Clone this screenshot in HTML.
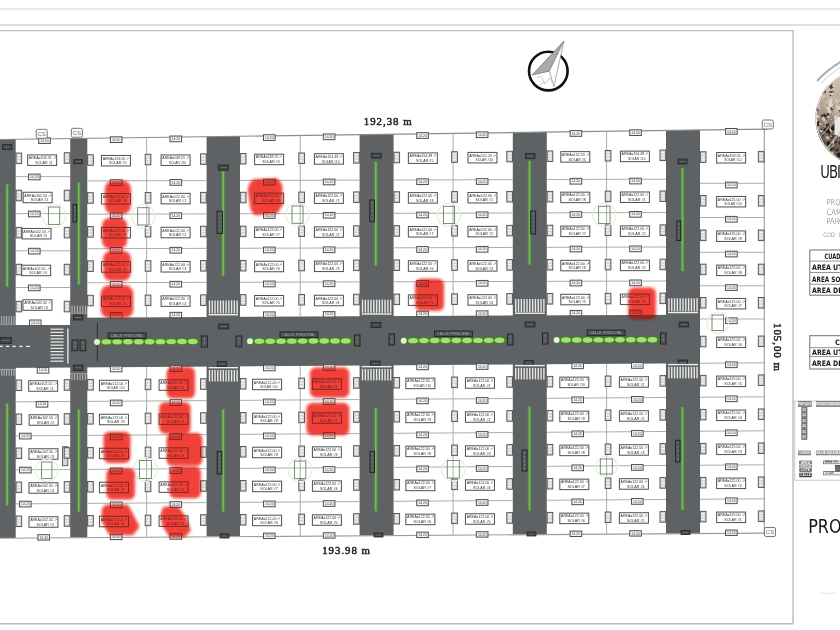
<!DOCTYPE html>
<html><head><meta charset="utf-8"><title>Plano de lotificacion</title>
<style>
html,body{margin:0;padding:0;background:#fff;}
body{width:840px;height:630px;overflow:hidden;position:relative;}
svg{position:absolute;left:0;top:0;filter:blur(0.6px);}
</style></head><body>
<svg width="840" height="630" viewBox="0 0 840 630">
<defs>
<filter id="blur" x="-30%" y="-30%" width="160%" height="160%"><feGaussianBlur stdDeviation="1.5"/></filter>
</defs>
<polygon points="0,325 70.2,325 70.2,317.66 700,314.64 700,363.24 0,368" fill="#5f6264" stroke="none" stroke-width="1" />
<polygon points="0,139.2 15.7,138.99 15.7,537.89 0,538" fill="#5f6264" stroke="none" stroke-width="1" />
<polygon points="70.2,138.25 87.3,138.02 87.3,537.41 70.2,537.52" fill="#5f6264" stroke="none" stroke-width="1" />
<polygon points="206.6,136.41 240,135.96 240,536.37 206.6,536.6" fill="#5f6264" stroke="none" stroke-width="1" />
<polygon points="359.6,134.35 393.6,133.89 393.6,535.32 359.6,535.55" fill="#5f6264" stroke="none" stroke-width="1" />
<polygon points="512.8,132.28 546.8,131.82 546.8,534.28 512.8,534.51" fill="#5f6264" stroke="none" stroke-width="1" />
<polygon points="666,130.21 700,129.75 700,533.24 666,533.47" fill="#5f6264" stroke="none" stroke-width="1" />
<line x1="0" y1="139.5" x2="767" y2="129.15" stroke="#8c8c8c" stroke-width="1.1" />
<line x1="0" y1="538.3" x2="766" y2="533.09" stroke="#9c9c9c" stroke-width="1.1" />
<line x1="764.3" y1="129.18" x2="764.3" y2="532.8" stroke="#9c9c9c" stroke-width="1.1" />
<line x1="15.7" y1="176.6" x2="70.2" y2="176.6" stroke="#a4a4a4" stroke-width="0.9" />
<line x1="15.7" y1="213.6" x2="70.2" y2="213.6" stroke="#a4a4a4" stroke-width="0.9" />
<line x1="15.7" y1="250.8" x2="70.2" y2="250.8" stroke="#a4a4a4" stroke-width="0.9" />
<line x1="15.7" y1="287.5" x2="70.2" y2="287.5" stroke="#a4a4a4" stroke-width="0.9" />
<line x1="15.7" y1="401.89" x2="70.2" y2="401.52" stroke="#a4a4a4" stroke-width="0.9" />
<line x1="15.7" y1="435.89" x2="70.2" y2="435.52" stroke="#a4a4a4" stroke-width="0.9" />
<line x1="15.7" y1="469.89" x2="70.2" y2="469.52" stroke="#a4a4a4" stroke-width="0.9" />
<line x1="15.7" y1="503.89" x2="70.2" y2="503.52" stroke="#a4a4a4" stroke-width="0.9" />
<line x1="87.3" y1="180.94" x2="206.6" y2="180.58" stroke="#a4a4a4" stroke-width="0.9" />
<line x1="87.3" y1="214.24" x2="206.6" y2="213.88" stroke="#a4a4a4" stroke-width="0.9" />
<line x1="87.3" y1="248.74" x2="206.6" y2="248.38" stroke="#a4a4a4" stroke-width="0.9" />
<line x1="87.3" y1="282.74" x2="206.6" y2="282.38" stroke="#a4a4a4" stroke-width="0.9" />
<line x1="146.6" y1="137.52" x2="146.6" y2="317.3" stroke="#a4a4a4" stroke-width="0.9" />
<line x1="87.3" y1="401.41" x2="206.6" y2="400.6" stroke="#a4a4a4" stroke-width="0.9" />
<line x1="87.3" y1="435.41" x2="206.6" y2="434.6" stroke="#a4a4a4" stroke-width="0.9" />
<line x1="87.3" y1="469.41" x2="206.6" y2="468.6" stroke="#a4a4a4" stroke-width="0.9" />
<line x1="87.3" y1="503.41" x2="206.6" y2="502.6" stroke="#a4a4a4" stroke-width="0.9" />
<line x1="146.6" y1="367" x2="146.6" y2="537" stroke="#a4a4a4" stroke-width="0.9" />
<line x1="240" y1="180.48" x2="359.6" y2="180.12" stroke="#a4a4a4" stroke-width="0.9" />
<line x1="240" y1="213.78" x2="359.6" y2="213.42" stroke="#a4a4a4" stroke-width="0.9" />
<line x1="240" y1="248.28" x2="359.6" y2="247.92" stroke="#a4a4a4" stroke-width="0.9" />
<line x1="240" y1="282.28" x2="359.6" y2="281.92" stroke="#a4a4a4" stroke-width="0.9" />
<line x1="300.2" y1="135.45" x2="300.2" y2="316.56" stroke="#a4a4a4" stroke-width="0.9" />
<line x1="240" y1="400.37" x2="359.6" y2="399.55" stroke="#a4a4a4" stroke-width="0.9" />
<line x1="240" y1="434.37" x2="359.6" y2="433.55" stroke="#a4a4a4" stroke-width="0.9" />
<line x1="240" y1="468.37" x2="359.6" y2="467.55" stroke="#a4a4a4" stroke-width="0.9" />
<line x1="240" y1="502.37" x2="359.6" y2="501.55" stroke="#a4a4a4" stroke-width="0.9" />
<line x1="300.2" y1="365.96" x2="300.2" y2="535.96" stroke="#a4a4a4" stroke-width="0.9" />
<line x1="393.6" y1="180.02" x2="512.8" y2="179.66" stroke="#a4a4a4" stroke-width="0.9" />
<line x1="393.6" y1="213.32" x2="512.8" y2="212.96" stroke="#a4a4a4" stroke-width="0.9" />
<line x1="393.6" y1="247.82" x2="512.8" y2="247.46" stroke="#a4a4a4" stroke-width="0.9" />
<line x1="393.6" y1="281.82" x2="512.8" y2="281.46" stroke="#a4a4a4" stroke-width="0.9" />
<line x1="453.1" y1="133.38" x2="453.1" y2="315.83" stroke="#a4a4a4" stroke-width="0.9" />
<line x1="393.6" y1="399.32" x2="512.8" y2="398.51" stroke="#a4a4a4" stroke-width="0.9" />
<line x1="393.6" y1="433.32" x2="512.8" y2="432.51" stroke="#a4a4a4" stroke-width="0.9" />
<line x1="393.6" y1="467.32" x2="512.8" y2="466.51" stroke="#a4a4a4" stroke-width="0.9" />
<line x1="393.6" y1="501.32" x2="512.8" y2="500.51" stroke="#a4a4a4" stroke-width="0.9" />
<line x1="453.1" y1="364.92" x2="453.1" y2="534.92" stroke="#a4a4a4" stroke-width="0.9" />
<line x1="546.8" y1="179.56" x2="666" y2="179.2" stroke="#a4a4a4" stroke-width="0.9" />
<line x1="546.8" y1="212.86" x2="666" y2="212.5" stroke="#a4a4a4" stroke-width="0.9" />
<line x1="546.8" y1="247.36" x2="666" y2="247" stroke="#a4a4a4" stroke-width="0.9" />
<line x1="546.8" y1="281.36" x2="666" y2="281" stroke="#a4a4a4" stroke-width="0.9" />
<line x1="606.6" y1="131.31" x2="606.6" y2="315.09" stroke="#a4a4a4" stroke-width="0.9" />
<line x1="546.8" y1="398.28" x2="666" y2="397.47" stroke="#a4a4a4" stroke-width="0.9" />
<line x1="546.8" y1="432.28" x2="666" y2="431.47" stroke="#a4a4a4" stroke-width="0.9" />
<line x1="546.8" y1="466.28" x2="666" y2="465.47" stroke="#a4a4a4" stroke-width="0.9" />
<line x1="546.8" y1="500.28" x2="666" y2="499.47" stroke="#a4a4a4" stroke-width="0.9" />
<line x1="606.6" y1="363.88" x2="606.6" y2="533.88" stroke="#a4a4a4" stroke-width="0.9" />
<line x1="700" y1="183.3" x2="764.3" y2="183.3" stroke="#a4a4a4" stroke-width="0.9" />
<line x1="700" y1="217.5" x2="764.3" y2="217.5" stroke="#a4a4a4" stroke-width="0.9" />
<line x1="700" y1="252.3" x2="764.3" y2="252.3" stroke="#a4a4a4" stroke-width="0.9" />
<line x1="700" y1="285.8" x2="764.3" y2="285.8" stroke="#a4a4a4" stroke-width="0.9" />
<line x1="700" y1="319" x2="764.3" y2="319" stroke="#a4a4a4" stroke-width="0.9" />
<line x1="700" y1="363.24" x2="764.3" y2="362.8" stroke="#a4a4a4" stroke-width="0.9" />
<line x1="700" y1="397.24" x2="764.3" y2="396.8" stroke="#a4a4a4" stroke-width="0.9" />
<line x1="700" y1="431.24" x2="764.3" y2="430.8" stroke="#a4a4a4" stroke-width="0.9" />
<line x1="700" y1="465.24" x2="764.3" y2="464.8" stroke="#a4a4a4" stroke-width="0.9" />
<line x1="700" y1="499.24" x2="764.3" y2="498.8" stroke="#a4a4a4" stroke-width="0.9" />
<rect x="27.65" y="154.91" width="29" height="10.5" fill="none" stroke="#4e4e4e" stroke-width="1.0" />
<text x="28.85" y="159.21" font-family="Liberation Sans, sans-serif" font-size="3.7" fill="#303030" text-anchor="start" font-weight="normal" textLength="26.6" lengthAdjust="spacingAndGlyphs">AREA=158.26 &#8599;</text>
<text x="35.25" y="163.81" font-family="Liberation Sans, sans-serif" font-size="3.7" fill="#303030" text-anchor="start" font-weight="normal" textLength="17.5" lengthAdjust="spacingAndGlyphs">SOLAR #1</text>
<rect x="38.7" y="137.82" width="11.6" height="5.7" fill="#f4f4f4" stroke="#4e4e4e" stroke-width="1.0" />
<text x="44.5" y="141.82" font-family="Liberation Sans, sans-serif" font-size="3.4" fill="#444" text-anchor="middle" font-weight="normal" >14.20</text>
<rect x="23.15" y="192.25" width="29" height="10.5" fill="none" stroke="#4e4e4e" stroke-width="1.0" />
<text x="24.35" y="196.55" font-family="Liberation Sans, sans-serif" font-size="3.7" fill="#303030" text-anchor="start" font-weight="normal" textLength="26.6" lengthAdjust="spacingAndGlyphs">AREA=102.50 &#8599;</text>
<text x="30.75" y="201.15" font-family="Liberation Sans, sans-serif" font-size="3.7" fill="#303030" text-anchor="start" font-weight="normal" textLength="17.5" lengthAdjust="spacingAndGlyphs">SOLAR #2</text>
<rect x="28.5" y="174.1" width="11.6" height="5.7" fill="#f4f4f4" stroke="#4e4e4e" stroke-width="1.0" />
<text x="34.3" y="178.1" font-family="Liberation Sans, sans-serif" font-size="3.4" fill="#444" text-anchor="middle" font-weight="normal" >14.20</text>
<rect x="22.05" y="228.45" width="29" height="10.5" fill="none" stroke="#4e4e4e" stroke-width="1.0" />
<text x="23.25" y="232.75" font-family="Liberation Sans, sans-serif" font-size="3.7" fill="#303030" text-anchor="start" font-weight="normal" textLength="26.6" lengthAdjust="spacingAndGlyphs">AREA=102.50 &#8599;</text>
<text x="29.65" y="237.35" font-family="Liberation Sans, sans-serif" font-size="3.7" fill="#303030" text-anchor="start" font-weight="normal" textLength="17.5" lengthAdjust="spacingAndGlyphs">SOLAR #3</text>
<rect x="28.5" y="211.1" width="11.6" height="5.7" fill="#f4f4f4" stroke="#4e4e4e" stroke-width="1.0" />
<text x="34.3" y="215.1" font-family="Liberation Sans, sans-serif" font-size="3.4" fill="#444" text-anchor="middle" font-weight="normal" >14.20</text>
<rect x="21.65" y="265.2" width="29" height="10.5" fill="none" stroke="#4e4e4e" stroke-width="1.0" />
<text x="22.85" y="269.5" font-family="Liberation Sans, sans-serif" font-size="3.7" fill="#303030" text-anchor="start" font-weight="normal" textLength="26.6" lengthAdjust="spacingAndGlyphs">AREA=102.50 &#8599;</text>
<text x="29.25" y="274.1" font-family="Liberation Sans, sans-serif" font-size="3.7" fill="#303030" text-anchor="start" font-weight="normal" textLength="17.5" lengthAdjust="spacingAndGlyphs">SOLAR #4</text>
<rect x="28.5" y="248.3" width="11.6" height="5.7" fill="#f4f4f4" stroke="#4e4e4e" stroke-width="1.0" />
<text x="34.3" y="252.3" font-family="Liberation Sans, sans-serif" font-size="3.4" fill="#444" text-anchor="middle" font-weight="normal" >14.20</text>
<rect x="22.95" y="299.8" width="29" height="10.5" fill="none" stroke="#4e4e4e" stroke-width="1.0" />
<text x="24.15" y="304.1" font-family="Liberation Sans, sans-serif" font-size="3.7" fill="#303030" text-anchor="start" font-weight="normal" textLength="26.6" lengthAdjust="spacingAndGlyphs">AREA=102.50 &#8599;</text>
<text x="30.55" y="308.7" font-family="Liberation Sans, sans-serif" font-size="3.7" fill="#303030" text-anchor="start" font-weight="normal" textLength="17.5" lengthAdjust="spacingAndGlyphs">SOLAR #5</text>
<rect x="28.5" y="285" width="11.6" height="5.7" fill="#f4f4f4" stroke="#4e4e4e" stroke-width="1.0" />
<text x="34.3" y="289" font-family="Liberation Sans, sans-serif" font-size="3.4" fill="#444" text-anchor="middle" font-weight="normal" >14.20</text>
<rect x="28.65" y="380.76" width="29" height="10.5" fill="none" stroke="#4e4e4e" stroke-width="1.0" />
<text x="29.85" y="385.06" font-family="Liberation Sans, sans-serif" font-size="3.7" fill="#303030" text-anchor="start" font-weight="normal" textLength="26.6" lengthAdjust="spacingAndGlyphs">AREA=102.50 &#8599;</text>
<text x="36.25" y="389.66" font-family="Liberation Sans, sans-serif" font-size="3.7" fill="#303030" text-anchor="start" font-weight="normal" textLength="17.5" lengthAdjust="spacingAndGlyphs">SOLAR #1</text>
<rect x="37.2" y="367.41" width="11.6" height="5.7" fill="#f4f4f4" stroke="#4e4e4e" stroke-width="1.0" />
<text x="43" y="371.41" font-family="Liberation Sans, sans-serif" font-size="3.4" fill="#444" text-anchor="middle" font-weight="normal" >14.20</text>
<rect x="29.15" y="414.76" width="29" height="10.5" fill="none" stroke="#4e4e4e" stroke-width="1.0" />
<text x="30.35" y="419.06" font-family="Liberation Sans, sans-serif" font-size="3.7" fill="#303030" text-anchor="start" font-weight="normal" textLength="26.6" lengthAdjust="spacingAndGlyphs">AREA=102.50 &#8599;</text>
<text x="36.75" y="423.66" font-family="Liberation Sans, sans-serif" font-size="3.7" fill="#303030" text-anchor="start" font-weight="normal" textLength="17.5" lengthAdjust="spacingAndGlyphs">SOLAR #2</text>
<rect x="36.2" y="401.41" width="11.6" height="5.7" fill="#f4f4f4" stroke="#4e4e4e" stroke-width="1.0" />
<text x="42" y="405.41" font-family="Liberation Sans, sans-serif" font-size="3.4" fill="#444" text-anchor="middle" font-weight="normal" >14.20</text>
<rect x="28.95" y="448.76" width="29" height="10.5" fill="none" stroke="#4e4e4e" stroke-width="1.0" />
<text x="30.15" y="453.06" font-family="Liberation Sans, sans-serif" font-size="3.7" fill="#303030" text-anchor="start" font-weight="normal" textLength="26.6" lengthAdjust="spacingAndGlyphs">AREA=102.50 &#8599;</text>
<text x="36.55" y="457.66" font-family="Liberation Sans, sans-serif" font-size="3.7" fill="#303030" text-anchor="start" font-weight="normal" textLength="17.5" lengthAdjust="spacingAndGlyphs">SOLAR #3</text>
<rect x="19.5" y="433.21" width="11.6" height="5.7" fill="#f4f4f4" stroke="#4e4e4e" stroke-width="1.0" />
<text x="25.3" y="437.21" font-family="Liberation Sans, sans-serif" font-size="3.4" fill="#444" text-anchor="middle" font-weight="normal" >14.20</text>
<rect x="28.95" y="482.76" width="29" height="10.5" fill="none" stroke="#4e4e4e" stroke-width="1.0" />
<text x="30.15" y="487.06" font-family="Liberation Sans, sans-serif" font-size="3.7" fill="#303030" text-anchor="start" font-weight="normal" textLength="26.6" lengthAdjust="spacingAndGlyphs">AREA=102.50 &#8599;</text>
<text x="36.55" y="491.66" font-family="Liberation Sans, sans-serif" font-size="3.7" fill="#303030" text-anchor="start" font-weight="normal" textLength="17.5" lengthAdjust="spacingAndGlyphs">SOLAR #4</text>
<rect x="19.5" y="467.21" width="11.6" height="5.7" fill="#f4f4f4" stroke="#4e4e4e" stroke-width="1.0" />
<text x="25.3" y="471.21" font-family="Liberation Sans, sans-serif" font-size="3.4" fill="#444" text-anchor="middle" font-weight="normal" >14.20</text>
<rect x="28.95" y="516.76" width="29" height="10.5" fill="none" stroke="#4e4e4e" stroke-width="1.0" />
<text x="30.15" y="521.06" font-family="Liberation Sans, sans-serif" font-size="3.7" fill="#303030" text-anchor="start" font-weight="normal" textLength="26.6" lengthAdjust="spacingAndGlyphs">AREA=102.50 &#8599;</text>
<text x="36.55" y="525.66" font-family="Liberation Sans, sans-serif" font-size="3.7" fill="#303030" text-anchor="start" font-weight="normal" textLength="17.5" lengthAdjust="spacingAndGlyphs">SOLAR #5</text>
<rect x="19.5" y="501.21" width="11.6" height="5.7" fill="#f4f4f4" stroke="#4e4e4e" stroke-width="1.0" />
<text x="25.3" y="505.21" font-family="Liberation Sans, sans-serif" font-size="3.4" fill="#444" text-anchor="middle" font-weight="normal" >14.20</text>
<rect x="101.45" y="155.44" width="29" height="10.5" fill="none" stroke="#4e4e4e" stroke-width="1.0" />
<text x="102.65" y="159.74" font-family="Liberation Sans, sans-serif" font-size="3.7" fill="#303030" text-anchor="start" font-weight="normal" textLength="26.6" lengthAdjust="spacingAndGlyphs">AREA=156.55 &#8599;</text>
<text x="109.05" y="164.34" font-family="Liberation Sans, sans-serif" font-size="3.7" fill="#303030" text-anchor="start" font-weight="normal" textLength="17.5" lengthAdjust="spacingAndGlyphs">SOLAR #5</text>
<rect x="110.35" y="136.82" width="11.6" height="5.7" fill="#f4f4f4" stroke="#4e4e4e" stroke-width="1.0" />
<text x="116.15" y="140.82" font-family="Liberation Sans, sans-serif" font-size="3.4" fill="#444" text-anchor="middle" font-weight="normal" >14.20</text>
<rect x="161.1" y="154.94" width="29" height="10.5" fill="none" stroke="#4e4e4e" stroke-width="1.0" />
<text x="162.3" y="159.24" font-family="Liberation Sans, sans-serif" font-size="3.7" fill="#303030" text-anchor="start" font-weight="normal" textLength="26.6" lengthAdjust="spacingAndGlyphs">AREA=149.51 &#8599;</text>
<text x="168.7" y="163.84" font-family="Liberation Sans, sans-serif" font-size="3.7" fill="#303030" text-anchor="start" font-weight="normal" textLength="17.5" lengthAdjust="spacingAndGlyphs">SOLAR #10</text>
<rect x="170" y="136.02" width="11.6" height="5.7" fill="#f4f4f4" stroke="#4e4e4e" stroke-width="1.0" />
<text x="175.8" y="140.02" font-family="Liberation Sans, sans-serif" font-size="3.4" fill="#444" text-anchor="middle" font-weight="normal" >14.20</text>
<rect x="101.45" y="193.55" width="29" height="10.5" fill="none" stroke="#4e4e4e" stroke-width="1.0" />
<text x="102.65" y="197.85" font-family="Liberation Sans, sans-serif" font-size="3.7" fill="#303030" text-anchor="start" font-weight="normal" textLength="26.6" lengthAdjust="spacingAndGlyphs">AREA=122.00 &#8599;</text>
<text x="109.05" y="202.45" font-family="Liberation Sans, sans-serif" font-size="3.7" fill="#303030" text-anchor="start" font-weight="normal" textLength="17.5" lengthAdjust="spacingAndGlyphs">SOLAR #8</text>
<rect x="110.35" y="179.75" width="11.6" height="5.7" fill="#f4f4f4" stroke="#4e4e4e" stroke-width="1.0" />
<text x="116.15" y="183.75" font-family="Liberation Sans, sans-serif" font-size="3.4" fill="#444" text-anchor="middle" font-weight="normal" >14.20</text>
<rect x="161.1" y="193.37" width="29" height="10.5" fill="none" stroke="#4e4e4e" stroke-width="1.0" />
<text x="162.3" y="197.67" font-family="Liberation Sans, sans-serif" font-size="3.7" fill="#303030" text-anchor="start" font-weight="normal" textLength="26.6" lengthAdjust="spacingAndGlyphs">AREA=122.00 &#8599;</text>
<text x="168.7" y="202.27" font-family="Liberation Sans, sans-serif" font-size="3.7" fill="#303030" text-anchor="start" font-weight="normal" textLength="17.5" lengthAdjust="spacingAndGlyphs">SOLAR #1</text>
<rect x="170" y="179.57" width="11.6" height="5.7" fill="#f4f4f4" stroke="#4e4e4e" stroke-width="1.0" />
<text x="175.8" y="183.57" font-family="Liberation Sans, sans-serif" font-size="3.4" fill="#444" text-anchor="middle" font-weight="normal" >14.20</text>
<rect x="101.45" y="227.45" width="29" height="10.5" fill="none" stroke="#4e4e4e" stroke-width="1.0" />
<text x="102.65" y="231.75" font-family="Liberation Sans, sans-serif" font-size="3.7" fill="#303030" text-anchor="start" font-weight="normal" textLength="26.6" lengthAdjust="spacingAndGlyphs">AREA=122.00 &#8599;</text>
<text x="109.05" y="236.35" font-family="Liberation Sans, sans-serif" font-size="3.7" fill="#303030" text-anchor="start" font-weight="normal" textLength="17.5" lengthAdjust="spacingAndGlyphs">SOLAR #7</text>
<rect x="110.35" y="213.05" width="11.6" height="5.7" fill="#f4f4f4" stroke="#4e4e4e" stroke-width="1.0" />
<text x="116.15" y="217.05" font-family="Liberation Sans, sans-serif" font-size="3.4" fill="#444" text-anchor="middle" font-weight="normal" >14.20</text>
<rect x="161.1" y="227.27" width="29" height="10.5" fill="none" stroke="#4e4e4e" stroke-width="1.0" />
<text x="162.3" y="231.57" font-family="Liberation Sans, sans-serif" font-size="3.7" fill="#303030" text-anchor="start" font-weight="normal" textLength="26.6" lengthAdjust="spacingAndGlyphs">AREA=122.00 &#8599;</text>
<text x="168.7" y="236.17" font-family="Liberation Sans, sans-serif" font-size="3.7" fill="#303030" text-anchor="start" font-weight="normal" textLength="17.5" lengthAdjust="spacingAndGlyphs">SOLAR #2</text>
<rect x="170" y="212.87" width="11.6" height="5.7" fill="#f4f4f4" stroke="#4e4e4e" stroke-width="1.0" />
<text x="175.8" y="216.87" font-family="Liberation Sans, sans-serif" font-size="3.4" fill="#444" text-anchor="middle" font-weight="normal" >14.20</text>
<rect x="101.45" y="261.7" width="29" height="10.5" fill="none" stroke="#4e4e4e" stroke-width="1.0" />
<text x="102.65" y="266" font-family="Liberation Sans, sans-serif" font-size="3.7" fill="#303030" text-anchor="start" font-weight="normal" textLength="26.6" lengthAdjust="spacingAndGlyphs">AREA=122.00 &#8599;</text>
<text x="109.05" y="270.6" font-family="Liberation Sans, sans-serif" font-size="3.7" fill="#303030" text-anchor="start" font-weight="normal" textLength="17.5" lengthAdjust="spacingAndGlyphs">SOLAR #6</text>
<rect x="110.35" y="247.55" width="11.6" height="5.7" fill="#f4f4f4" stroke="#4e4e4e" stroke-width="1.0" />
<text x="116.15" y="251.55" font-family="Liberation Sans, sans-serif" font-size="3.4" fill="#444" text-anchor="middle" font-weight="normal" >14.20</text>
<rect x="161.1" y="261.52" width="29" height="10.5" fill="none" stroke="#4e4e4e" stroke-width="1.0" />
<text x="162.3" y="265.82" font-family="Liberation Sans, sans-serif" font-size="3.7" fill="#303030" text-anchor="start" font-weight="normal" textLength="26.6" lengthAdjust="spacingAndGlyphs">AREA=122.00 &#8599;</text>
<text x="168.7" y="270.42" font-family="Liberation Sans, sans-serif" font-size="3.7" fill="#303030" text-anchor="start" font-weight="normal" textLength="17.5" lengthAdjust="spacingAndGlyphs">SOLAR #3</text>
<rect x="170" y="247.37" width="11.6" height="5.7" fill="#f4f4f4" stroke="#4e4e4e" stroke-width="1.0" />
<text x="175.8" y="251.37" font-family="Liberation Sans, sans-serif" font-size="3.4" fill="#444" text-anchor="middle" font-weight="normal" >14.20</text>
<rect x="101.45" y="296.09" width="29" height="10.5" fill="none" stroke="#4e4e4e" stroke-width="1.0" />
<text x="102.65" y="300.39" font-family="Liberation Sans, sans-serif" font-size="3.7" fill="#303030" text-anchor="start" font-weight="normal" textLength="26.6" lengthAdjust="spacingAndGlyphs">AREA=122.00 &#8599;</text>
<text x="109.05" y="304.99" font-family="Liberation Sans, sans-serif" font-size="3.7" fill="#303030" text-anchor="start" font-weight="normal" textLength="17.5" lengthAdjust="spacingAndGlyphs">SOLAR #5</text>
<rect x="110.35" y="281.55" width="11.6" height="5.7" fill="#f4f4f4" stroke="#4e4e4e" stroke-width="1.0" />
<text x="116.15" y="285.55" font-family="Liberation Sans, sans-serif" font-size="3.4" fill="#444" text-anchor="middle" font-weight="normal" >14.20</text>
<rect x="161.1" y="295.86" width="29" height="10.5" fill="none" stroke="#4e4e4e" stroke-width="1.0" />
<text x="162.3" y="300.16" font-family="Liberation Sans, sans-serif" font-size="3.7" fill="#303030" text-anchor="start" font-weight="normal" textLength="26.6" lengthAdjust="spacingAndGlyphs">AREA=122.00 &#8599;</text>
<text x="168.7" y="304.76" font-family="Liberation Sans, sans-serif" font-size="3.7" fill="#303030" text-anchor="start" font-weight="normal" textLength="17.5" lengthAdjust="spacingAndGlyphs">SOLAR #4</text>
<rect x="170" y="281.37" width="11.6" height="5.7" fill="#f4f4f4" stroke="#4e4e4e" stroke-width="1.0" />
<text x="175.8" y="285.37" font-family="Liberation Sans, sans-serif" font-size="3.4" fill="#444" text-anchor="middle" font-weight="normal" >14.20</text>
<rect x="99.45" y="380.25" width="29" height="10.5" fill="none" stroke="#4e4e4e" stroke-width="1.0" />
<text x="100.65" y="384.55" font-family="Liberation Sans, sans-serif" font-size="3.7" fill="#303030" text-anchor="start" font-weight="normal" textLength="26.6" lengthAdjust="spacingAndGlyphs">AREA=122.00 &#8599;</text>
<text x="107.05" y="389.15" font-family="Liberation Sans, sans-serif" font-size="3.7" fill="#303030" text-anchor="start" font-weight="normal" textLength="17.5" lengthAdjust="spacingAndGlyphs">SOLAR #10</text>
<rect x="110.35" y="366.1" width="11.6" height="5.7" fill="#f4f4f4" stroke="#4e4e4e" stroke-width="1.0" />
<text x="116.15" y="370.1" font-family="Liberation Sans, sans-serif" font-size="3.4" fill="#444" text-anchor="middle" font-weight="normal" >14.20</text>
<rect x="159.1" y="379.85" width="29" height="10.5" fill="none" stroke="#4e4e4e" stroke-width="1.0" />
<text x="160.3" y="384.15" font-family="Liberation Sans, sans-serif" font-size="3.7" fill="#303030" text-anchor="start" font-weight="normal" textLength="26.6" lengthAdjust="spacingAndGlyphs">AREA=122.00 &#8599;</text>
<text x="166.7" y="388.75" font-family="Liberation Sans, sans-serif" font-size="3.7" fill="#303030" text-anchor="start" font-weight="normal" textLength="17.5" lengthAdjust="spacingAndGlyphs">SOLAR #1</text>
<rect x="170" y="365.7" width="11.6" height="5.7" fill="#f4f4f4" stroke="#4e4e4e" stroke-width="1.0" />
<text x="175.8" y="369.7" font-family="Liberation Sans, sans-serif" font-size="3.4" fill="#444" text-anchor="middle" font-weight="normal" >14.20</text>
<rect x="99.45" y="414.25" width="29" height="10.5" fill="none" stroke="#4e4e4e" stroke-width="1.0" />
<text x="100.65" y="418.55" font-family="Liberation Sans, sans-serif" font-size="3.7" fill="#303030" text-anchor="start" font-weight="normal" textLength="26.6" lengthAdjust="spacingAndGlyphs">AREA=122.00 &#8599;</text>
<text x="107.05" y="423.15" font-family="Liberation Sans, sans-serif" font-size="3.7" fill="#303030" text-anchor="start" font-weight="normal" textLength="17.5" lengthAdjust="spacingAndGlyphs">SOLAR #9</text>
<rect x="110.35" y="400.1" width="11.6" height="5.7" fill="#f4f4f4" stroke="#4e4e4e" stroke-width="1.0" />
<text x="116.15" y="404.1" font-family="Liberation Sans, sans-serif" font-size="3.4" fill="#444" text-anchor="middle" font-weight="normal" >14.20</text>
<rect x="159.1" y="413.85" width="29" height="10.5" fill="none" stroke="#4e4e4e" stroke-width="1.0" />
<text x="160.3" y="418.15" font-family="Liberation Sans, sans-serif" font-size="3.7" fill="#303030" text-anchor="start" font-weight="normal" textLength="26.6" lengthAdjust="spacingAndGlyphs">AREA=122.00 &#8599;</text>
<text x="166.7" y="422.75" font-family="Liberation Sans, sans-serif" font-size="3.7" fill="#303030" text-anchor="start" font-weight="normal" textLength="17.5" lengthAdjust="spacingAndGlyphs">SOLAR #2</text>
<rect x="170" y="399.7" width="11.6" height="5.7" fill="#f4f4f4" stroke="#4e4e4e" stroke-width="1.0" />
<text x="175.8" y="403.7" font-family="Liberation Sans, sans-serif" font-size="3.4" fill="#444" text-anchor="middle" font-weight="normal" >14.20</text>
<rect x="99.45" y="448.25" width="29" height="10.5" fill="none" stroke="#4e4e4e" stroke-width="1.0" />
<text x="100.65" y="452.55" font-family="Liberation Sans, sans-serif" font-size="3.7" fill="#303030" text-anchor="start" font-weight="normal" textLength="26.6" lengthAdjust="spacingAndGlyphs">AREA=122.00 &#8599;</text>
<text x="107.05" y="457.15" font-family="Liberation Sans, sans-serif" font-size="3.7" fill="#303030" text-anchor="start" font-weight="normal" textLength="17.5" lengthAdjust="spacingAndGlyphs">SOLAR #8</text>
<rect x="110.35" y="434.1" width="11.6" height="5.7" fill="#f4f4f4" stroke="#4e4e4e" stroke-width="1.0" />
<text x="116.15" y="438.1" font-family="Liberation Sans, sans-serif" font-size="3.4" fill="#444" text-anchor="middle" font-weight="normal" >14.20</text>
<rect x="159.1" y="447.85" width="29" height="10.5" fill="none" stroke="#4e4e4e" stroke-width="1.0" />
<text x="160.3" y="452.15" font-family="Liberation Sans, sans-serif" font-size="3.7" fill="#303030" text-anchor="start" font-weight="normal" textLength="26.6" lengthAdjust="spacingAndGlyphs">AREA=122.00 &#8599;</text>
<text x="166.7" y="456.75" font-family="Liberation Sans, sans-serif" font-size="3.7" fill="#303030" text-anchor="start" font-weight="normal" textLength="17.5" lengthAdjust="spacingAndGlyphs">SOLAR #3</text>
<rect x="170" y="433.7" width="11.6" height="5.7" fill="#f4f4f4" stroke="#4e4e4e" stroke-width="1.0" />
<text x="175.8" y="437.7" font-family="Liberation Sans, sans-serif" font-size="3.4" fill="#444" text-anchor="middle" font-weight="normal" >14.20</text>
<rect x="99.45" y="482.25" width="29" height="10.5" fill="none" stroke="#4e4e4e" stroke-width="1.0" />
<text x="100.65" y="486.55" font-family="Liberation Sans, sans-serif" font-size="3.7" fill="#303030" text-anchor="start" font-weight="normal" textLength="26.6" lengthAdjust="spacingAndGlyphs">AREA=122.00 &#8599;</text>
<text x="107.05" y="491.15" font-family="Liberation Sans, sans-serif" font-size="3.7" fill="#303030" text-anchor="start" font-weight="normal" textLength="17.5" lengthAdjust="spacingAndGlyphs">SOLAR #7</text>
<rect x="110.35" y="468.1" width="11.6" height="5.7" fill="#f4f4f4" stroke="#4e4e4e" stroke-width="1.0" />
<text x="116.15" y="472.1" font-family="Liberation Sans, sans-serif" font-size="3.4" fill="#444" text-anchor="middle" font-weight="normal" >14.20</text>
<rect x="159.1" y="481.85" width="29" height="10.5" fill="none" stroke="#4e4e4e" stroke-width="1.0" />
<text x="160.3" y="486.15" font-family="Liberation Sans, sans-serif" font-size="3.7" fill="#303030" text-anchor="start" font-weight="normal" textLength="26.6" lengthAdjust="spacingAndGlyphs">AREA=122.00 &#8599;</text>
<text x="166.7" y="490.75" font-family="Liberation Sans, sans-serif" font-size="3.7" fill="#303030" text-anchor="start" font-weight="normal" textLength="17.5" lengthAdjust="spacingAndGlyphs">SOLAR #4</text>
<rect x="170" y="467.7" width="11.6" height="5.7" fill="#f4f4f4" stroke="#4e4e4e" stroke-width="1.0" />
<text x="175.8" y="471.7" font-family="Liberation Sans, sans-serif" font-size="3.4" fill="#444" text-anchor="middle" font-weight="normal" >14.20</text>
<rect x="99.45" y="516.25" width="29" height="10.5" fill="none" stroke="#4e4e4e" stroke-width="1.0" />
<text x="100.65" y="520.55" font-family="Liberation Sans, sans-serif" font-size="3.7" fill="#303030" text-anchor="start" font-weight="normal" textLength="26.6" lengthAdjust="spacingAndGlyphs">AREA=122.00 &#8599;</text>
<text x="107.05" y="525.15" font-family="Liberation Sans, sans-serif" font-size="3.7" fill="#303030" text-anchor="start" font-weight="normal" textLength="17.5" lengthAdjust="spacingAndGlyphs">SOLAR #6</text>
<rect x="110.35" y="502.1" width="11.6" height="5.7" fill="#f4f4f4" stroke="#4e4e4e" stroke-width="1.0" />
<text x="116.15" y="506.1" font-family="Liberation Sans, sans-serif" font-size="3.4" fill="#444" text-anchor="middle" font-weight="normal" >14.20</text>
<rect x="159.1" y="515.85" width="29" height="10.5" fill="none" stroke="#4e4e4e" stroke-width="1.0" />
<text x="160.3" y="520.15" font-family="Liberation Sans, sans-serif" font-size="3.7" fill="#303030" text-anchor="start" font-weight="normal" textLength="26.6" lengthAdjust="spacingAndGlyphs">AREA=122.00 &#8599;</text>
<text x="166.7" y="524.75" font-family="Liberation Sans, sans-serif" font-size="3.7" fill="#303030" text-anchor="start" font-weight="normal" textLength="17.5" lengthAdjust="spacingAndGlyphs">SOLAR #5</text>
<rect x="170" y="501.7" width="11.6" height="5.7" fill="#f4f4f4" stroke="#4e4e4e" stroke-width="1.0" />
<text x="175.8" y="505.7" font-family="Liberation Sans, sans-serif" font-size="3.4" fill="#444" text-anchor="middle" font-weight="normal" >14.20</text>
<rect x="254.6" y="154.17" width="29" height="10.5" fill="none" stroke="#4e4e4e" stroke-width="1.0" />
<text x="255.8" y="158.47" font-family="Liberation Sans, sans-serif" font-size="3.7" fill="#303030" text-anchor="start" font-weight="normal" textLength="26.6" lengthAdjust="spacingAndGlyphs">AREA=148.75 &#8599;</text>
<text x="262.2" y="163.07" font-family="Liberation Sans, sans-serif" font-size="3.7" fill="#303030" text-anchor="start" font-weight="normal" textLength="17.5" lengthAdjust="spacingAndGlyphs">SOLAR #5</text>
<rect x="263.5" y="134.75" width="11.6" height="5.7" fill="#f4f4f4" stroke="#4e4e4e" stroke-width="1.0" />
<text x="269.3" y="138.75" font-family="Liberation Sans, sans-serif" font-size="3.4" fill="#444" text-anchor="middle" font-weight="normal" >14.20</text>
<rect x="314.4" y="153.68" width="29" height="10.5" fill="none" stroke="#4e4e4e" stroke-width="1.0" />
<text x="315.6" y="157.98" font-family="Liberation Sans, sans-serif" font-size="3.7" fill="#303030" text-anchor="start" font-weight="normal" textLength="26.6" lengthAdjust="spacingAndGlyphs">AREA=154.49 &#8599;</text>
<text x="322" y="162.58" font-family="Liberation Sans, sans-serif" font-size="3.7" fill="#303030" text-anchor="start" font-weight="normal" textLength="17.5" lengthAdjust="spacingAndGlyphs">SOLAR #10</text>
<rect x="323.3" y="133.95" width="11.6" height="5.7" fill="#f4f4f4" stroke="#4e4e4e" stroke-width="1.0" />
<text x="329.1" y="137.95" font-family="Liberation Sans, sans-serif" font-size="3.4" fill="#444" text-anchor="middle" font-weight="normal" >14.20</text>
<rect x="254.6" y="193.09" width="29" height="10.5" fill="none" stroke="#4e4e4e" stroke-width="1.0" />
<text x="255.8" y="197.39" font-family="Liberation Sans, sans-serif" font-size="3.7" fill="#303030" text-anchor="start" font-weight="normal" textLength="26.6" lengthAdjust="spacingAndGlyphs">AREA=122.00 &#8599;</text>
<text x="262.2" y="201.99" font-family="Liberation Sans, sans-serif" font-size="3.7" fill="#303030" text-anchor="start" font-weight="normal" textLength="17.5" lengthAdjust="spacingAndGlyphs">SOLAR #8</text>
<rect x="263.5" y="179.29" width="11.6" height="5.7" fill="#f4f4f4" stroke="#4e4e4e" stroke-width="1.0" />
<text x="269.3" y="183.29" font-family="Liberation Sans, sans-serif" font-size="3.4" fill="#444" text-anchor="middle" font-weight="normal" >14.20</text>
<rect x="314.4" y="192.91" width="29" height="10.5" fill="none" stroke="#4e4e4e" stroke-width="1.0" />
<text x="315.6" y="197.21" font-family="Liberation Sans, sans-serif" font-size="3.7" fill="#303030" text-anchor="start" font-weight="normal" textLength="26.6" lengthAdjust="spacingAndGlyphs">AREA=122.00 &#8599;</text>
<text x="322" y="201.81" font-family="Liberation Sans, sans-serif" font-size="3.7" fill="#303030" text-anchor="start" font-weight="normal" textLength="17.5" lengthAdjust="spacingAndGlyphs">SOLAR #1</text>
<rect x="323.3" y="179.11" width="11.6" height="5.7" fill="#f4f4f4" stroke="#4e4e4e" stroke-width="1.0" />
<text x="329.1" y="183.11" font-family="Liberation Sans, sans-serif" font-size="3.4" fill="#444" text-anchor="middle" font-weight="normal" >14.20</text>
<rect x="254.6" y="226.99" width="29" height="10.5" fill="none" stroke="#4e4e4e" stroke-width="1.0" />
<text x="255.8" y="231.29" font-family="Liberation Sans, sans-serif" font-size="3.7" fill="#303030" text-anchor="start" font-weight="normal" textLength="26.6" lengthAdjust="spacingAndGlyphs">AREA=122.00 &#8599;</text>
<text x="262.2" y="235.89" font-family="Liberation Sans, sans-serif" font-size="3.7" fill="#303030" text-anchor="start" font-weight="normal" textLength="17.5" lengthAdjust="spacingAndGlyphs">SOLAR #7</text>
<rect x="263.5" y="212.59" width="11.6" height="5.7" fill="#f4f4f4" stroke="#4e4e4e" stroke-width="1.0" />
<text x="269.3" y="216.59" font-family="Liberation Sans, sans-serif" font-size="3.4" fill="#444" text-anchor="middle" font-weight="normal" >14.20</text>
<rect x="314.4" y="226.81" width="29" height="10.5" fill="none" stroke="#4e4e4e" stroke-width="1.0" />
<text x="315.6" y="231.11" font-family="Liberation Sans, sans-serif" font-size="3.7" fill="#303030" text-anchor="start" font-weight="normal" textLength="26.6" lengthAdjust="spacingAndGlyphs">AREA=122.00 &#8599;</text>
<text x="322" y="235.71" font-family="Liberation Sans, sans-serif" font-size="3.7" fill="#303030" text-anchor="start" font-weight="normal" textLength="17.5" lengthAdjust="spacingAndGlyphs">SOLAR #2</text>
<rect x="323.3" y="212.41" width="11.6" height="5.7" fill="#f4f4f4" stroke="#4e4e4e" stroke-width="1.0" />
<text x="329.1" y="216.41" font-family="Liberation Sans, sans-serif" font-size="3.4" fill="#444" text-anchor="middle" font-weight="normal" >14.20</text>
<rect x="254.6" y="261.24" width="29" height="10.5" fill="none" stroke="#4e4e4e" stroke-width="1.0" />
<text x="255.8" y="265.54" font-family="Liberation Sans, sans-serif" font-size="3.7" fill="#303030" text-anchor="start" font-weight="normal" textLength="26.6" lengthAdjust="spacingAndGlyphs">AREA=122.00 &#8599;</text>
<text x="262.2" y="270.14" font-family="Liberation Sans, sans-serif" font-size="3.7" fill="#303030" text-anchor="start" font-weight="normal" textLength="17.5" lengthAdjust="spacingAndGlyphs">SOLAR #6</text>
<rect x="263.5" y="247.09" width="11.6" height="5.7" fill="#f4f4f4" stroke="#4e4e4e" stroke-width="1.0" />
<text x="269.3" y="251.09" font-family="Liberation Sans, sans-serif" font-size="3.4" fill="#444" text-anchor="middle" font-weight="normal" >14.20</text>
<rect x="314.4" y="261.06" width="29" height="10.5" fill="none" stroke="#4e4e4e" stroke-width="1.0" />
<text x="315.6" y="265.36" font-family="Liberation Sans, sans-serif" font-size="3.7" fill="#303030" text-anchor="start" font-weight="normal" textLength="26.6" lengthAdjust="spacingAndGlyphs">AREA=122.00 &#8599;</text>
<text x="322" y="269.96" font-family="Liberation Sans, sans-serif" font-size="3.7" fill="#303030" text-anchor="start" font-weight="normal" textLength="17.5" lengthAdjust="spacingAndGlyphs">SOLAR #3</text>
<rect x="323.3" y="246.91" width="11.6" height="5.7" fill="#f4f4f4" stroke="#4e4e4e" stroke-width="1.0" />
<text x="329.1" y="250.91" font-family="Liberation Sans, sans-serif" font-size="3.4" fill="#444" text-anchor="middle" font-weight="normal" >14.20</text>
<rect x="254.6" y="295.5" width="29" height="10.5" fill="none" stroke="#4e4e4e" stroke-width="1.0" />
<text x="255.8" y="299.8" font-family="Liberation Sans, sans-serif" font-size="3.7" fill="#303030" text-anchor="start" font-weight="normal" textLength="26.6" lengthAdjust="spacingAndGlyphs">AREA=122.00 &#8599;</text>
<text x="262.2" y="304.4" font-family="Liberation Sans, sans-serif" font-size="3.7" fill="#303030" text-anchor="start" font-weight="normal" textLength="17.5" lengthAdjust="spacingAndGlyphs">SOLAR #5</text>
<rect x="263.5" y="281.09" width="11.6" height="5.7" fill="#f4f4f4" stroke="#4e4e4e" stroke-width="1.0" />
<text x="269.3" y="285.09" font-family="Liberation Sans, sans-serif" font-size="3.4" fill="#444" text-anchor="middle" font-weight="normal" >14.20</text>
<rect x="314.4" y="295.26" width="29" height="10.5" fill="none" stroke="#4e4e4e" stroke-width="1.0" />
<text x="315.6" y="299.56" font-family="Liberation Sans, sans-serif" font-size="3.7" fill="#303030" text-anchor="start" font-weight="normal" textLength="26.6" lengthAdjust="spacingAndGlyphs">AREA=122.00 &#8599;</text>
<text x="322" y="304.16" font-family="Liberation Sans, sans-serif" font-size="3.7" fill="#303030" text-anchor="start" font-weight="normal" textLength="17.5" lengthAdjust="spacingAndGlyphs">SOLAR #4</text>
<rect x="323.3" y="280.91" width="11.6" height="5.7" fill="#f4f4f4" stroke="#4e4e4e" stroke-width="1.0" />
<text x="329.1" y="284.91" font-family="Liberation Sans, sans-serif" font-size="3.4" fill="#444" text-anchor="middle" font-weight="normal" >14.20</text>
<rect x="252.6" y="379.21" width="29" height="10.5" fill="none" stroke="#4e4e4e" stroke-width="1.0" />
<text x="253.8" y="383.51" font-family="Liberation Sans, sans-serif" font-size="3.7" fill="#303030" text-anchor="start" font-weight="normal" textLength="26.6" lengthAdjust="spacingAndGlyphs">AREA=122.00 &#8599;</text>
<text x="260.2" y="388.11" font-family="Liberation Sans, sans-serif" font-size="3.7" fill="#303030" text-anchor="start" font-weight="normal" textLength="17.5" lengthAdjust="spacingAndGlyphs">SOLAR #10</text>
<rect x="263.5" y="365.06" width="11.6" height="5.7" fill="#f4f4f4" stroke="#4e4e4e" stroke-width="1.0" />
<text x="269.3" y="369.06" font-family="Liberation Sans, sans-serif" font-size="3.4" fill="#444" text-anchor="middle" font-weight="normal" >14.20</text>
<rect x="312.4" y="378.81" width="29" height="10.5" fill="none" stroke="#4e4e4e" stroke-width="1.0" />
<text x="313.6" y="383.11" font-family="Liberation Sans, sans-serif" font-size="3.7" fill="#303030" text-anchor="start" font-weight="normal" textLength="26.6" lengthAdjust="spacingAndGlyphs">AREA=122.00 &#8599;</text>
<text x="320" y="387.71" font-family="Liberation Sans, sans-serif" font-size="3.7" fill="#303030" text-anchor="start" font-weight="normal" textLength="17.5" lengthAdjust="spacingAndGlyphs">SOLAR #1</text>
<rect x="323.3" y="364.66" width="11.6" height="5.7" fill="#f4f4f4" stroke="#4e4e4e" stroke-width="1.0" />
<text x="329.1" y="368.66" font-family="Liberation Sans, sans-serif" font-size="3.4" fill="#444" text-anchor="middle" font-weight="normal" >14.20</text>
<rect x="252.6" y="413.21" width="29" height="10.5" fill="none" stroke="#4e4e4e" stroke-width="1.0" />
<text x="253.8" y="417.51" font-family="Liberation Sans, sans-serif" font-size="3.7" fill="#303030" text-anchor="start" font-weight="normal" textLength="26.6" lengthAdjust="spacingAndGlyphs">AREA=122.00 &#8599;</text>
<text x="260.2" y="422.11" font-family="Liberation Sans, sans-serif" font-size="3.7" fill="#303030" text-anchor="start" font-weight="normal" textLength="17.5" lengthAdjust="spacingAndGlyphs">SOLAR #9</text>
<rect x="263.5" y="399.06" width="11.6" height="5.7" fill="#f4f4f4" stroke="#4e4e4e" stroke-width="1.0" />
<text x="269.3" y="403.06" font-family="Liberation Sans, sans-serif" font-size="3.4" fill="#444" text-anchor="middle" font-weight="normal" >14.20</text>
<rect x="312.4" y="412.81" width="29" height="10.5" fill="none" stroke="#4e4e4e" stroke-width="1.0" />
<text x="313.6" y="417.11" font-family="Liberation Sans, sans-serif" font-size="3.7" fill="#303030" text-anchor="start" font-weight="normal" textLength="26.6" lengthAdjust="spacingAndGlyphs">AREA=122.00 &#8599;</text>
<text x="320" y="421.71" font-family="Liberation Sans, sans-serif" font-size="3.7" fill="#303030" text-anchor="start" font-weight="normal" textLength="17.5" lengthAdjust="spacingAndGlyphs">SOLAR #2</text>
<rect x="323.3" y="398.66" width="11.6" height="5.7" fill="#f4f4f4" stroke="#4e4e4e" stroke-width="1.0" />
<text x="329.1" y="402.66" font-family="Liberation Sans, sans-serif" font-size="3.4" fill="#444" text-anchor="middle" font-weight="normal" >14.20</text>
<rect x="252.6" y="447.21" width="29" height="10.5" fill="none" stroke="#4e4e4e" stroke-width="1.0" />
<text x="253.8" y="451.51" font-family="Liberation Sans, sans-serif" font-size="3.7" fill="#303030" text-anchor="start" font-weight="normal" textLength="26.6" lengthAdjust="spacingAndGlyphs">AREA=122.00 &#8599;</text>
<text x="260.2" y="456.11" font-family="Liberation Sans, sans-serif" font-size="3.7" fill="#303030" text-anchor="start" font-weight="normal" textLength="17.5" lengthAdjust="spacingAndGlyphs">SOLAR #8</text>
<rect x="263.5" y="433.06" width="11.6" height="5.7" fill="#f4f4f4" stroke="#4e4e4e" stroke-width="1.0" />
<text x="269.3" y="437.06" font-family="Liberation Sans, sans-serif" font-size="3.4" fill="#444" text-anchor="middle" font-weight="normal" >14.20</text>
<rect x="312.4" y="446.81" width="29" height="10.5" fill="none" stroke="#4e4e4e" stroke-width="1.0" />
<text x="313.6" y="451.11" font-family="Liberation Sans, sans-serif" font-size="3.7" fill="#303030" text-anchor="start" font-weight="normal" textLength="26.6" lengthAdjust="spacingAndGlyphs">AREA=122.00 &#8599;</text>
<text x="320" y="455.71" font-family="Liberation Sans, sans-serif" font-size="3.7" fill="#303030" text-anchor="start" font-weight="normal" textLength="17.5" lengthAdjust="spacingAndGlyphs">SOLAR #3</text>
<rect x="323.3" y="432.66" width="11.6" height="5.7" fill="#f4f4f4" stroke="#4e4e4e" stroke-width="1.0" />
<text x="329.1" y="436.66" font-family="Liberation Sans, sans-serif" font-size="3.4" fill="#444" text-anchor="middle" font-weight="normal" >14.20</text>
<rect x="252.6" y="481.21" width="29" height="10.5" fill="none" stroke="#4e4e4e" stroke-width="1.0" />
<text x="253.8" y="485.51" font-family="Liberation Sans, sans-serif" font-size="3.7" fill="#303030" text-anchor="start" font-weight="normal" textLength="26.6" lengthAdjust="spacingAndGlyphs">AREA=122.00 &#8599;</text>
<text x="260.2" y="490.11" font-family="Liberation Sans, sans-serif" font-size="3.7" fill="#303030" text-anchor="start" font-weight="normal" textLength="17.5" lengthAdjust="spacingAndGlyphs">SOLAR #7</text>
<rect x="263.5" y="467.06" width="11.6" height="5.7" fill="#f4f4f4" stroke="#4e4e4e" stroke-width="1.0" />
<text x="269.3" y="471.06" font-family="Liberation Sans, sans-serif" font-size="3.4" fill="#444" text-anchor="middle" font-weight="normal" >14.20</text>
<rect x="312.4" y="480.81" width="29" height="10.5" fill="none" stroke="#4e4e4e" stroke-width="1.0" />
<text x="313.6" y="485.11" font-family="Liberation Sans, sans-serif" font-size="3.7" fill="#303030" text-anchor="start" font-weight="normal" textLength="26.6" lengthAdjust="spacingAndGlyphs">AREA=122.00 &#8599;</text>
<text x="320" y="489.71" font-family="Liberation Sans, sans-serif" font-size="3.7" fill="#303030" text-anchor="start" font-weight="normal" textLength="17.5" lengthAdjust="spacingAndGlyphs">SOLAR #4</text>
<rect x="323.3" y="466.66" width="11.6" height="5.7" fill="#f4f4f4" stroke="#4e4e4e" stroke-width="1.0" />
<text x="329.1" y="470.66" font-family="Liberation Sans, sans-serif" font-size="3.4" fill="#444" text-anchor="middle" font-weight="normal" >14.20</text>
<rect x="252.6" y="515.21" width="29" height="10.5" fill="none" stroke="#4e4e4e" stroke-width="1.0" />
<text x="253.8" y="519.51" font-family="Liberation Sans, sans-serif" font-size="3.7" fill="#303030" text-anchor="start" font-weight="normal" textLength="26.6" lengthAdjust="spacingAndGlyphs">AREA=122.00 &#8599;</text>
<text x="260.2" y="524.11" font-family="Liberation Sans, sans-serif" font-size="3.7" fill="#303030" text-anchor="start" font-weight="normal" textLength="17.5" lengthAdjust="spacingAndGlyphs">SOLAR #6</text>
<rect x="263.5" y="501.06" width="11.6" height="5.7" fill="#f4f4f4" stroke="#4e4e4e" stroke-width="1.0" />
<text x="269.3" y="505.06" font-family="Liberation Sans, sans-serif" font-size="3.4" fill="#444" text-anchor="middle" font-weight="normal" >14.20</text>
<rect x="312.4" y="514.81" width="29" height="10.5" fill="none" stroke="#4e4e4e" stroke-width="1.0" />
<text x="313.6" y="519.11" font-family="Liberation Sans, sans-serif" font-size="3.7" fill="#303030" text-anchor="start" font-weight="normal" textLength="26.6" lengthAdjust="spacingAndGlyphs">AREA=122.00 &#8599;</text>
<text x="320" y="523.71" font-family="Liberation Sans, sans-serif" font-size="3.7" fill="#303030" text-anchor="start" font-weight="normal" textLength="17.5" lengthAdjust="spacingAndGlyphs">SOLAR #5</text>
<rect x="323.3" y="500.66" width="11.6" height="5.7" fill="#f4f4f4" stroke="#4e4e4e" stroke-width="1.0" />
<text x="329.1" y="504.66" font-family="Liberation Sans, sans-serif" font-size="3.4" fill="#444" text-anchor="middle" font-weight="normal" >14.20</text>
<rect x="408.35" y="152.91" width="29" height="10.5" fill="none" stroke="#4e4e4e" stroke-width="1.0" />
<text x="409.55" y="157.21" font-family="Liberation Sans, sans-serif" font-size="3.7" fill="#303030" text-anchor="start" font-weight="normal" textLength="26.6" lengthAdjust="spacingAndGlyphs">AREA=154.49 &#8599;</text>
<text x="415.95" y="161.81" font-family="Liberation Sans, sans-serif" font-size="3.7" fill="#303030" text-anchor="start" font-weight="normal" textLength="17.5" lengthAdjust="spacingAndGlyphs">SOLAR #5</text>
<rect x="416.75" y="132.68" width="11.6" height="5.7" fill="#f4f4f4" stroke="#4e4e4e" stroke-width="1.0" />
<text x="422.55" y="136.68" font-family="Liberation Sans, sans-serif" font-size="3.4" fill="#444" text-anchor="middle" font-weight="normal" >14.20</text>
<rect x="467.95" y="152.42" width="29" height="10.5" fill="none" stroke="#4e4e4e" stroke-width="1.0" />
<text x="469.15" y="156.72" font-family="Liberation Sans, sans-serif" font-size="3.7" fill="#303030" text-anchor="start" font-weight="normal" textLength="26.6" lengthAdjust="spacingAndGlyphs">AREA=151.20 &#8599;</text>
<text x="475.55" y="161.32" font-family="Liberation Sans, sans-serif" font-size="3.7" fill="#303030" text-anchor="start" font-weight="normal" textLength="17.5" lengthAdjust="spacingAndGlyphs">SOLAR #10</text>
<rect x="476.35" y="131.88" width="11.6" height="5.7" fill="#f4f4f4" stroke="#4e4e4e" stroke-width="1.0" />
<text x="482.15" y="135.88" font-family="Liberation Sans, sans-serif" font-size="3.4" fill="#444" text-anchor="middle" font-weight="normal" >14.20</text>
<rect x="408.35" y="192.63" width="29" height="10.5" fill="none" stroke="#4e4e4e" stroke-width="1.0" />
<text x="409.55" y="196.93" font-family="Liberation Sans, sans-serif" font-size="3.7" fill="#303030" text-anchor="start" font-weight="normal" textLength="26.6" lengthAdjust="spacingAndGlyphs">AREA=122.00 &#8599;</text>
<text x="415.95" y="201.53" font-family="Liberation Sans, sans-serif" font-size="3.7" fill="#303030" text-anchor="start" font-weight="normal" textLength="17.5" lengthAdjust="spacingAndGlyphs">SOLAR #8</text>
<rect x="416.75" y="178.83" width="11.6" height="5.7" fill="#f4f4f4" stroke="#4e4e4e" stroke-width="1.0" />
<text x="422.55" y="182.83" font-family="Liberation Sans, sans-serif" font-size="3.4" fill="#444" text-anchor="middle" font-weight="normal" >14.20</text>
<rect x="467.95" y="192.45" width="29" height="10.5" fill="none" stroke="#4e4e4e" stroke-width="1.0" />
<text x="469.15" y="196.75" font-family="Liberation Sans, sans-serif" font-size="3.7" fill="#303030" text-anchor="start" font-weight="normal" textLength="26.6" lengthAdjust="spacingAndGlyphs">AREA=122.00 &#8599;</text>
<text x="475.55" y="201.35" font-family="Liberation Sans, sans-serif" font-size="3.7" fill="#303030" text-anchor="start" font-weight="normal" textLength="17.5" lengthAdjust="spacingAndGlyphs">SOLAR #1</text>
<rect x="476.35" y="178.65" width="11.6" height="5.7" fill="#f4f4f4" stroke="#4e4e4e" stroke-width="1.0" />
<text x="482.15" y="182.65" font-family="Liberation Sans, sans-serif" font-size="3.4" fill="#444" text-anchor="middle" font-weight="normal" >14.20</text>
<rect x="408.35" y="226.53" width="29" height="10.5" fill="none" stroke="#4e4e4e" stroke-width="1.0" />
<text x="409.55" y="230.83" font-family="Liberation Sans, sans-serif" font-size="3.7" fill="#303030" text-anchor="start" font-weight="normal" textLength="26.6" lengthAdjust="spacingAndGlyphs">AREA=122.00 &#8599;</text>
<text x="415.95" y="235.43" font-family="Liberation Sans, sans-serif" font-size="3.7" fill="#303030" text-anchor="start" font-weight="normal" textLength="17.5" lengthAdjust="spacingAndGlyphs">SOLAR #7</text>
<rect x="416.75" y="212.13" width="11.6" height="5.7" fill="#f4f4f4" stroke="#4e4e4e" stroke-width="1.0" />
<text x="422.55" y="216.13" font-family="Liberation Sans, sans-serif" font-size="3.4" fill="#444" text-anchor="middle" font-weight="normal" >14.20</text>
<rect x="467.95" y="226.35" width="29" height="10.5" fill="none" stroke="#4e4e4e" stroke-width="1.0" />
<text x="469.15" y="230.65" font-family="Liberation Sans, sans-serif" font-size="3.7" fill="#303030" text-anchor="start" font-weight="normal" textLength="26.6" lengthAdjust="spacingAndGlyphs">AREA=122.00 &#8599;</text>
<text x="475.55" y="235.25" font-family="Liberation Sans, sans-serif" font-size="3.7" fill="#303030" text-anchor="start" font-weight="normal" textLength="17.5" lengthAdjust="spacingAndGlyphs">SOLAR #2</text>
<rect x="476.35" y="211.95" width="11.6" height="5.7" fill="#f4f4f4" stroke="#4e4e4e" stroke-width="1.0" />
<text x="482.15" y="215.95" font-family="Liberation Sans, sans-serif" font-size="3.4" fill="#444" text-anchor="middle" font-weight="normal" >14.20</text>
<rect x="408.35" y="260.78" width="29" height="10.5" fill="none" stroke="#4e4e4e" stroke-width="1.0" />
<text x="409.55" y="265.08" font-family="Liberation Sans, sans-serif" font-size="3.7" fill="#303030" text-anchor="start" font-weight="normal" textLength="26.6" lengthAdjust="spacingAndGlyphs">AREA=122.00 &#8599;</text>
<text x="415.95" y="269.68" font-family="Liberation Sans, sans-serif" font-size="3.7" fill="#303030" text-anchor="start" font-weight="normal" textLength="17.5" lengthAdjust="spacingAndGlyphs">SOLAR #6</text>
<rect x="416.75" y="246.63" width="11.6" height="5.7" fill="#f4f4f4" stroke="#4e4e4e" stroke-width="1.0" />
<text x="422.55" y="250.63" font-family="Liberation Sans, sans-serif" font-size="3.4" fill="#444" text-anchor="middle" font-weight="normal" >14.20</text>
<rect x="467.95" y="260.6" width="29" height="10.5" fill="none" stroke="#4e4e4e" stroke-width="1.0" />
<text x="469.15" y="264.9" font-family="Liberation Sans, sans-serif" font-size="3.7" fill="#303030" text-anchor="start" font-weight="normal" textLength="26.6" lengthAdjust="spacingAndGlyphs">AREA=122.00 &#8599;</text>
<text x="475.55" y="269.5" font-family="Liberation Sans, sans-serif" font-size="3.7" fill="#303030" text-anchor="start" font-weight="normal" textLength="17.5" lengthAdjust="spacingAndGlyphs">SOLAR #3</text>
<rect x="476.35" y="246.45" width="11.6" height="5.7" fill="#f4f4f4" stroke="#4e4e4e" stroke-width="1.0" />
<text x="482.15" y="250.45" font-family="Liberation Sans, sans-serif" font-size="3.4" fill="#444" text-anchor="middle" font-weight="normal" >14.20</text>
<rect x="408.35" y="294.9" width="29" height="10.5" fill="none" stroke="#4e4e4e" stroke-width="1.0" />
<text x="409.55" y="299.2" font-family="Liberation Sans, sans-serif" font-size="3.7" fill="#303030" text-anchor="start" font-weight="normal" textLength="26.6" lengthAdjust="spacingAndGlyphs">AREA=122.00 &#8599;</text>
<text x="415.95" y="303.8" font-family="Liberation Sans, sans-serif" font-size="3.7" fill="#303030" text-anchor="start" font-weight="normal" textLength="17.5" lengthAdjust="spacingAndGlyphs">SOLAR #5</text>
<rect x="416.75" y="280.63" width="11.6" height="5.7" fill="#f4f4f4" stroke="#4e4e4e" stroke-width="1.0" />
<text x="422.55" y="284.63" font-family="Liberation Sans, sans-serif" font-size="3.4" fill="#444" text-anchor="middle" font-weight="normal" >14.20</text>
<rect x="467.95" y="294.67" width="29" height="10.5" fill="none" stroke="#4e4e4e" stroke-width="1.0" />
<text x="469.15" y="298.97" font-family="Liberation Sans, sans-serif" font-size="3.7" fill="#303030" text-anchor="start" font-weight="normal" textLength="26.6" lengthAdjust="spacingAndGlyphs">AREA=122.00 &#8599;</text>
<text x="475.55" y="303.57" font-family="Liberation Sans, sans-serif" font-size="3.7" fill="#303030" text-anchor="start" font-weight="normal" textLength="17.5" lengthAdjust="spacingAndGlyphs">SOLAR #4</text>
<rect x="476.35" y="280.45" width="11.6" height="5.7" fill="#f4f4f4" stroke="#4e4e4e" stroke-width="1.0" />
<text x="482.15" y="284.45" font-family="Liberation Sans, sans-serif" font-size="3.4" fill="#444" text-anchor="middle" font-weight="normal" >14.20</text>
<rect x="405.85" y="378.17" width="29" height="10.5" fill="none" stroke="#4e4e4e" stroke-width="1.0" />
<text x="407.05" y="382.47" font-family="Liberation Sans, sans-serif" font-size="3.7" fill="#303030" text-anchor="start" font-weight="normal" textLength="26.6" lengthAdjust="spacingAndGlyphs">AREA=122.00 &#8599;</text>
<text x="413.45" y="387.07" font-family="Liberation Sans, sans-serif" font-size="3.7" fill="#303030" text-anchor="start" font-weight="normal" textLength="17.5" lengthAdjust="spacingAndGlyphs">SOLAR #10</text>
<rect x="416.75" y="364.02" width="11.6" height="5.7" fill="#f4f4f4" stroke="#4e4e4e" stroke-width="1.0" />
<text x="422.55" y="368.02" font-family="Liberation Sans, sans-serif" font-size="3.4" fill="#444" text-anchor="middle" font-weight="normal" >14.20</text>
<rect x="465.45" y="377.77" width="29" height="10.5" fill="none" stroke="#4e4e4e" stroke-width="1.0" />
<text x="466.65" y="382.07" font-family="Liberation Sans, sans-serif" font-size="3.7" fill="#303030" text-anchor="start" font-weight="normal" textLength="26.6" lengthAdjust="spacingAndGlyphs">AREA=122.00 &#8599;</text>
<text x="473.05" y="386.67" font-family="Liberation Sans, sans-serif" font-size="3.7" fill="#303030" text-anchor="start" font-weight="normal" textLength="17.5" lengthAdjust="spacingAndGlyphs">SOLAR #1</text>
<rect x="476.35" y="363.62" width="11.6" height="5.7" fill="#f4f4f4" stroke="#4e4e4e" stroke-width="1.0" />
<text x="482.15" y="367.62" font-family="Liberation Sans, sans-serif" font-size="3.4" fill="#444" text-anchor="middle" font-weight="normal" >14.20</text>
<rect x="405.85" y="412.17" width="29" height="10.5" fill="none" stroke="#4e4e4e" stroke-width="1.0" />
<text x="407.05" y="416.47" font-family="Liberation Sans, sans-serif" font-size="3.7" fill="#303030" text-anchor="start" font-weight="normal" textLength="26.6" lengthAdjust="spacingAndGlyphs">AREA=122.00 &#8599;</text>
<text x="413.45" y="421.07" font-family="Liberation Sans, sans-serif" font-size="3.7" fill="#303030" text-anchor="start" font-weight="normal" textLength="17.5" lengthAdjust="spacingAndGlyphs">SOLAR #9</text>
<rect x="416.75" y="398.02" width="11.6" height="5.7" fill="#f4f4f4" stroke="#4e4e4e" stroke-width="1.0" />
<text x="422.55" y="402.02" font-family="Liberation Sans, sans-serif" font-size="3.4" fill="#444" text-anchor="middle" font-weight="normal" >14.20</text>
<rect x="465.45" y="411.77" width="29" height="10.5" fill="none" stroke="#4e4e4e" stroke-width="1.0" />
<text x="466.65" y="416.07" font-family="Liberation Sans, sans-serif" font-size="3.7" fill="#303030" text-anchor="start" font-weight="normal" textLength="26.6" lengthAdjust="spacingAndGlyphs">AREA=122.00 &#8599;</text>
<text x="473.05" y="420.67" font-family="Liberation Sans, sans-serif" font-size="3.7" fill="#303030" text-anchor="start" font-weight="normal" textLength="17.5" lengthAdjust="spacingAndGlyphs">SOLAR #2</text>
<rect x="476.35" y="397.62" width="11.6" height="5.7" fill="#f4f4f4" stroke="#4e4e4e" stroke-width="1.0" />
<text x="482.15" y="401.62" font-family="Liberation Sans, sans-serif" font-size="3.4" fill="#444" text-anchor="middle" font-weight="normal" >14.20</text>
<rect x="405.85" y="446.17" width="29" height="10.5" fill="none" stroke="#4e4e4e" stroke-width="1.0" />
<text x="407.05" y="450.47" font-family="Liberation Sans, sans-serif" font-size="3.7" fill="#303030" text-anchor="start" font-weight="normal" textLength="26.6" lengthAdjust="spacingAndGlyphs">AREA=122.00 &#8599;</text>
<text x="413.45" y="455.07" font-family="Liberation Sans, sans-serif" font-size="3.7" fill="#303030" text-anchor="start" font-weight="normal" textLength="17.5" lengthAdjust="spacingAndGlyphs">SOLAR #8</text>
<rect x="416.75" y="432.02" width="11.6" height="5.7" fill="#f4f4f4" stroke="#4e4e4e" stroke-width="1.0" />
<text x="422.55" y="436.02" font-family="Liberation Sans, sans-serif" font-size="3.4" fill="#444" text-anchor="middle" font-weight="normal" >14.20</text>
<rect x="465.45" y="445.77" width="29" height="10.5" fill="none" stroke="#4e4e4e" stroke-width="1.0" />
<text x="466.65" y="450.07" font-family="Liberation Sans, sans-serif" font-size="3.7" fill="#303030" text-anchor="start" font-weight="normal" textLength="26.6" lengthAdjust="spacingAndGlyphs">AREA=122.00 &#8599;</text>
<text x="473.05" y="454.67" font-family="Liberation Sans, sans-serif" font-size="3.7" fill="#303030" text-anchor="start" font-weight="normal" textLength="17.5" lengthAdjust="spacingAndGlyphs">SOLAR #3</text>
<rect x="476.35" y="431.62" width="11.6" height="5.7" fill="#f4f4f4" stroke="#4e4e4e" stroke-width="1.0" />
<text x="482.15" y="435.62" font-family="Liberation Sans, sans-serif" font-size="3.4" fill="#444" text-anchor="middle" font-weight="normal" >14.20</text>
<rect x="405.85" y="480.17" width="29" height="10.5" fill="none" stroke="#4e4e4e" stroke-width="1.0" />
<text x="407.05" y="484.47" font-family="Liberation Sans, sans-serif" font-size="3.7" fill="#303030" text-anchor="start" font-weight="normal" textLength="26.6" lengthAdjust="spacingAndGlyphs">AREA=122.00 &#8599;</text>
<text x="413.45" y="489.07" font-family="Liberation Sans, sans-serif" font-size="3.7" fill="#303030" text-anchor="start" font-weight="normal" textLength="17.5" lengthAdjust="spacingAndGlyphs">SOLAR #7</text>
<rect x="416.75" y="466.02" width="11.6" height="5.7" fill="#f4f4f4" stroke="#4e4e4e" stroke-width="1.0" />
<text x="422.55" y="470.02" font-family="Liberation Sans, sans-serif" font-size="3.4" fill="#444" text-anchor="middle" font-weight="normal" >14.20</text>
<rect x="465.45" y="479.77" width="29" height="10.5" fill="none" stroke="#4e4e4e" stroke-width="1.0" />
<text x="466.65" y="484.07" font-family="Liberation Sans, sans-serif" font-size="3.7" fill="#303030" text-anchor="start" font-weight="normal" textLength="26.6" lengthAdjust="spacingAndGlyphs">AREA=122.00 &#8599;</text>
<text x="473.05" y="488.67" font-family="Liberation Sans, sans-serif" font-size="3.7" fill="#303030" text-anchor="start" font-weight="normal" textLength="17.5" lengthAdjust="spacingAndGlyphs">SOLAR #4</text>
<rect x="476.35" y="465.62" width="11.6" height="5.7" fill="#f4f4f4" stroke="#4e4e4e" stroke-width="1.0" />
<text x="482.15" y="469.62" font-family="Liberation Sans, sans-serif" font-size="3.4" fill="#444" text-anchor="middle" font-weight="normal" >14.20</text>
<rect x="405.85" y="514.17" width="29" height="10.5" fill="none" stroke="#4e4e4e" stroke-width="1.0" />
<text x="407.05" y="518.47" font-family="Liberation Sans, sans-serif" font-size="3.7" fill="#303030" text-anchor="start" font-weight="normal" textLength="26.6" lengthAdjust="spacingAndGlyphs">AREA=122.00 &#8599;</text>
<text x="413.45" y="523.07" font-family="Liberation Sans, sans-serif" font-size="3.7" fill="#303030" text-anchor="start" font-weight="normal" textLength="17.5" lengthAdjust="spacingAndGlyphs">SOLAR #6</text>
<rect x="416.75" y="500.02" width="11.6" height="5.7" fill="#f4f4f4" stroke="#4e4e4e" stroke-width="1.0" />
<text x="422.55" y="504.02" font-family="Liberation Sans, sans-serif" font-size="3.4" fill="#444" text-anchor="middle" font-weight="normal" >14.20</text>
<rect x="465.45" y="513.77" width="29" height="10.5" fill="none" stroke="#4e4e4e" stroke-width="1.0" />
<text x="466.65" y="518.07" font-family="Liberation Sans, sans-serif" font-size="3.7" fill="#303030" text-anchor="start" font-weight="normal" textLength="26.6" lengthAdjust="spacingAndGlyphs">AREA=122.00 &#8599;</text>
<text x="473.05" y="522.67" font-family="Liberation Sans, sans-serif" font-size="3.7" fill="#303030" text-anchor="start" font-weight="normal" textLength="17.5" lengthAdjust="spacingAndGlyphs">SOLAR #5</text>
<rect x="476.35" y="499.62" width="11.6" height="5.7" fill="#f4f4f4" stroke="#4e4e4e" stroke-width="1.0" />
<text x="482.15" y="503.62" font-family="Liberation Sans, sans-serif" font-size="3.4" fill="#444" text-anchor="middle" font-weight="normal" >14.20</text>
<rect x="560.8" y="151.64" width="29" height="10.5" fill="none" stroke="#4e4e4e" stroke-width="1.0" />
<text x="562" y="155.94" font-family="Liberation Sans, sans-serif" font-size="3.7" fill="#303030" text-anchor="start" font-weight="normal" textLength="26.6" lengthAdjust="spacingAndGlyphs">AREA=152.23 &#8599;</text>
<text x="568.4" y="160.54" font-family="Liberation Sans, sans-serif" font-size="3.7" fill="#303030" text-anchor="start" font-weight="normal" textLength="17.5" lengthAdjust="spacingAndGlyphs">SOLAR #5</text>
<rect x="570.1" y="130.61" width="11.6" height="5.7" fill="#f4f4f4" stroke="#4e4e4e" stroke-width="1.0" />
<text x="575.9" y="134.61" font-family="Liberation Sans, sans-serif" font-size="3.4" fill="#444" text-anchor="middle" font-weight="normal" >14.20</text>
<rect x="620.4" y="151.15" width="29" height="10.5" fill="none" stroke="#4e4e4e" stroke-width="1.0" />
<text x="621.6" y="155.45" font-family="Liberation Sans, sans-serif" font-size="3.7" fill="#303030" text-anchor="start" font-weight="normal" textLength="26.6" lengthAdjust="spacingAndGlyphs">AREA=154.49 &#8599;</text>
<text x="628" y="160.05" font-family="Liberation Sans, sans-serif" font-size="3.7" fill="#303030" text-anchor="start" font-weight="normal" textLength="17.5" lengthAdjust="spacingAndGlyphs">SOLAR #10</text>
<rect x="629.7" y="129.81" width="11.6" height="5.7" fill="#f4f4f4" stroke="#4e4e4e" stroke-width="1.0" />
<text x="635.5" y="133.81" font-family="Liberation Sans, sans-serif" font-size="3.4" fill="#444" text-anchor="middle" font-weight="normal" >14.20</text>
<rect x="560.8" y="192.17" width="29" height="10.5" fill="none" stroke="#4e4e4e" stroke-width="1.0" />
<text x="562" y="196.47" font-family="Liberation Sans, sans-serif" font-size="3.7" fill="#303030" text-anchor="start" font-weight="normal" textLength="26.6" lengthAdjust="spacingAndGlyphs">AREA=122.00 &#8599;</text>
<text x="568.4" y="201.07" font-family="Liberation Sans, sans-serif" font-size="3.7" fill="#303030" text-anchor="start" font-weight="normal" textLength="17.5" lengthAdjust="spacingAndGlyphs">SOLAR #8</text>
<rect x="570.1" y="178.37" width="11.6" height="5.7" fill="#f4f4f4" stroke="#4e4e4e" stroke-width="1.0" />
<text x="575.9" y="182.37" font-family="Liberation Sans, sans-serif" font-size="3.4" fill="#444" text-anchor="middle" font-weight="normal" >14.20</text>
<rect x="620.4" y="191.99" width="29" height="10.5" fill="none" stroke="#4e4e4e" stroke-width="1.0" />
<text x="621.6" y="196.29" font-family="Liberation Sans, sans-serif" font-size="3.7" fill="#303030" text-anchor="start" font-weight="normal" textLength="26.6" lengthAdjust="spacingAndGlyphs">AREA=122.00 &#8599;</text>
<text x="628" y="200.89" font-family="Liberation Sans, sans-serif" font-size="3.7" fill="#303030" text-anchor="start" font-weight="normal" textLength="17.5" lengthAdjust="spacingAndGlyphs">SOLAR #1</text>
<rect x="629.7" y="178.19" width="11.6" height="5.7" fill="#f4f4f4" stroke="#4e4e4e" stroke-width="1.0" />
<text x="635.5" y="182.19" font-family="Liberation Sans, sans-serif" font-size="3.4" fill="#444" text-anchor="middle" font-weight="normal" >14.20</text>
<rect x="560.8" y="226.07" width="29" height="10.5" fill="none" stroke="#4e4e4e" stroke-width="1.0" />
<text x="562" y="230.37" font-family="Liberation Sans, sans-serif" font-size="3.7" fill="#303030" text-anchor="start" font-weight="normal" textLength="26.6" lengthAdjust="spacingAndGlyphs">AREA=122.00 &#8599;</text>
<text x="568.4" y="234.97" font-family="Liberation Sans, sans-serif" font-size="3.7" fill="#303030" text-anchor="start" font-weight="normal" textLength="17.5" lengthAdjust="spacingAndGlyphs">SOLAR #7</text>
<rect x="570.1" y="211.67" width="11.6" height="5.7" fill="#f4f4f4" stroke="#4e4e4e" stroke-width="1.0" />
<text x="575.9" y="215.67" font-family="Liberation Sans, sans-serif" font-size="3.4" fill="#444" text-anchor="middle" font-weight="normal" >14.20</text>
<rect x="620.4" y="225.89" width="29" height="10.5" fill="none" stroke="#4e4e4e" stroke-width="1.0" />
<text x="621.6" y="230.19" font-family="Liberation Sans, sans-serif" font-size="3.7" fill="#303030" text-anchor="start" font-weight="normal" textLength="26.6" lengthAdjust="spacingAndGlyphs">AREA=122.00 &#8599;</text>
<text x="628" y="234.79" font-family="Liberation Sans, sans-serif" font-size="3.7" fill="#303030" text-anchor="start" font-weight="normal" textLength="17.5" lengthAdjust="spacingAndGlyphs">SOLAR #2</text>
<rect x="629.7" y="211.49" width="11.6" height="5.7" fill="#f4f4f4" stroke="#4e4e4e" stroke-width="1.0" />
<text x="635.5" y="215.49" font-family="Liberation Sans, sans-serif" font-size="3.4" fill="#444" text-anchor="middle" font-weight="normal" >14.20</text>
<rect x="560.8" y="260.32" width="29" height="10.5" fill="none" stroke="#4e4e4e" stroke-width="1.0" />
<text x="562" y="264.62" font-family="Liberation Sans, sans-serif" font-size="3.7" fill="#303030" text-anchor="start" font-weight="normal" textLength="26.6" lengthAdjust="spacingAndGlyphs">AREA=122.00 &#8599;</text>
<text x="568.4" y="269.22" font-family="Liberation Sans, sans-serif" font-size="3.7" fill="#303030" text-anchor="start" font-weight="normal" textLength="17.5" lengthAdjust="spacingAndGlyphs">SOLAR #6</text>
<rect x="570.1" y="246.17" width="11.6" height="5.7" fill="#f4f4f4" stroke="#4e4e4e" stroke-width="1.0" />
<text x="575.9" y="250.17" font-family="Liberation Sans, sans-serif" font-size="3.4" fill="#444" text-anchor="middle" font-weight="normal" >14.20</text>
<rect x="620.4" y="260.14" width="29" height="10.5" fill="none" stroke="#4e4e4e" stroke-width="1.0" />
<text x="621.6" y="264.44" font-family="Liberation Sans, sans-serif" font-size="3.7" fill="#303030" text-anchor="start" font-weight="normal" textLength="26.6" lengthAdjust="spacingAndGlyphs">AREA=122.00 &#8599;</text>
<text x="628" y="269.04" font-family="Liberation Sans, sans-serif" font-size="3.7" fill="#303030" text-anchor="start" font-weight="normal" textLength="17.5" lengthAdjust="spacingAndGlyphs">SOLAR #3</text>
<rect x="629.7" y="245.99" width="11.6" height="5.7" fill="#f4f4f4" stroke="#4e4e4e" stroke-width="1.0" />
<text x="635.5" y="249.99" font-family="Liberation Sans, sans-serif" font-size="3.4" fill="#444" text-anchor="middle" font-weight="normal" >14.20</text>
<rect x="560.8" y="294.3" width="29" height="10.5" fill="none" stroke="#4e4e4e" stroke-width="1.0" />
<text x="562" y="298.6" font-family="Liberation Sans, sans-serif" font-size="3.7" fill="#303030" text-anchor="start" font-weight="normal" textLength="26.6" lengthAdjust="spacingAndGlyphs">AREA=122.00 &#8599;</text>
<text x="568.4" y="303.2" font-family="Liberation Sans, sans-serif" font-size="3.7" fill="#303030" text-anchor="start" font-weight="normal" textLength="17.5" lengthAdjust="spacingAndGlyphs">SOLAR #5</text>
<rect x="570.1" y="280.17" width="11.6" height="5.7" fill="#f4f4f4" stroke="#4e4e4e" stroke-width="1.0" />
<text x="575.9" y="284.17" font-family="Liberation Sans, sans-serif" font-size="3.4" fill="#444" text-anchor="middle" font-weight="normal" >14.20</text>
<rect x="620.4" y="294.07" width="29" height="10.5" fill="none" stroke="#4e4e4e" stroke-width="1.0" />
<text x="621.6" y="298.37" font-family="Liberation Sans, sans-serif" font-size="3.7" fill="#303030" text-anchor="start" font-weight="normal" textLength="26.6" lengthAdjust="spacingAndGlyphs">AREA=122.00 &#8599;</text>
<text x="628" y="302.97" font-family="Liberation Sans, sans-serif" font-size="3.7" fill="#303030" text-anchor="start" font-weight="normal" textLength="17.5" lengthAdjust="spacingAndGlyphs">SOLAR #4</text>
<rect x="629.7" y="279.99" width="11.6" height="5.7" fill="#f4f4f4" stroke="#4e4e4e" stroke-width="1.0" />
<text x="635.5" y="283.99" font-family="Liberation Sans, sans-serif" font-size="3.4" fill="#444" text-anchor="middle" font-weight="normal" >14.20</text>
<rect x="559.8" y="377.13" width="29" height="10.5" fill="none" stroke="#4e4e4e" stroke-width="1.0" />
<text x="561" y="381.43" font-family="Liberation Sans, sans-serif" font-size="3.7" fill="#303030" text-anchor="start" font-weight="normal" textLength="26.6" lengthAdjust="spacingAndGlyphs">AREA=122.00 &#8599;</text>
<text x="567.4" y="386.03" font-family="Liberation Sans, sans-serif" font-size="3.7" fill="#303030" text-anchor="start" font-weight="normal" textLength="17.5" lengthAdjust="spacingAndGlyphs">SOLAR #10</text>
<rect x="571.9" y="362.98" width="11.6" height="5.7" fill="#f4f4f4" stroke="#4e4e4e" stroke-width="1.0" />
<text x="577.7" y="366.98" font-family="Liberation Sans, sans-serif" font-size="3.4" fill="#444" text-anchor="middle" font-weight="normal" >14.20</text>
<rect x="619.4" y="376.72" width="29" height="10.5" fill="none" stroke="#4e4e4e" stroke-width="1.0" />
<text x="620.6" y="381.02" font-family="Liberation Sans, sans-serif" font-size="3.7" fill="#303030" text-anchor="start" font-weight="normal" textLength="26.6" lengthAdjust="spacingAndGlyphs">AREA=122.00 &#8599;</text>
<text x="627" y="385.62" font-family="Liberation Sans, sans-serif" font-size="3.7" fill="#303030" text-anchor="start" font-weight="normal" textLength="17.5" lengthAdjust="spacingAndGlyphs">SOLAR #1</text>
<rect x="631.5" y="362.57" width="11.6" height="5.7" fill="#f4f4f4" stroke="#4e4e4e" stroke-width="1.0" />
<text x="637.3" y="366.57" font-family="Liberation Sans, sans-serif" font-size="3.4" fill="#444" text-anchor="middle" font-weight="normal" >14.20</text>
<rect x="559.8" y="411.13" width="29" height="10.5" fill="none" stroke="#4e4e4e" stroke-width="1.0" />
<text x="561" y="415.43" font-family="Liberation Sans, sans-serif" font-size="3.7" fill="#303030" text-anchor="start" font-weight="normal" textLength="26.6" lengthAdjust="spacingAndGlyphs">AREA=122.00 &#8599;</text>
<text x="567.4" y="420.03" font-family="Liberation Sans, sans-serif" font-size="3.7" fill="#303030" text-anchor="start" font-weight="normal" textLength="17.5" lengthAdjust="spacingAndGlyphs">SOLAR #9</text>
<rect x="571.9" y="396.98" width="11.6" height="5.7" fill="#f4f4f4" stroke="#4e4e4e" stroke-width="1.0" />
<text x="577.7" y="400.98" font-family="Liberation Sans, sans-serif" font-size="3.4" fill="#444" text-anchor="middle" font-weight="normal" >14.20</text>
<rect x="619.4" y="410.72" width="29" height="10.5" fill="none" stroke="#4e4e4e" stroke-width="1.0" />
<text x="620.6" y="415.02" font-family="Liberation Sans, sans-serif" font-size="3.7" fill="#303030" text-anchor="start" font-weight="normal" textLength="26.6" lengthAdjust="spacingAndGlyphs">AREA=122.00 &#8599;</text>
<text x="627" y="419.62" font-family="Liberation Sans, sans-serif" font-size="3.7" fill="#303030" text-anchor="start" font-weight="normal" textLength="17.5" lengthAdjust="spacingAndGlyphs">SOLAR #2</text>
<rect x="631.5" y="396.57" width="11.6" height="5.7" fill="#f4f4f4" stroke="#4e4e4e" stroke-width="1.0" />
<text x="637.3" y="400.57" font-family="Liberation Sans, sans-serif" font-size="3.4" fill="#444" text-anchor="middle" font-weight="normal" >14.20</text>
<rect x="559.8" y="445.13" width="29" height="10.5" fill="none" stroke="#4e4e4e" stroke-width="1.0" />
<text x="561" y="449.43" font-family="Liberation Sans, sans-serif" font-size="3.7" fill="#303030" text-anchor="start" font-weight="normal" textLength="26.6" lengthAdjust="spacingAndGlyphs">AREA=122.00 &#8599;</text>
<text x="567.4" y="454.03" font-family="Liberation Sans, sans-serif" font-size="3.7" fill="#303030" text-anchor="start" font-weight="normal" textLength="17.5" lengthAdjust="spacingAndGlyphs">SOLAR #8</text>
<rect x="571.9" y="430.98" width="11.6" height="5.7" fill="#f4f4f4" stroke="#4e4e4e" stroke-width="1.0" />
<text x="577.7" y="434.98" font-family="Liberation Sans, sans-serif" font-size="3.4" fill="#444" text-anchor="middle" font-weight="normal" >14.20</text>
<rect x="619.4" y="444.72" width="29" height="10.5" fill="none" stroke="#4e4e4e" stroke-width="1.0" />
<text x="620.6" y="449.02" font-family="Liberation Sans, sans-serif" font-size="3.7" fill="#303030" text-anchor="start" font-weight="normal" textLength="26.6" lengthAdjust="spacingAndGlyphs">AREA=122.00 &#8599;</text>
<text x="627" y="453.62" font-family="Liberation Sans, sans-serif" font-size="3.7" fill="#303030" text-anchor="start" font-weight="normal" textLength="17.5" lengthAdjust="spacingAndGlyphs">SOLAR #3</text>
<rect x="631.5" y="430.57" width="11.6" height="5.7" fill="#f4f4f4" stroke="#4e4e4e" stroke-width="1.0" />
<text x="637.3" y="434.57" font-family="Liberation Sans, sans-serif" font-size="3.4" fill="#444" text-anchor="middle" font-weight="normal" >14.20</text>
<rect x="559.8" y="479.13" width="29" height="10.5" fill="none" stroke="#4e4e4e" stroke-width="1.0" />
<text x="561" y="483.43" font-family="Liberation Sans, sans-serif" font-size="3.7" fill="#303030" text-anchor="start" font-weight="normal" textLength="26.6" lengthAdjust="spacingAndGlyphs">AREA=122.00 &#8599;</text>
<text x="567.4" y="488.03" font-family="Liberation Sans, sans-serif" font-size="3.7" fill="#303030" text-anchor="start" font-weight="normal" textLength="17.5" lengthAdjust="spacingAndGlyphs">SOLAR #7</text>
<rect x="571.9" y="464.98" width="11.6" height="5.7" fill="#f4f4f4" stroke="#4e4e4e" stroke-width="1.0" />
<text x="577.7" y="468.98" font-family="Liberation Sans, sans-serif" font-size="3.4" fill="#444" text-anchor="middle" font-weight="normal" >14.20</text>
<rect x="619.4" y="478.72" width="29" height="10.5" fill="none" stroke="#4e4e4e" stroke-width="1.0" />
<text x="620.6" y="483.02" font-family="Liberation Sans, sans-serif" font-size="3.7" fill="#303030" text-anchor="start" font-weight="normal" textLength="26.6" lengthAdjust="spacingAndGlyphs">AREA=122.00 &#8599;</text>
<text x="627" y="487.62" font-family="Liberation Sans, sans-serif" font-size="3.7" fill="#303030" text-anchor="start" font-weight="normal" textLength="17.5" lengthAdjust="spacingAndGlyphs">SOLAR #4</text>
<rect x="631.5" y="464.57" width="11.6" height="5.7" fill="#f4f4f4" stroke="#4e4e4e" stroke-width="1.0" />
<text x="637.3" y="468.57" font-family="Liberation Sans, sans-serif" font-size="3.4" fill="#444" text-anchor="middle" font-weight="normal" >14.20</text>
<rect x="559.8" y="513.13" width="29" height="10.5" fill="none" stroke="#4e4e4e" stroke-width="1.0" />
<text x="561" y="517.43" font-family="Liberation Sans, sans-serif" font-size="3.7" fill="#303030" text-anchor="start" font-weight="normal" textLength="26.6" lengthAdjust="spacingAndGlyphs">AREA=122.00 &#8599;</text>
<text x="567.4" y="522.03" font-family="Liberation Sans, sans-serif" font-size="3.7" fill="#303030" text-anchor="start" font-weight="normal" textLength="17.5" lengthAdjust="spacingAndGlyphs">SOLAR #6</text>
<rect x="571.9" y="498.98" width="11.6" height="5.7" fill="#f4f4f4" stroke="#4e4e4e" stroke-width="1.0" />
<text x="577.7" y="502.98" font-family="Liberation Sans, sans-serif" font-size="3.4" fill="#444" text-anchor="middle" font-weight="normal" >14.20</text>
<rect x="619.4" y="512.72" width="29" height="10.5" fill="none" stroke="#4e4e4e" stroke-width="1.0" />
<text x="620.6" y="517.02" font-family="Liberation Sans, sans-serif" font-size="3.7" fill="#303030" text-anchor="start" font-weight="normal" textLength="26.6" lengthAdjust="spacingAndGlyphs">AREA=122.00 &#8599;</text>
<text x="627" y="521.62" font-family="Liberation Sans, sans-serif" font-size="3.7" fill="#303030" text-anchor="start" font-weight="normal" textLength="17.5" lengthAdjust="spacingAndGlyphs">SOLAR #5</text>
<rect x="631.5" y="498.57" width="11.6" height="5.7" fill="#f4f4f4" stroke="#4e4e4e" stroke-width="1.0" />
<text x="637.3" y="502.57" font-family="Liberation Sans, sans-serif" font-size="3.4" fill="#444" text-anchor="middle" font-weight="normal" >14.20</text>
<rect x="716.65" y="152.51" width="29" height="10.5" fill="none" stroke="#4e4e4e" stroke-width="1.0" />
<text x="717.85" y="156.81" font-family="Liberation Sans, sans-serif" font-size="3.7" fill="#303030" text-anchor="start" font-weight="normal" textLength="26.6" lengthAdjust="spacingAndGlyphs">AREA=158.26 &#8599;</text>
<text x="724.25" y="161.41" font-family="Liberation Sans, sans-serif" font-size="3.7" fill="#303030" text-anchor="start" font-weight="normal" textLength="17.5" lengthAdjust="spacingAndGlyphs">SOLAR #12</text>
<rect x="725.55" y="128.52" width="11.6" height="5.7" fill="#f4f4f4" stroke="#4e4e4e" stroke-width="1.0" />
<text x="731.35" y="132.52" font-family="Liberation Sans, sans-serif" font-size="3.4" fill="#444" text-anchor="middle" font-weight="normal" >14.20</text>
<rect x="716.65" y="196.45" width="29" height="10.5" fill="none" stroke="#4e4e4e" stroke-width="1.0" />
<text x="717.85" y="200.75" font-family="Liberation Sans, sans-serif" font-size="3.7" fill="#303030" text-anchor="start" font-weight="normal" textLength="26.6" lengthAdjust="spacingAndGlyphs">AREA=125.00 &#8599;</text>
<text x="724.25" y="205.35" font-family="Liberation Sans, sans-serif" font-size="3.7" fill="#303030" text-anchor="start" font-weight="normal" textLength="17.5" lengthAdjust="spacingAndGlyphs">SOLAR #10</text>
<rect x="725.55" y="182.2" width="11.6" height="5.7" fill="#f4f4f4" stroke="#4e4e4e" stroke-width="1.0" />
<text x="731.35" y="186.2" font-family="Liberation Sans, sans-serif" font-size="3.4" fill="#444" text-anchor="middle" font-weight="normal" >14.20</text>
<rect x="716.65" y="230.95" width="29" height="10.5" fill="none" stroke="#4e4e4e" stroke-width="1.0" />
<text x="717.85" y="235.25" font-family="Liberation Sans, sans-serif" font-size="3.7" fill="#303030" text-anchor="start" font-weight="normal" textLength="26.6" lengthAdjust="spacingAndGlyphs">AREA=125.00 &#8599;</text>
<text x="724.25" y="239.85" font-family="Liberation Sans, sans-serif" font-size="3.7" fill="#303030" text-anchor="start" font-weight="normal" textLength="17.5" lengthAdjust="spacingAndGlyphs">SOLAR #9</text>
<rect x="725.55" y="216.4" width="11.6" height="5.7" fill="#f4f4f4" stroke="#4e4e4e" stroke-width="1.0" />
<text x="731.35" y="220.4" font-family="Liberation Sans, sans-serif" font-size="3.4" fill="#444" text-anchor="middle" font-weight="normal" >14.20</text>
<rect x="716.65" y="265.1" width="29" height="10.5" fill="none" stroke="#4e4e4e" stroke-width="1.0" />
<text x="717.85" y="269.4" font-family="Liberation Sans, sans-serif" font-size="3.7" fill="#303030" text-anchor="start" font-weight="normal" textLength="26.6" lengthAdjust="spacingAndGlyphs">AREA=125.00 &#8599;</text>
<text x="724.25" y="274" font-family="Liberation Sans, sans-serif" font-size="3.7" fill="#303030" text-anchor="start" font-weight="normal" textLength="17.5" lengthAdjust="spacingAndGlyphs">SOLAR #8</text>
<rect x="725.55" y="251.2" width="11.6" height="5.7" fill="#f4f4f4" stroke="#4e4e4e" stroke-width="1.0" />
<text x="731.35" y="255.2" font-family="Liberation Sans, sans-serif" font-size="3.4" fill="#444" text-anchor="middle" font-weight="normal" >14.20</text>
<rect x="716.65" y="298.45" width="29" height="10.5" fill="none" stroke="#4e4e4e" stroke-width="1.0" />
<text x="717.85" y="302.75" font-family="Liberation Sans, sans-serif" font-size="3.7" fill="#303030" text-anchor="start" font-weight="normal" textLength="26.6" lengthAdjust="spacingAndGlyphs">AREA=125.00 &#8599;</text>
<text x="724.25" y="307.35" font-family="Liberation Sans, sans-serif" font-size="3.7" fill="#303030" text-anchor="start" font-weight="normal" textLength="17.5" lengthAdjust="spacingAndGlyphs">SOLAR #7</text>
<rect x="725.55" y="284.7" width="11.6" height="5.7" fill="#f4f4f4" stroke="#4e4e4e" stroke-width="1.0" />
<text x="731.35" y="288.7" font-family="Liberation Sans, sans-serif" font-size="3.4" fill="#444" text-anchor="middle" font-weight="normal" >14.20</text>
<rect x="716.65" y="337.06" width="29" height="10.5" fill="none" stroke="#4e4e4e" stroke-width="1.0" />
<text x="717.85" y="341.36" font-family="Liberation Sans, sans-serif" font-size="3.7" fill="#303030" text-anchor="start" font-weight="normal" textLength="26.6" lengthAdjust="spacingAndGlyphs">AREA=125.00 &#8599;</text>
<text x="724.25" y="345.96" font-family="Liberation Sans, sans-serif" font-size="3.7" fill="#303030" text-anchor="start" font-weight="normal" textLength="17.5" lengthAdjust="spacingAndGlyphs">SOLAR #6</text>
<rect x="725.55" y="317.9" width="11.6" height="5.7" fill="#f4f4f4" stroke="#4e4e4e" stroke-width="1.0" />
<text x="731.35" y="321.9" font-family="Liberation Sans, sans-serif" font-size="3.4" fill="#444" text-anchor="middle" font-weight="normal" >14.20</text>
<rect x="716.65" y="376.07" width="29" height="10.5" fill="none" stroke="#4e4e4e" stroke-width="1.0" />
<text x="717.85" y="380.37" font-family="Liberation Sans, sans-serif" font-size="3.7" fill="#303030" text-anchor="start" font-weight="normal" textLength="26.6" lengthAdjust="spacingAndGlyphs">AREA=125.00 &#8599;</text>
<text x="724.25" y="384.97" font-family="Liberation Sans, sans-serif" font-size="3.7" fill="#303030" text-anchor="start" font-weight="normal" textLength="17.5" lengthAdjust="spacingAndGlyphs">SOLAR #5</text>
<rect x="725.55" y="361.92" width="11.6" height="5.7" fill="#f4f4f4" stroke="#4e4e4e" stroke-width="1.0" />
<text x="731.35" y="365.92" font-family="Liberation Sans, sans-serif" font-size="3.4" fill="#444" text-anchor="middle" font-weight="normal" >14.20</text>
<rect x="716.65" y="410.07" width="29" height="10.5" fill="none" stroke="#4e4e4e" stroke-width="1.0" />
<text x="717.85" y="414.37" font-family="Liberation Sans, sans-serif" font-size="3.7" fill="#303030" text-anchor="start" font-weight="normal" textLength="26.6" lengthAdjust="spacingAndGlyphs">AREA=125.00 &#8599;</text>
<text x="724.25" y="418.97" font-family="Liberation Sans, sans-serif" font-size="3.7" fill="#303030" text-anchor="start" font-weight="normal" textLength="17.5" lengthAdjust="spacingAndGlyphs">SOLAR #4</text>
<rect x="725.55" y="395.92" width="11.6" height="5.7" fill="#f4f4f4" stroke="#4e4e4e" stroke-width="1.0" />
<text x="731.35" y="399.92" font-family="Liberation Sans, sans-serif" font-size="3.4" fill="#444" text-anchor="middle" font-weight="normal" >14.20</text>
<rect x="716.65" y="444.07" width="29" height="10.5" fill="none" stroke="#4e4e4e" stroke-width="1.0" />
<text x="717.85" y="448.37" font-family="Liberation Sans, sans-serif" font-size="3.7" fill="#303030" text-anchor="start" font-weight="normal" textLength="26.6" lengthAdjust="spacingAndGlyphs">AREA=125.00 &#8599;</text>
<text x="724.25" y="452.97" font-family="Liberation Sans, sans-serif" font-size="3.7" fill="#303030" text-anchor="start" font-weight="normal" textLength="17.5" lengthAdjust="spacingAndGlyphs">SOLAR #3</text>
<rect x="725.55" y="429.92" width="11.6" height="5.7" fill="#f4f4f4" stroke="#4e4e4e" stroke-width="1.0" />
<text x="731.35" y="433.92" font-family="Liberation Sans, sans-serif" font-size="3.4" fill="#444" text-anchor="middle" font-weight="normal" >14.20</text>
<rect x="716.65" y="478.07" width="29" height="10.5" fill="none" stroke="#4e4e4e" stroke-width="1.0" />
<text x="717.85" y="482.37" font-family="Liberation Sans, sans-serif" font-size="3.7" fill="#303030" text-anchor="start" font-weight="normal" textLength="26.6" lengthAdjust="spacingAndGlyphs">AREA=125.00 &#8599;</text>
<text x="724.25" y="486.97" font-family="Liberation Sans, sans-serif" font-size="3.7" fill="#303030" text-anchor="start" font-weight="normal" textLength="17.5" lengthAdjust="spacingAndGlyphs">SOLAR #2</text>
<rect x="725.55" y="463.92" width="11.6" height="5.7" fill="#f4f4f4" stroke="#4e4e4e" stroke-width="1.0" />
<text x="731.35" y="467.92" font-family="Liberation Sans, sans-serif" font-size="3.4" fill="#444" text-anchor="middle" font-weight="normal" >14.20</text>
<rect x="716.65" y="512.07" width="29" height="10.5" fill="none" stroke="#4e4e4e" stroke-width="1.0" />
<text x="717.85" y="516.37" font-family="Liberation Sans, sans-serif" font-size="3.7" fill="#303030" text-anchor="start" font-weight="normal" textLength="26.6" lengthAdjust="spacingAndGlyphs">AREA=125.00 &#8599;</text>
<text x="724.25" y="520.97" font-family="Liberation Sans, sans-serif" font-size="3.7" fill="#303030" text-anchor="start" font-weight="normal" textLength="17.5" lengthAdjust="spacingAndGlyphs">SOLAR #1</text>
<rect x="725.55" y="497.92" width="11.6" height="5.7" fill="#f4f4f4" stroke="#4e4e4e" stroke-width="1.0" />
<text x="731.35" y="501.92" font-family="Liberation Sans, sans-serif" font-size="3.4" fill="#444" text-anchor="middle" font-weight="normal" >14.20</text>
<rect x="37.9" y="534.7" width="11.6" height="5.4" fill="#f4f4f4" stroke="#4e4e4e" stroke-width="1.0" />
<text x="43.7" y="538.7" font-family="Liberation Sans, sans-serif" font-size="3.4" fill="#444" text-anchor="middle" font-weight="normal" >14.20</text>
<rect x="29.5" y="320" width="11.6" height="5.4" fill="#f4f4f4" stroke="#4e4e4e" stroke-width="1.0" />
<text x="35.3" y="323.8" font-family="Liberation Sans, sans-serif" font-size="3.4" fill="#444" text-anchor="middle" font-weight="normal" >14.20</text>
<rect x="110.35" y="534.21" width="11.6" height="5.4" fill="#f4f4f4" stroke="#4e4e4e" stroke-width="1.0" />
<text x="116.15" y="538.21" font-family="Liberation Sans, sans-serif" font-size="3.4" fill="#444" text-anchor="middle" font-weight="normal" >14.20</text>
<rect x="110.35" y="312.64" width="11.6" height="5.4" fill="#f4f4f4" stroke="#4e4e4e" stroke-width="1.0" />
<text x="116.15" y="316.44" font-family="Liberation Sans, sans-serif" font-size="3.4" fill="#444" text-anchor="middle" font-weight="normal" >14.20</text>
<rect x="170" y="533.8" width="11.6" height="5.4" fill="#f4f4f4" stroke="#4e4e4e" stroke-width="1.0" />
<text x="175.8" y="537.8" font-family="Liberation Sans, sans-serif" font-size="3.4" fill="#444" text-anchor="middle" font-weight="normal" >14.20</text>
<rect x="170" y="312.36" width="11.6" height="5.4" fill="#f4f4f4" stroke="#4e4e4e" stroke-width="1.0" />
<text x="175.8" y="316.16" font-family="Liberation Sans, sans-serif" font-size="3.4" fill="#444" text-anchor="middle" font-weight="normal" >14.20</text>
<rect x="263.5" y="533.17" width="11.6" height="5.4" fill="#f4f4f4" stroke="#4e4e4e" stroke-width="1.0" />
<text x="269.3" y="537.17" font-family="Liberation Sans, sans-serif" font-size="3.4" fill="#444" text-anchor="middle" font-weight="normal" >14.20</text>
<rect x="263.5" y="311.91" width="11.6" height="5.4" fill="#f4f4f4" stroke="#4e4e4e" stroke-width="1.0" />
<text x="269.3" y="315.71" font-family="Liberation Sans, sans-serif" font-size="3.4" fill="#444" text-anchor="middle" font-weight="normal" >14.20</text>
<rect x="323.3" y="532.76" width="11.6" height="5.4" fill="#f4f4f4" stroke="#4e4e4e" stroke-width="1.0" />
<text x="329.1" y="536.76" font-family="Liberation Sans, sans-serif" font-size="3.4" fill="#444" text-anchor="middle" font-weight="normal" >14.20</text>
<rect x="323.3" y="311.62" width="11.6" height="5.4" fill="#f4f4f4" stroke="#4e4e4e" stroke-width="1.0" />
<text x="329.1" y="315.42" font-family="Liberation Sans, sans-serif" font-size="3.4" fill="#444" text-anchor="middle" font-weight="normal" >14.20</text>
<rect x="416.75" y="532.13" width="11.6" height="5.4" fill="#f4f4f4" stroke="#4e4e4e" stroke-width="1.0" />
<text x="422.55" y="536.13" font-family="Liberation Sans, sans-serif" font-size="3.4" fill="#444" text-anchor="middle" font-weight="normal" >14.20</text>
<rect x="416.75" y="311.17" width="11.6" height="5.4" fill="#f4f4f4" stroke="#4e4e4e" stroke-width="1.0" />
<text x="422.55" y="314.97" font-family="Liberation Sans, sans-serif" font-size="3.4" fill="#444" text-anchor="middle" font-weight="normal" >14.20</text>
<rect x="476.35" y="531.72" width="11.6" height="5.4" fill="#f4f4f4" stroke="#4e4e4e" stroke-width="1.0" />
<text x="482.15" y="535.72" font-family="Liberation Sans, sans-serif" font-size="3.4" fill="#444" text-anchor="middle" font-weight="normal" >14.20</text>
<rect x="476.35" y="310.89" width="11.6" height="5.4" fill="#f4f4f4" stroke="#4e4e4e" stroke-width="1.0" />
<text x="482.15" y="314.69" font-family="Liberation Sans, sans-serif" font-size="3.4" fill="#444" text-anchor="middle" font-weight="normal" >14.20</text>
<rect x="570.1" y="531.08" width="11.6" height="5.4" fill="#f4f4f4" stroke="#4e4e4e" stroke-width="1.0" />
<text x="575.9" y="535.08" font-family="Liberation Sans, sans-serif" font-size="3.4" fill="#444" text-anchor="middle" font-weight="normal" >14.20</text>
<rect x="570.1" y="310.44" width="11.6" height="5.4" fill="#f4f4f4" stroke="#4e4e4e" stroke-width="1.0" />
<text x="575.9" y="314.24" font-family="Liberation Sans, sans-serif" font-size="3.4" fill="#444" text-anchor="middle" font-weight="normal" >14.20</text>
<rect x="629.7" y="530.68" width="11.6" height="5.4" fill="#f4f4f4" stroke="#4e4e4e" stroke-width="1.0" />
<text x="635.5" y="534.68" font-family="Liberation Sans, sans-serif" font-size="3.4" fill="#444" text-anchor="middle" font-weight="normal" >14.20</text>
<rect x="629.7" y="310.15" width="11.6" height="5.4" fill="#f4f4f4" stroke="#4e4e4e" stroke-width="1.0" />
<text x="635.5" y="313.95" font-family="Liberation Sans, sans-serif" font-size="3.4" fill="#444" text-anchor="middle" font-weight="normal" >14.20</text>
<rect x="725.55" y="530.03" width="11.6" height="5.4" fill="#f4f4f4" stroke="#4e4e4e" stroke-width="1.0" />
<text x="731.35" y="534.03" font-family="Liberation Sans, sans-serif" font-size="3.4" fill="#444" text-anchor="middle" font-weight="normal" >14.20</text>
<rect x="62.6" y="446.7" width="5.2" height="19" fill="#d8d8d8" stroke="#4e4e4e" stroke-width="0.9" />
<rect x="16" y="153.04" width="5.7" height="10.6" fill="#d2d2d2" stroke="#4e4e4e" stroke-width="0.9" />
<rect x="17.2" y="154.64" width="3.3" height="1.4" fill="#f4f4f4" stroke="none" stroke-width="1" />
<rect x="17.2" y="157.44" width="3.3" height="1.4" fill="#f4f4f4" stroke="none" stroke-width="1" />
<rect x="17.2" y="160.24" width="3.3" height="1.4" fill="#f4f4f4" stroke="none" stroke-width="1" />
<rect x="64.2" y="152.72" width="5.7" height="10.6" fill="#d2d2d2" stroke="#4e4e4e" stroke-width="0.9" />
<rect x="65.4" y="154.32" width="3.3" height="1.4" fill="#f4f4f4" stroke="none" stroke-width="1" />
<rect x="65.4" y="157.12" width="3.3" height="1.4" fill="#f4f4f4" stroke="none" stroke-width="1" />
<rect x="65.4" y="159.92" width="3.3" height="1.4" fill="#f4f4f4" stroke="none" stroke-width="1" />
<rect x="16" y="190.2" width="5.7" height="10.6" fill="#d2d2d2" stroke="#4e4e4e" stroke-width="0.9" />
<rect x="17.2" y="191.8" width="3.3" height="1.4" fill="#f4f4f4" stroke="none" stroke-width="1" />
<rect x="17.2" y="194.6" width="3.3" height="1.4" fill="#f4f4f4" stroke="none" stroke-width="1" />
<rect x="17.2" y="197.4" width="3.3" height="1.4" fill="#f4f4f4" stroke="none" stroke-width="1" />
<rect x="64.2" y="190.2" width="5.7" height="10.6" fill="#d2d2d2" stroke="#4e4e4e" stroke-width="0.9" />
<rect x="65.4" y="191.8" width="3.3" height="1.4" fill="#f4f4f4" stroke="none" stroke-width="1" />
<rect x="65.4" y="194.6" width="3.3" height="1.4" fill="#f4f4f4" stroke="none" stroke-width="1" />
<rect x="65.4" y="197.4" width="3.3" height="1.4" fill="#f4f4f4" stroke="none" stroke-width="1" />
<rect x="16" y="227.3" width="5.7" height="10.6" fill="#d2d2d2" stroke="#4e4e4e" stroke-width="0.9" />
<rect x="17.2" y="228.9" width="3.3" height="1.4" fill="#f4f4f4" stroke="none" stroke-width="1" />
<rect x="17.2" y="231.7" width="3.3" height="1.4" fill="#f4f4f4" stroke="none" stroke-width="1" />
<rect x="17.2" y="234.5" width="3.3" height="1.4" fill="#f4f4f4" stroke="none" stroke-width="1" />
<rect x="64.2" y="227.3" width="5.7" height="10.6" fill="#d2d2d2" stroke="#4e4e4e" stroke-width="0.9" />
<rect x="65.4" y="228.9" width="3.3" height="1.4" fill="#f4f4f4" stroke="none" stroke-width="1" />
<rect x="65.4" y="231.7" width="3.3" height="1.4" fill="#f4f4f4" stroke="none" stroke-width="1" />
<rect x="65.4" y="234.5" width="3.3" height="1.4" fill="#f4f4f4" stroke="none" stroke-width="1" />
<rect x="16" y="264.25" width="5.7" height="10.6" fill="#d2d2d2" stroke="#4e4e4e" stroke-width="0.9" />
<rect x="17.2" y="265.85" width="3.3" height="1.4" fill="#f4f4f4" stroke="none" stroke-width="1" />
<rect x="17.2" y="268.65" width="3.3" height="1.4" fill="#f4f4f4" stroke="none" stroke-width="1" />
<rect x="17.2" y="271.45" width="3.3" height="1.4" fill="#f4f4f4" stroke="none" stroke-width="1" />
<rect x="64.2" y="264.25" width="5.7" height="10.6" fill="#d2d2d2" stroke="#4e4e4e" stroke-width="0.9" />
<rect x="65.4" y="265.85" width="3.3" height="1.4" fill="#f4f4f4" stroke="none" stroke-width="1" />
<rect x="65.4" y="268.65" width="3.3" height="1.4" fill="#f4f4f4" stroke="none" stroke-width="1" />
<rect x="65.4" y="271.45" width="3.3" height="1.4" fill="#f4f4f4" stroke="none" stroke-width="1" />
<rect x="16" y="301.25" width="5.7" height="10.6" fill="#d2d2d2" stroke="#4e4e4e" stroke-width="0.9" />
<rect x="17.2" y="302.85" width="3.3" height="1.4" fill="#f4f4f4" stroke="none" stroke-width="1" />
<rect x="17.2" y="305.65" width="3.3" height="1.4" fill="#f4f4f4" stroke="none" stroke-width="1" />
<rect x="17.2" y="308.45" width="3.3" height="1.4" fill="#f4f4f4" stroke="none" stroke-width="1" />
<rect x="64.2" y="301.25" width="5.7" height="10.6" fill="#d2d2d2" stroke="#4e4e4e" stroke-width="0.9" />
<rect x="65.4" y="302.85" width="3.3" height="1.4" fill="#f4f4f4" stroke="none" stroke-width="1" />
<rect x="65.4" y="305.65" width="3.3" height="1.4" fill="#f4f4f4" stroke="none" stroke-width="1" />
<rect x="65.4" y="308.45" width="3.3" height="1.4" fill="#f4f4f4" stroke="none" stroke-width="1" />
<rect x="16" y="379.99" width="5.7" height="10.6" fill="#d2d2d2" stroke="#4e4e4e" stroke-width="0.9" />
<rect x="17.2" y="381.59" width="3.3" height="1.4" fill="#f4f4f4" stroke="none" stroke-width="1" />
<rect x="17.2" y="384.39" width="3.3" height="1.4" fill="#f4f4f4" stroke="none" stroke-width="1" />
<rect x="17.2" y="387.19" width="3.3" height="1.4" fill="#f4f4f4" stroke="none" stroke-width="1" />
<rect x="64.2" y="379.66" width="5.7" height="10.6" fill="#d2d2d2" stroke="#4e4e4e" stroke-width="0.9" />
<rect x="65.4" y="381.26" width="3.3" height="1.4" fill="#f4f4f4" stroke="none" stroke-width="1" />
<rect x="65.4" y="384.06" width="3.3" height="1.4" fill="#f4f4f4" stroke="none" stroke-width="1" />
<rect x="65.4" y="386.86" width="3.3" height="1.4" fill="#f4f4f4" stroke="none" stroke-width="1" />
<rect x="16" y="413.99" width="5.7" height="10.6" fill="#d2d2d2" stroke="#4e4e4e" stroke-width="0.9" />
<rect x="17.2" y="415.59" width="3.3" height="1.4" fill="#f4f4f4" stroke="none" stroke-width="1" />
<rect x="17.2" y="418.39" width="3.3" height="1.4" fill="#f4f4f4" stroke="none" stroke-width="1" />
<rect x="17.2" y="421.19" width="3.3" height="1.4" fill="#f4f4f4" stroke="none" stroke-width="1" />
<rect x="64.2" y="413.66" width="5.7" height="10.6" fill="#d2d2d2" stroke="#4e4e4e" stroke-width="0.9" />
<rect x="65.4" y="415.26" width="3.3" height="1.4" fill="#f4f4f4" stroke="none" stroke-width="1" />
<rect x="65.4" y="418.06" width="3.3" height="1.4" fill="#f4f4f4" stroke="none" stroke-width="1" />
<rect x="65.4" y="420.86" width="3.3" height="1.4" fill="#f4f4f4" stroke="none" stroke-width="1" />
<rect x="16" y="447.99" width="5.7" height="10.6" fill="#d2d2d2" stroke="#4e4e4e" stroke-width="0.9" />
<rect x="17.2" y="449.59" width="3.3" height="1.4" fill="#f4f4f4" stroke="none" stroke-width="1" />
<rect x="17.2" y="452.39" width="3.3" height="1.4" fill="#f4f4f4" stroke="none" stroke-width="1" />
<rect x="17.2" y="455.19" width="3.3" height="1.4" fill="#f4f4f4" stroke="none" stroke-width="1" />
<rect x="64.2" y="447.66" width="5.7" height="10.6" fill="#d2d2d2" stroke="#4e4e4e" stroke-width="0.9" />
<rect x="65.4" y="449.26" width="3.3" height="1.4" fill="#f4f4f4" stroke="none" stroke-width="1" />
<rect x="65.4" y="452.06" width="3.3" height="1.4" fill="#f4f4f4" stroke="none" stroke-width="1" />
<rect x="65.4" y="454.86" width="3.3" height="1.4" fill="#f4f4f4" stroke="none" stroke-width="1" />
<rect x="16" y="481.99" width="5.7" height="10.6" fill="#d2d2d2" stroke="#4e4e4e" stroke-width="0.9" />
<rect x="17.2" y="483.59" width="3.3" height="1.4" fill="#f4f4f4" stroke="none" stroke-width="1" />
<rect x="17.2" y="486.39" width="3.3" height="1.4" fill="#f4f4f4" stroke="none" stroke-width="1" />
<rect x="17.2" y="489.19" width="3.3" height="1.4" fill="#f4f4f4" stroke="none" stroke-width="1" />
<rect x="64.2" y="481.66" width="5.7" height="10.6" fill="#d2d2d2" stroke="#4e4e4e" stroke-width="0.9" />
<rect x="65.4" y="483.26" width="3.3" height="1.4" fill="#f4f4f4" stroke="none" stroke-width="1" />
<rect x="65.4" y="486.06" width="3.3" height="1.4" fill="#f4f4f4" stroke="none" stroke-width="1" />
<rect x="65.4" y="488.86" width="3.3" height="1.4" fill="#f4f4f4" stroke="none" stroke-width="1" />
<rect x="16" y="515.99" width="5.7" height="10.6" fill="#d2d2d2" stroke="#4e4e4e" stroke-width="0.9" />
<rect x="17.2" y="517.59" width="3.3" height="1.4" fill="#f4f4f4" stroke="none" stroke-width="1" />
<rect x="17.2" y="520.39" width="3.3" height="1.4" fill="#f4f4f4" stroke="none" stroke-width="1" />
<rect x="17.2" y="523.19" width="3.3" height="1.4" fill="#f4f4f4" stroke="none" stroke-width="1" />
<rect x="64.2" y="515.66" width="5.7" height="10.6" fill="#d2d2d2" stroke="#4e4e4e" stroke-width="0.9" />
<rect x="65.4" y="517.26" width="3.3" height="1.4" fill="#f4f4f4" stroke="none" stroke-width="1" />
<rect x="65.4" y="520.06" width="3.3" height="1.4" fill="#f4f4f4" stroke="none" stroke-width="1" />
<rect x="65.4" y="522.86" width="3.3" height="1.4" fill="#f4f4f4" stroke="none" stroke-width="1" />
<rect x="87.6" y="154.73" width="5.7" height="10.6" fill="#d2d2d2" stroke="#4e4e4e" stroke-width="0.9" />
<rect x="88.8" y="156.33" width="3.3" height="1.4" fill="#f4f4f4" stroke="none" stroke-width="1" />
<rect x="88.8" y="159.13" width="3.3" height="1.4" fill="#f4f4f4" stroke="none" stroke-width="1" />
<rect x="88.8" y="161.93" width="3.3" height="1.4" fill="#f4f4f4" stroke="none" stroke-width="1" />
<rect x="145.2" y="154.25" width="5.7" height="10.6" fill="#d2d2d2" stroke="#4e4e4e" stroke-width="0.9" />
<rect x="146.4" y="155.85" width="3.3" height="1.4" fill="#f4f4f4" stroke="none" stroke-width="1" />
<rect x="146.4" y="158.65" width="3.3" height="1.4" fill="#f4f4f4" stroke="none" stroke-width="1" />
<rect x="146.4" y="161.45" width="3.3" height="1.4" fill="#f4f4f4" stroke="none" stroke-width="1" />
<rect x="200.6" y="153.8" width="5.7" height="10.6" fill="#d2d2d2" stroke="#4e4e4e" stroke-width="0.9" />
<rect x="201.8" y="155.4" width="3.3" height="1.4" fill="#f4f4f4" stroke="none" stroke-width="1" />
<rect x="201.8" y="158.2" width="3.3" height="1.4" fill="#f4f4f4" stroke="none" stroke-width="1" />
<rect x="201.8" y="161" width="3.3" height="1.4" fill="#f4f4f4" stroke="none" stroke-width="1" />
<rect x="87.6" y="192.69" width="5.7" height="10.6" fill="#d2d2d2" stroke="#4e4e4e" stroke-width="0.9" />
<rect x="88.8" y="194.29" width="3.3" height="1.4" fill="#f4f4f4" stroke="none" stroke-width="1" />
<rect x="88.8" y="197.09" width="3.3" height="1.4" fill="#f4f4f4" stroke="none" stroke-width="1" />
<rect x="88.8" y="199.89" width="3.3" height="1.4" fill="#f4f4f4" stroke="none" stroke-width="1" />
<rect x="145.2" y="192.51" width="5.7" height="10.6" fill="#d2d2d2" stroke="#4e4e4e" stroke-width="0.9" />
<rect x="146.4" y="194.11" width="3.3" height="1.4" fill="#f4f4f4" stroke="none" stroke-width="1" />
<rect x="146.4" y="196.91" width="3.3" height="1.4" fill="#f4f4f4" stroke="none" stroke-width="1" />
<rect x="146.4" y="199.71" width="3.3" height="1.4" fill="#f4f4f4" stroke="none" stroke-width="1" />
<rect x="200.6" y="192.35" width="5.7" height="10.6" fill="#d2d2d2" stroke="#4e4e4e" stroke-width="0.9" />
<rect x="201.8" y="193.95" width="3.3" height="1.4" fill="#f4f4f4" stroke="none" stroke-width="1" />
<rect x="201.8" y="196.75" width="3.3" height="1.4" fill="#f4f4f4" stroke="none" stroke-width="1" />
<rect x="201.8" y="199.55" width="3.3" height="1.4" fill="#f4f4f4" stroke="none" stroke-width="1" />
<rect x="87.6" y="226.59" width="5.7" height="10.6" fill="#d2d2d2" stroke="#4e4e4e" stroke-width="0.9" />
<rect x="88.8" y="228.19" width="3.3" height="1.4" fill="#f4f4f4" stroke="none" stroke-width="1" />
<rect x="88.8" y="230.99" width="3.3" height="1.4" fill="#f4f4f4" stroke="none" stroke-width="1" />
<rect x="88.8" y="233.79" width="3.3" height="1.4" fill="#f4f4f4" stroke="none" stroke-width="1" />
<rect x="145.2" y="226.41" width="5.7" height="10.6" fill="#d2d2d2" stroke="#4e4e4e" stroke-width="0.9" />
<rect x="146.4" y="228.01" width="3.3" height="1.4" fill="#f4f4f4" stroke="none" stroke-width="1" />
<rect x="146.4" y="230.81" width="3.3" height="1.4" fill="#f4f4f4" stroke="none" stroke-width="1" />
<rect x="146.4" y="233.61" width="3.3" height="1.4" fill="#f4f4f4" stroke="none" stroke-width="1" />
<rect x="200.6" y="226.25" width="5.7" height="10.6" fill="#d2d2d2" stroke="#4e4e4e" stroke-width="0.9" />
<rect x="201.8" y="227.85" width="3.3" height="1.4" fill="#f4f4f4" stroke="none" stroke-width="1" />
<rect x="201.8" y="230.65" width="3.3" height="1.4" fill="#f4f4f4" stroke="none" stroke-width="1" />
<rect x="201.8" y="233.45" width="3.3" height="1.4" fill="#f4f4f4" stroke="none" stroke-width="1" />
<rect x="87.6" y="260.84" width="5.7" height="10.6" fill="#d2d2d2" stroke="#4e4e4e" stroke-width="0.9" />
<rect x="88.8" y="262.44" width="3.3" height="1.4" fill="#f4f4f4" stroke="none" stroke-width="1" />
<rect x="88.8" y="265.24" width="3.3" height="1.4" fill="#f4f4f4" stroke="none" stroke-width="1" />
<rect x="88.8" y="268.04" width="3.3" height="1.4" fill="#f4f4f4" stroke="none" stroke-width="1" />
<rect x="145.2" y="260.66" width="5.7" height="10.6" fill="#d2d2d2" stroke="#4e4e4e" stroke-width="0.9" />
<rect x="146.4" y="262.26" width="3.3" height="1.4" fill="#f4f4f4" stroke="none" stroke-width="1" />
<rect x="146.4" y="265.06" width="3.3" height="1.4" fill="#f4f4f4" stroke="none" stroke-width="1" />
<rect x="146.4" y="267.86" width="3.3" height="1.4" fill="#f4f4f4" stroke="none" stroke-width="1" />
<rect x="200.6" y="260.5" width="5.7" height="10.6" fill="#d2d2d2" stroke="#4e4e4e" stroke-width="0.9" />
<rect x="201.8" y="262.1" width="3.3" height="1.4" fill="#f4f4f4" stroke="none" stroke-width="1" />
<rect x="201.8" y="264.9" width="3.3" height="1.4" fill="#f4f4f4" stroke="none" stroke-width="1" />
<rect x="201.8" y="267.7" width="3.3" height="1.4" fill="#f4f4f4" stroke="none" stroke-width="1" />
<rect x="87.6" y="295.26" width="5.7" height="10.6" fill="#d2d2d2" stroke="#4e4e4e" stroke-width="0.9" />
<rect x="88.8" y="296.86" width="3.3" height="1.4" fill="#f4f4f4" stroke="none" stroke-width="1" />
<rect x="88.8" y="299.66" width="3.3" height="1.4" fill="#f4f4f4" stroke="none" stroke-width="1" />
<rect x="88.8" y="302.46" width="3.3" height="1.4" fill="#f4f4f4" stroke="none" stroke-width="1" />
<rect x="145.2" y="295.03" width="5.7" height="10.6" fill="#d2d2d2" stroke="#4e4e4e" stroke-width="0.9" />
<rect x="146.4" y="296.63" width="3.3" height="1.4" fill="#f4f4f4" stroke="none" stroke-width="1" />
<rect x="146.4" y="299.43" width="3.3" height="1.4" fill="#f4f4f4" stroke="none" stroke-width="1" />
<rect x="146.4" y="302.23" width="3.3" height="1.4" fill="#f4f4f4" stroke="none" stroke-width="1" />
<rect x="200.6" y="294.82" width="5.7" height="10.6" fill="#d2d2d2" stroke="#4e4e4e" stroke-width="0.9" />
<rect x="201.8" y="296.42" width="3.3" height="1.4" fill="#f4f4f4" stroke="none" stroke-width="1" />
<rect x="201.8" y="299.22" width="3.3" height="1.4" fill="#f4f4f4" stroke="none" stroke-width="1" />
<rect x="201.8" y="302.02" width="3.3" height="1.4" fill="#f4f4f4" stroke="none" stroke-width="1" />
<rect x="87.6" y="379.5" width="5.7" height="10.6" fill="#d2d2d2" stroke="#4e4e4e" stroke-width="0.9" />
<rect x="88.8" y="381.1" width="3.3" height="1.4" fill="#f4f4f4" stroke="none" stroke-width="1" />
<rect x="88.8" y="383.9" width="3.3" height="1.4" fill="#f4f4f4" stroke="none" stroke-width="1" />
<rect x="88.8" y="386.7" width="3.3" height="1.4" fill="#f4f4f4" stroke="none" stroke-width="1" />
<rect x="145.2" y="379.11" width="5.7" height="10.6" fill="#d2d2d2" stroke="#4e4e4e" stroke-width="0.9" />
<rect x="146.4" y="380.71" width="3.3" height="1.4" fill="#f4f4f4" stroke="none" stroke-width="1" />
<rect x="146.4" y="383.51" width="3.3" height="1.4" fill="#f4f4f4" stroke="none" stroke-width="1" />
<rect x="146.4" y="386.31" width="3.3" height="1.4" fill="#f4f4f4" stroke="none" stroke-width="1" />
<rect x="200.6" y="378.74" width="5.7" height="10.6" fill="#d2d2d2" stroke="#4e4e4e" stroke-width="0.9" />
<rect x="201.8" y="380.34" width="3.3" height="1.4" fill="#f4f4f4" stroke="none" stroke-width="1" />
<rect x="201.8" y="383.14" width="3.3" height="1.4" fill="#f4f4f4" stroke="none" stroke-width="1" />
<rect x="201.8" y="385.94" width="3.3" height="1.4" fill="#f4f4f4" stroke="none" stroke-width="1" />
<rect x="87.6" y="413.5" width="5.7" height="10.6" fill="#d2d2d2" stroke="#4e4e4e" stroke-width="0.9" />
<rect x="88.8" y="415.1" width="3.3" height="1.4" fill="#f4f4f4" stroke="none" stroke-width="1" />
<rect x="88.8" y="417.9" width="3.3" height="1.4" fill="#f4f4f4" stroke="none" stroke-width="1" />
<rect x="88.8" y="420.7" width="3.3" height="1.4" fill="#f4f4f4" stroke="none" stroke-width="1" />
<rect x="145.2" y="413.11" width="5.7" height="10.6" fill="#d2d2d2" stroke="#4e4e4e" stroke-width="0.9" />
<rect x="146.4" y="414.71" width="3.3" height="1.4" fill="#f4f4f4" stroke="none" stroke-width="1" />
<rect x="146.4" y="417.51" width="3.3" height="1.4" fill="#f4f4f4" stroke="none" stroke-width="1" />
<rect x="146.4" y="420.31" width="3.3" height="1.4" fill="#f4f4f4" stroke="none" stroke-width="1" />
<rect x="200.6" y="412.74" width="5.7" height="10.6" fill="#d2d2d2" stroke="#4e4e4e" stroke-width="0.9" />
<rect x="201.8" y="414.34" width="3.3" height="1.4" fill="#f4f4f4" stroke="none" stroke-width="1" />
<rect x="201.8" y="417.14" width="3.3" height="1.4" fill="#f4f4f4" stroke="none" stroke-width="1" />
<rect x="201.8" y="419.94" width="3.3" height="1.4" fill="#f4f4f4" stroke="none" stroke-width="1" />
<rect x="87.6" y="447.5" width="5.7" height="10.6" fill="#d2d2d2" stroke="#4e4e4e" stroke-width="0.9" />
<rect x="88.8" y="449.1" width="3.3" height="1.4" fill="#f4f4f4" stroke="none" stroke-width="1" />
<rect x="88.8" y="451.9" width="3.3" height="1.4" fill="#f4f4f4" stroke="none" stroke-width="1" />
<rect x="88.8" y="454.7" width="3.3" height="1.4" fill="#f4f4f4" stroke="none" stroke-width="1" />
<rect x="145.2" y="447.11" width="5.7" height="10.6" fill="#d2d2d2" stroke="#4e4e4e" stroke-width="0.9" />
<rect x="146.4" y="448.71" width="3.3" height="1.4" fill="#f4f4f4" stroke="none" stroke-width="1" />
<rect x="146.4" y="451.51" width="3.3" height="1.4" fill="#f4f4f4" stroke="none" stroke-width="1" />
<rect x="146.4" y="454.31" width="3.3" height="1.4" fill="#f4f4f4" stroke="none" stroke-width="1" />
<rect x="200.6" y="446.74" width="5.7" height="10.6" fill="#d2d2d2" stroke="#4e4e4e" stroke-width="0.9" />
<rect x="201.8" y="448.34" width="3.3" height="1.4" fill="#f4f4f4" stroke="none" stroke-width="1" />
<rect x="201.8" y="451.14" width="3.3" height="1.4" fill="#f4f4f4" stroke="none" stroke-width="1" />
<rect x="201.8" y="453.94" width="3.3" height="1.4" fill="#f4f4f4" stroke="none" stroke-width="1" />
<rect x="87.6" y="481.5" width="5.7" height="10.6" fill="#d2d2d2" stroke="#4e4e4e" stroke-width="0.9" />
<rect x="88.8" y="483.1" width="3.3" height="1.4" fill="#f4f4f4" stroke="none" stroke-width="1" />
<rect x="88.8" y="485.9" width="3.3" height="1.4" fill="#f4f4f4" stroke="none" stroke-width="1" />
<rect x="88.8" y="488.7" width="3.3" height="1.4" fill="#f4f4f4" stroke="none" stroke-width="1" />
<rect x="145.2" y="481.11" width="5.7" height="10.6" fill="#d2d2d2" stroke="#4e4e4e" stroke-width="0.9" />
<rect x="146.4" y="482.71" width="3.3" height="1.4" fill="#f4f4f4" stroke="none" stroke-width="1" />
<rect x="146.4" y="485.51" width="3.3" height="1.4" fill="#f4f4f4" stroke="none" stroke-width="1" />
<rect x="146.4" y="488.31" width="3.3" height="1.4" fill="#f4f4f4" stroke="none" stroke-width="1" />
<rect x="200.6" y="480.74" width="5.7" height="10.6" fill="#d2d2d2" stroke="#4e4e4e" stroke-width="0.9" />
<rect x="201.8" y="482.34" width="3.3" height="1.4" fill="#f4f4f4" stroke="none" stroke-width="1" />
<rect x="201.8" y="485.14" width="3.3" height="1.4" fill="#f4f4f4" stroke="none" stroke-width="1" />
<rect x="201.8" y="487.94" width="3.3" height="1.4" fill="#f4f4f4" stroke="none" stroke-width="1" />
<rect x="87.6" y="515.5" width="5.7" height="10.6" fill="#d2d2d2" stroke="#4e4e4e" stroke-width="0.9" />
<rect x="88.8" y="517.1" width="3.3" height="1.4" fill="#f4f4f4" stroke="none" stroke-width="1" />
<rect x="88.8" y="519.9" width="3.3" height="1.4" fill="#f4f4f4" stroke="none" stroke-width="1" />
<rect x="88.8" y="522.7" width="3.3" height="1.4" fill="#f4f4f4" stroke="none" stroke-width="1" />
<rect x="145.2" y="515.11" width="5.7" height="10.6" fill="#d2d2d2" stroke="#4e4e4e" stroke-width="0.9" />
<rect x="146.4" y="516.71" width="3.3" height="1.4" fill="#f4f4f4" stroke="none" stroke-width="1" />
<rect x="146.4" y="519.51" width="3.3" height="1.4" fill="#f4f4f4" stroke="none" stroke-width="1" />
<rect x="146.4" y="522.31" width="3.3" height="1.4" fill="#f4f4f4" stroke="none" stroke-width="1" />
<rect x="200.6" y="514.74" width="5.7" height="10.6" fill="#d2d2d2" stroke="#4e4e4e" stroke-width="0.9" />
<rect x="201.8" y="516.34" width="3.3" height="1.4" fill="#f4f4f4" stroke="none" stroke-width="1" />
<rect x="201.8" y="519.14" width="3.3" height="1.4" fill="#f4f4f4" stroke="none" stroke-width="1" />
<rect x="201.8" y="521.94" width="3.3" height="1.4" fill="#f4f4f4" stroke="none" stroke-width="1" />
<rect x="240.3" y="153.47" width="5.7" height="10.6" fill="#d2d2d2" stroke="#4e4e4e" stroke-width="0.9" />
<rect x="241.5" y="155.07" width="3.3" height="1.4" fill="#f4f4f4" stroke="none" stroke-width="1" />
<rect x="241.5" y="157.87" width="3.3" height="1.4" fill="#f4f4f4" stroke="none" stroke-width="1" />
<rect x="241.5" y="160.67" width="3.3" height="1.4" fill="#f4f4f4" stroke="none" stroke-width="1" />
<rect x="298.8" y="152.98" width="5.7" height="10.6" fill="#d2d2d2" stroke="#4e4e4e" stroke-width="0.9" />
<rect x="300" y="154.58" width="3.3" height="1.4" fill="#f4f4f4" stroke="none" stroke-width="1" />
<rect x="300" y="157.38" width="3.3" height="1.4" fill="#f4f4f4" stroke="none" stroke-width="1" />
<rect x="300" y="160.18" width="3.3" height="1.4" fill="#f4f4f4" stroke="none" stroke-width="1" />
<rect x="353.6" y="152.53" width="5.7" height="10.6" fill="#d2d2d2" stroke="#4e4e4e" stroke-width="0.9" />
<rect x="354.8" y="154.13" width="3.3" height="1.4" fill="#f4f4f4" stroke="none" stroke-width="1" />
<rect x="354.8" y="156.93" width="3.3" height="1.4" fill="#f4f4f4" stroke="none" stroke-width="1" />
<rect x="354.8" y="159.73" width="3.3" height="1.4" fill="#f4f4f4" stroke="none" stroke-width="1" />
<rect x="240.3" y="192.23" width="5.7" height="10.6" fill="#d2d2d2" stroke="#4e4e4e" stroke-width="0.9" />
<rect x="241.5" y="193.83" width="3.3" height="1.4" fill="#f4f4f4" stroke="none" stroke-width="1" />
<rect x="241.5" y="196.63" width="3.3" height="1.4" fill="#f4f4f4" stroke="none" stroke-width="1" />
<rect x="241.5" y="199.43" width="3.3" height="1.4" fill="#f4f4f4" stroke="none" stroke-width="1" />
<rect x="298.8" y="192.05" width="5.7" height="10.6" fill="#d2d2d2" stroke="#4e4e4e" stroke-width="0.9" />
<rect x="300" y="193.65" width="3.3" height="1.4" fill="#f4f4f4" stroke="none" stroke-width="1" />
<rect x="300" y="196.45" width="3.3" height="1.4" fill="#f4f4f4" stroke="none" stroke-width="1" />
<rect x="300" y="199.25" width="3.3" height="1.4" fill="#f4f4f4" stroke="none" stroke-width="1" />
<rect x="353.6" y="191.89" width="5.7" height="10.6" fill="#d2d2d2" stroke="#4e4e4e" stroke-width="0.9" />
<rect x="354.8" y="193.49" width="3.3" height="1.4" fill="#f4f4f4" stroke="none" stroke-width="1" />
<rect x="354.8" y="196.29" width="3.3" height="1.4" fill="#f4f4f4" stroke="none" stroke-width="1" />
<rect x="354.8" y="199.09" width="3.3" height="1.4" fill="#f4f4f4" stroke="none" stroke-width="1" />
<rect x="240.3" y="226.13" width="5.7" height="10.6" fill="#d2d2d2" stroke="#4e4e4e" stroke-width="0.9" />
<rect x="241.5" y="227.73" width="3.3" height="1.4" fill="#f4f4f4" stroke="none" stroke-width="1" />
<rect x="241.5" y="230.53" width="3.3" height="1.4" fill="#f4f4f4" stroke="none" stroke-width="1" />
<rect x="241.5" y="233.33" width="3.3" height="1.4" fill="#f4f4f4" stroke="none" stroke-width="1" />
<rect x="298.8" y="225.95" width="5.7" height="10.6" fill="#d2d2d2" stroke="#4e4e4e" stroke-width="0.9" />
<rect x="300" y="227.55" width="3.3" height="1.4" fill="#f4f4f4" stroke="none" stroke-width="1" />
<rect x="300" y="230.35" width="3.3" height="1.4" fill="#f4f4f4" stroke="none" stroke-width="1" />
<rect x="300" y="233.15" width="3.3" height="1.4" fill="#f4f4f4" stroke="none" stroke-width="1" />
<rect x="353.6" y="225.79" width="5.7" height="10.6" fill="#d2d2d2" stroke="#4e4e4e" stroke-width="0.9" />
<rect x="354.8" y="227.39" width="3.3" height="1.4" fill="#f4f4f4" stroke="none" stroke-width="1" />
<rect x="354.8" y="230.19" width="3.3" height="1.4" fill="#f4f4f4" stroke="none" stroke-width="1" />
<rect x="354.8" y="232.99" width="3.3" height="1.4" fill="#f4f4f4" stroke="none" stroke-width="1" />
<rect x="240.3" y="260.38" width="5.7" height="10.6" fill="#d2d2d2" stroke="#4e4e4e" stroke-width="0.9" />
<rect x="241.5" y="261.98" width="3.3" height="1.4" fill="#f4f4f4" stroke="none" stroke-width="1" />
<rect x="241.5" y="264.78" width="3.3" height="1.4" fill="#f4f4f4" stroke="none" stroke-width="1" />
<rect x="241.5" y="267.58" width="3.3" height="1.4" fill="#f4f4f4" stroke="none" stroke-width="1" />
<rect x="298.8" y="260.2" width="5.7" height="10.6" fill="#d2d2d2" stroke="#4e4e4e" stroke-width="0.9" />
<rect x="300" y="261.8" width="3.3" height="1.4" fill="#f4f4f4" stroke="none" stroke-width="1" />
<rect x="300" y="264.6" width="3.3" height="1.4" fill="#f4f4f4" stroke="none" stroke-width="1" />
<rect x="300" y="267.4" width="3.3" height="1.4" fill="#f4f4f4" stroke="none" stroke-width="1" />
<rect x="353.6" y="260.04" width="5.7" height="10.6" fill="#d2d2d2" stroke="#4e4e4e" stroke-width="0.9" />
<rect x="354.8" y="261.64" width="3.3" height="1.4" fill="#f4f4f4" stroke="none" stroke-width="1" />
<rect x="354.8" y="264.44" width="3.3" height="1.4" fill="#f4f4f4" stroke="none" stroke-width="1" />
<rect x="354.8" y="267.24" width="3.3" height="1.4" fill="#f4f4f4" stroke="none" stroke-width="1" />
<rect x="240.3" y="294.66" width="5.7" height="10.6" fill="#d2d2d2" stroke="#4e4e4e" stroke-width="0.9" />
<rect x="241.5" y="296.26" width="3.3" height="1.4" fill="#f4f4f4" stroke="none" stroke-width="1" />
<rect x="241.5" y="299.06" width="3.3" height="1.4" fill="#f4f4f4" stroke="none" stroke-width="1" />
<rect x="241.5" y="301.86" width="3.3" height="1.4" fill="#f4f4f4" stroke="none" stroke-width="1" />
<rect x="298.8" y="294.43" width="5.7" height="10.6" fill="#d2d2d2" stroke="#4e4e4e" stroke-width="0.9" />
<rect x="300" y="296.03" width="3.3" height="1.4" fill="#f4f4f4" stroke="none" stroke-width="1" />
<rect x="300" y="298.83" width="3.3" height="1.4" fill="#f4f4f4" stroke="none" stroke-width="1" />
<rect x="300" y="301.63" width="3.3" height="1.4" fill="#f4f4f4" stroke="none" stroke-width="1" />
<rect x="353.6" y="294.22" width="5.7" height="10.6" fill="#d2d2d2" stroke="#4e4e4e" stroke-width="0.9" />
<rect x="354.8" y="295.82" width="3.3" height="1.4" fill="#f4f4f4" stroke="none" stroke-width="1" />
<rect x="354.8" y="298.62" width="3.3" height="1.4" fill="#f4f4f4" stroke="none" stroke-width="1" />
<rect x="354.8" y="301.42" width="3.3" height="1.4" fill="#f4f4f4" stroke="none" stroke-width="1" />
<rect x="240.3" y="378.47" width="5.7" height="10.6" fill="#d2d2d2" stroke="#4e4e4e" stroke-width="0.9" />
<rect x="241.5" y="380.07" width="3.3" height="1.4" fill="#f4f4f4" stroke="none" stroke-width="1" />
<rect x="241.5" y="382.87" width="3.3" height="1.4" fill="#f4f4f4" stroke="none" stroke-width="1" />
<rect x="241.5" y="385.67" width="3.3" height="1.4" fill="#f4f4f4" stroke="none" stroke-width="1" />
<rect x="298.8" y="378.07" width="5.7" height="10.6" fill="#d2d2d2" stroke="#4e4e4e" stroke-width="0.9" />
<rect x="300" y="379.67" width="3.3" height="1.4" fill="#f4f4f4" stroke="none" stroke-width="1" />
<rect x="300" y="382.47" width="3.3" height="1.4" fill="#f4f4f4" stroke="none" stroke-width="1" />
<rect x="300" y="385.27" width="3.3" height="1.4" fill="#f4f4f4" stroke="none" stroke-width="1" />
<rect x="353.6" y="377.7" width="5.7" height="10.6" fill="#d2d2d2" stroke="#4e4e4e" stroke-width="0.9" />
<rect x="354.8" y="379.3" width="3.3" height="1.4" fill="#f4f4f4" stroke="none" stroke-width="1" />
<rect x="354.8" y="382.1" width="3.3" height="1.4" fill="#f4f4f4" stroke="none" stroke-width="1" />
<rect x="354.8" y="384.9" width="3.3" height="1.4" fill="#f4f4f4" stroke="none" stroke-width="1" />
<rect x="240.3" y="412.47" width="5.7" height="10.6" fill="#d2d2d2" stroke="#4e4e4e" stroke-width="0.9" />
<rect x="241.5" y="414.07" width="3.3" height="1.4" fill="#f4f4f4" stroke="none" stroke-width="1" />
<rect x="241.5" y="416.87" width="3.3" height="1.4" fill="#f4f4f4" stroke="none" stroke-width="1" />
<rect x="241.5" y="419.67" width="3.3" height="1.4" fill="#f4f4f4" stroke="none" stroke-width="1" />
<rect x="298.8" y="412.07" width="5.7" height="10.6" fill="#d2d2d2" stroke="#4e4e4e" stroke-width="0.9" />
<rect x="300" y="413.67" width="3.3" height="1.4" fill="#f4f4f4" stroke="none" stroke-width="1" />
<rect x="300" y="416.47" width="3.3" height="1.4" fill="#f4f4f4" stroke="none" stroke-width="1" />
<rect x="300" y="419.27" width="3.3" height="1.4" fill="#f4f4f4" stroke="none" stroke-width="1" />
<rect x="353.6" y="411.7" width="5.7" height="10.6" fill="#d2d2d2" stroke="#4e4e4e" stroke-width="0.9" />
<rect x="354.8" y="413.3" width="3.3" height="1.4" fill="#f4f4f4" stroke="none" stroke-width="1" />
<rect x="354.8" y="416.1" width="3.3" height="1.4" fill="#f4f4f4" stroke="none" stroke-width="1" />
<rect x="354.8" y="418.9" width="3.3" height="1.4" fill="#f4f4f4" stroke="none" stroke-width="1" />
<rect x="240.3" y="446.47" width="5.7" height="10.6" fill="#d2d2d2" stroke="#4e4e4e" stroke-width="0.9" />
<rect x="241.5" y="448.07" width="3.3" height="1.4" fill="#f4f4f4" stroke="none" stroke-width="1" />
<rect x="241.5" y="450.87" width="3.3" height="1.4" fill="#f4f4f4" stroke="none" stroke-width="1" />
<rect x="241.5" y="453.67" width="3.3" height="1.4" fill="#f4f4f4" stroke="none" stroke-width="1" />
<rect x="298.8" y="446.07" width="5.7" height="10.6" fill="#d2d2d2" stroke="#4e4e4e" stroke-width="0.9" />
<rect x="300" y="447.67" width="3.3" height="1.4" fill="#f4f4f4" stroke="none" stroke-width="1" />
<rect x="300" y="450.47" width="3.3" height="1.4" fill="#f4f4f4" stroke="none" stroke-width="1" />
<rect x="300" y="453.27" width="3.3" height="1.4" fill="#f4f4f4" stroke="none" stroke-width="1" />
<rect x="353.6" y="445.7" width="5.7" height="10.6" fill="#d2d2d2" stroke="#4e4e4e" stroke-width="0.9" />
<rect x="354.8" y="447.3" width="3.3" height="1.4" fill="#f4f4f4" stroke="none" stroke-width="1" />
<rect x="354.8" y="450.1" width="3.3" height="1.4" fill="#f4f4f4" stroke="none" stroke-width="1" />
<rect x="354.8" y="452.9" width="3.3" height="1.4" fill="#f4f4f4" stroke="none" stroke-width="1" />
<rect x="240.3" y="480.47" width="5.7" height="10.6" fill="#d2d2d2" stroke="#4e4e4e" stroke-width="0.9" />
<rect x="241.5" y="482.07" width="3.3" height="1.4" fill="#f4f4f4" stroke="none" stroke-width="1" />
<rect x="241.5" y="484.87" width="3.3" height="1.4" fill="#f4f4f4" stroke="none" stroke-width="1" />
<rect x="241.5" y="487.67" width="3.3" height="1.4" fill="#f4f4f4" stroke="none" stroke-width="1" />
<rect x="298.8" y="480.07" width="5.7" height="10.6" fill="#d2d2d2" stroke="#4e4e4e" stroke-width="0.9" />
<rect x="300" y="481.67" width="3.3" height="1.4" fill="#f4f4f4" stroke="none" stroke-width="1" />
<rect x="300" y="484.47" width="3.3" height="1.4" fill="#f4f4f4" stroke="none" stroke-width="1" />
<rect x="300" y="487.27" width="3.3" height="1.4" fill="#f4f4f4" stroke="none" stroke-width="1" />
<rect x="353.6" y="479.7" width="5.7" height="10.6" fill="#d2d2d2" stroke="#4e4e4e" stroke-width="0.9" />
<rect x="354.8" y="481.3" width="3.3" height="1.4" fill="#f4f4f4" stroke="none" stroke-width="1" />
<rect x="354.8" y="484.1" width="3.3" height="1.4" fill="#f4f4f4" stroke="none" stroke-width="1" />
<rect x="354.8" y="486.9" width="3.3" height="1.4" fill="#f4f4f4" stroke="none" stroke-width="1" />
<rect x="240.3" y="514.47" width="5.7" height="10.6" fill="#d2d2d2" stroke="#4e4e4e" stroke-width="0.9" />
<rect x="241.5" y="516.07" width="3.3" height="1.4" fill="#f4f4f4" stroke="none" stroke-width="1" />
<rect x="241.5" y="518.87" width="3.3" height="1.4" fill="#f4f4f4" stroke="none" stroke-width="1" />
<rect x="241.5" y="521.67" width="3.3" height="1.4" fill="#f4f4f4" stroke="none" stroke-width="1" />
<rect x="298.8" y="514.07" width="5.7" height="10.6" fill="#d2d2d2" stroke="#4e4e4e" stroke-width="0.9" />
<rect x="300" y="515.67" width="3.3" height="1.4" fill="#f4f4f4" stroke="none" stroke-width="1" />
<rect x="300" y="518.47" width="3.3" height="1.4" fill="#f4f4f4" stroke="none" stroke-width="1" />
<rect x="300" y="521.27" width="3.3" height="1.4" fill="#f4f4f4" stroke="none" stroke-width="1" />
<rect x="353.6" y="513.7" width="5.7" height="10.6" fill="#d2d2d2" stroke="#4e4e4e" stroke-width="0.9" />
<rect x="354.8" y="515.3" width="3.3" height="1.4" fill="#f4f4f4" stroke="none" stroke-width="1" />
<rect x="354.8" y="518.1" width="3.3" height="1.4" fill="#f4f4f4" stroke="none" stroke-width="1" />
<rect x="354.8" y="520.9" width="3.3" height="1.4" fill="#f4f4f4" stroke="none" stroke-width="1" />
<rect x="393.9" y="152.2" width="5.7" height="10.6" fill="#d2d2d2" stroke="#4e4e4e" stroke-width="0.9" />
<rect x="395.1" y="153.8" width="3.3" height="1.4" fill="#f4f4f4" stroke="none" stroke-width="1" />
<rect x="395.1" y="156.6" width="3.3" height="1.4" fill="#f4f4f4" stroke="none" stroke-width="1" />
<rect x="395.1" y="159.4" width="3.3" height="1.4" fill="#f4f4f4" stroke="none" stroke-width="1" />
<rect x="451.7" y="151.72" width="5.7" height="10.6" fill="#d2d2d2" stroke="#4e4e4e" stroke-width="0.9" />
<rect x="452.9" y="153.32" width="3.3" height="1.4" fill="#f4f4f4" stroke="none" stroke-width="1" />
<rect x="452.9" y="156.12" width="3.3" height="1.4" fill="#f4f4f4" stroke="none" stroke-width="1" />
<rect x="452.9" y="158.92" width="3.3" height="1.4" fill="#f4f4f4" stroke="none" stroke-width="1" />
<rect x="506.8" y="151.27" width="5.7" height="10.6" fill="#d2d2d2" stroke="#4e4e4e" stroke-width="0.9" />
<rect x="508" y="152.87" width="3.3" height="1.4" fill="#f4f4f4" stroke="none" stroke-width="1" />
<rect x="508" y="155.67" width="3.3" height="1.4" fill="#f4f4f4" stroke="none" stroke-width="1" />
<rect x="508" y="158.47" width="3.3" height="1.4" fill="#f4f4f4" stroke="none" stroke-width="1" />
<rect x="393.9" y="191.77" width="5.7" height="10.6" fill="#d2d2d2" stroke="#4e4e4e" stroke-width="0.9" />
<rect x="395.1" y="193.37" width="3.3" height="1.4" fill="#f4f4f4" stroke="none" stroke-width="1" />
<rect x="395.1" y="196.17" width="3.3" height="1.4" fill="#f4f4f4" stroke="none" stroke-width="1" />
<rect x="395.1" y="198.97" width="3.3" height="1.4" fill="#f4f4f4" stroke="none" stroke-width="1" />
<rect x="451.7" y="191.59" width="5.7" height="10.6" fill="#d2d2d2" stroke="#4e4e4e" stroke-width="0.9" />
<rect x="452.9" y="193.19" width="3.3" height="1.4" fill="#f4f4f4" stroke="none" stroke-width="1" />
<rect x="452.9" y="195.99" width="3.3" height="1.4" fill="#f4f4f4" stroke="none" stroke-width="1" />
<rect x="452.9" y="198.79" width="3.3" height="1.4" fill="#f4f4f4" stroke="none" stroke-width="1" />
<rect x="506.8" y="191.43" width="5.7" height="10.6" fill="#d2d2d2" stroke="#4e4e4e" stroke-width="0.9" />
<rect x="508" y="193.03" width="3.3" height="1.4" fill="#f4f4f4" stroke="none" stroke-width="1" />
<rect x="508" y="195.83" width="3.3" height="1.4" fill="#f4f4f4" stroke="none" stroke-width="1" />
<rect x="508" y="198.63" width="3.3" height="1.4" fill="#f4f4f4" stroke="none" stroke-width="1" />
<rect x="393.9" y="225.67" width="5.7" height="10.6" fill="#d2d2d2" stroke="#4e4e4e" stroke-width="0.9" />
<rect x="395.1" y="227.27" width="3.3" height="1.4" fill="#f4f4f4" stroke="none" stroke-width="1" />
<rect x="395.1" y="230.07" width="3.3" height="1.4" fill="#f4f4f4" stroke="none" stroke-width="1" />
<rect x="395.1" y="232.87" width="3.3" height="1.4" fill="#f4f4f4" stroke="none" stroke-width="1" />
<rect x="451.7" y="225.49" width="5.7" height="10.6" fill="#d2d2d2" stroke="#4e4e4e" stroke-width="0.9" />
<rect x="452.9" y="227.09" width="3.3" height="1.4" fill="#f4f4f4" stroke="none" stroke-width="1" />
<rect x="452.9" y="229.89" width="3.3" height="1.4" fill="#f4f4f4" stroke="none" stroke-width="1" />
<rect x="452.9" y="232.69" width="3.3" height="1.4" fill="#f4f4f4" stroke="none" stroke-width="1" />
<rect x="506.8" y="225.33" width="5.7" height="10.6" fill="#d2d2d2" stroke="#4e4e4e" stroke-width="0.9" />
<rect x="508" y="226.93" width="3.3" height="1.4" fill="#f4f4f4" stroke="none" stroke-width="1" />
<rect x="508" y="229.73" width="3.3" height="1.4" fill="#f4f4f4" stroke="none" stroke-width="1" />
<rect x="508" y="232.53" width="3.3" height="1.4" fill="#f4f4f4" stroke="none" stroke-width="1" />
<rect x="393.9" y="259.92" width="5.7" height="10.6" fill="#d2d2d2" stroke="#4e4e4e" stroke-width="0.9" />
<rect x="395.1" y="261.52" width="3.3" height="1.4" fill="#f4f4f4" stroke="none" stroke-width="1" />
<rect x="395.1" y="264.32" width="3.3" height="1.4" fill="#f4f4f4" stroke="none" stroke-width="1" />
<rect x="395.1" y="267.12" width="3.3" height="1.4" fill="#f4f4f4" stroke="none" stroke-width="1" />
<rect x="451.7" y="259.74" width="5.7" height="10.6" fill="#d2d2d2" stroke="#4e4e4e" stroke-width="0.9" />
<rect x="452.9" y="261.34" width="3.3" height="1.4" fill="#f4f4f4" stroke="none" stroke-width="1" />
<rect x="452.9" y="264.14" width="3.3" height="1.4" fill="#f4f4f4" stroke="none" stroke-width="1" />
<rect x="452.9" y="266.94" width="3.3" height="1.4" fill="#f4f4f4" stroke="none" stroke-width="1" />
<rect x="506.8" y="259.58" width="5.7" height="10.6" fill="#d2d2d2" stroke="#4e4e4e" stroke-width="0.9" />
<rect x="508" y="261.18" width="3.3" height="1.4" fill="#f4f4f4" stroke="none" stroke-width="1" />
<rect x="508" y="263.98" width="3.3" height="1.4" fill="#f4f4f4" stroke="none" stroke-width="1" />
<rect x="508" y="266.78" width="3.3" height="1.4" fill="#f4f4f4" stroke="none" stroke-width="1" />
<rect x="393.9" y="294.06" width="5.7" height="10.6" fill="#d2d2d2" stroke="#4e4e4e" stroke-width="0.9" />
<rect x="395.1" y="295.66" width="3.3" height="1.4" fill="#f4f4f4" stroke="none" stroke-width="1" />
<rect x="395.1" y="298.46" width="3.3" height="1.4" fill="#f4f4f4" stroke="none" stroke-width="1" />
<rect x="395.1" y="301.26" width="3.3" height="1.4" fill="#f4f4f4" stroke="none" stroke-width="1" />
<rect x="451.7" y="293.84" width="5.7" height="10.6" fill="#d2d2d2" stroke="#4e4e4e" stroke-width="0.9" />
<rect x="452.9" y="295.44" width="3.3" height="1.4" fill="#f4f4f4" stroke="none" stroke-width="1" />
<rect x="452.9" y="298.24" width="3.3" height="1.4" fill="#f4f4f4" stroke="none" stroke-width="1" />
<rect x="452.9" y="301.04" width="3.3" height="1.4" fill="#f4f4f4" stroke="none" stroke-width="1" />
<rect x="506.8" y="293.62" width="5.7" height="10.6" fill="#d2d2d2" stroke="#4e4e4e" stroke-width="0.9" />
<rect x="508" y="295.22" width="3.3" height="1.4" fill="#f4f4f4" stroke="none" stroke-width="1" />
<rect x="508" y="298.02" width="3.3" height="1.4" fill="#f4f4f4" stroke="none" stroke-width="1" />
<rect x="508" y="300.82" width="3.3" height="1.4" fill="#f4f4f4" stroke="none" stroke-width="1" />
<rect x="393.9" y="377.42" width="5.7" height="10.6" fill="#d2d2d2" stroke="#4e4e4e" stroke-width="0.9" />
<rect x="395.1" y="379.02" width="3.3" height="1.4" fill="#f4f4f4" stroke="none" stroke-width="1" />
<rect x="395.1" y="381.82" width="3.3" height="1.4" fill="#f4f4f4" stroke="none" stroke-width="1" />
<rect x="395.1" y="384.62" width="3.3" height="1.4" fill="#f4f4f4" stroke="none" stroke-width="1" />
<rect x="451.7" y="377.03" width="5.7" height="10.6" fill="#d2d2d2" stroke="#4e4e4e" stroke-width="0.9" />
<rect x="452.9" y="378.63" width="3.3" height="1.4" fill="#f4f4f4" stroke="none" stroke-width="1" />
<rect x="452.9" y="381.43" width="3.3" height="1.4" fill="#f4f4f4" stroke="none" stroke-width="1" />
<rect x="452.9" y="384.23" width="3.3" height="1.4" fill="#f4f4f4" stroke="none" stroke-width="1" />
<rect x="506.8" y="376.65" width="5.7" height="10.6" fill="#d2d2d2" stroke="#4e4e4e" stroke-width="0.9" />
<rect x="508" y="378.25" width="3.3" height="1.4" fill="#f4f4f4" stroke="none" stroke-width="1" />
<rect x="508" y="381.05" width="3.3" height="1.4" fill="#f4f4f4" stroke="none" stroke-width="1" />
<rect x="508" y="383.85" width="3.3" height="1.4" fill="#f4f4f4" stroke="none" stroke-width="1" />
<rect x="393.9" y="411.42" width="5.7" height="10.6" fill="#d2d2d2" stroke="#4e4e4e" stroke-width="0.9" />
<rect x="395.1" y="413.02" width="3.3" height="1.4" fill="#f4f4f4" stroke="none" stroke-width="1" />
<rect x="395.1" y="415.82" width="3.3" height="1.4" fill="#f4f4f4" stroke="none" stroke-width="1" />
<rect x="395.1" y="418.62" width="3.3" height="1.4" fill="#f4f4f4" stroke="none" stroke-width="1" />
<rect x="451.7" y="411.03" width="5.7" height="10.6" fill="#d2d2d2" stroke="#4e4e4e" stroke-width="0.9" />
<rect x="452.9" y="412.63" width="3.3" height="1.4" fill="#f4f4f4" stroke="none" stroke-width="1" />
<rect x="452.9" y="415.43" width="3.3" height="1.4" fill="#f4f4f4" stroke="none" stroke-width="1" />
<rect x="452.9" y="418.23" width="3.3" height="1.4" fill="#f4f4f4" stroke="none" stroke-width="1" />
<rect x="506.8" y="410.65" width="5.7" height="10.6" fill="#d2d2d2" stroke="#4e4e4e" stroke-width="0.9" />
<rect x="508" y="412.25" width="3.3" height="1.4" fill="#f4f4f4" stroke="none" stroke-width="1" />
<rect x="508" y="415.05" width="3.3" height="1.4" fill="#f4f4f4" stroke="none" stroke-width="1" />
<rect x="508" y="417.85" width="3.3" height="1.4" fill="#f4f4f4" stroke="none" stroke-width="1" />
<rect x="393.9" y="445.42" width="5.7" height="10.6" fill="#d2d2d2" stroke="#4e4e4e" stroke-width="0.9" />
<rect x="395.1" y="447.02" width="3.3" height="1.4" fill="#f4f4f4" stroke="none" stroke-width="1" />
<rect x="395.1" y="449.82" width="3.3" height="1.4" fill="#f4f4f4" stroke="none" stroke-width="1" />
<rect x="395.1" y="452.62" width="3.3" height="1.4" fill="#f4f4f4" stroke="none" stroke-width="1" />
<rect x="451.7" y="445.03" width="5.7" height="10.6" fill="#d2d2d2" stroke="#4e4e4e" stroke-width="0.9" />
<rect x="452.9" y="446.63" width="3.3" height="1.4" fill="#f4f4f4" stroke="none" stroke-width="1" />
<rect x="452.9" y="449.43" width="3.3" height="1.4" fill="#f4f4f4" stroke="none" stroke-width="1" />
<rect x="452.9" y="452.23" width="3.3" height="1.4" fill="#f4f4f4" stroke="none" stroke-width="1" />
<rect x="506.8" y="444.65" width="5.7" height="10.6" fill="#d2d2d2" stroke="#4e4e4e" stroke-width="0.9" />
<rect x="508" y="446.25" width="3.3" height="1.4" fill="#f4f4f4" stroke="none" stroke-width="1" />
<rect x="508" y="449.05" width="3.3" height="1.4" fill="#f4f4f4" stroke="none" stroke-width="1" />
<rect x="508" y="451.85" width="3.3" height="1.4" fill="#f4f4f4" stroke="none" stroke-width="1" />
<rect x="393.9" y="479.42" width="5.7" height="10.6" fill="#d2d2d2" stroke="#4e4e4e" stroke-width="0.9" />
<rect x="395.1" y="481.02" width="3.3" height="1.4" fill="#f4f4f4" stroke="none" stroke-width="1" />
<rect x="395.1" y="483.82" width="3.3" height="1.4" fill="#f4f4f4" stroke="none" stroke-width="1" />
<rect x="395.1" y="486.62" width="3.3" height="1.4" fill="#f4f4f4" stroke="none" stroke-width="1" />
<rect x="451.7" y="479.03" width="5.7" height="10.6" fill="#d2d2d2" stroke="#4e4e4e" stroke-width="0.9" />
<rect x="452.9" y="480.63" width="3.3" height="1.4" fill="#f4f4f4" stroke="none" stroke-width="1" />
<rect x="452.9" y="483.43" width="3.3" height="1.4" fill="#f4f4f4" stroke="none" stroke-width="1" />
<rect x="452.9" y="486.23" width="3.3" height="1.4" fill="#f4f4f4" stroke="none" stroke-width="1" />
<rect x="506.8" y="478.65" width="5.7" height="10.6" fill="#d2d2d2" stroke="#4e4e4e" stroke-width="0.9" />
<rect x="508" y="480.25" width="3.3" height="1.4" fill="#f4f4f4" stroke="none" stroke-width="1" />
<rect x="508" y="483.05" width="3.3" height="1.4" fill="#f4f4f4" stroke="none" stroke-width="1" />
<rect x="508" y="485.85" width="3.3" height="1.4" fill="#f4f4f4" stroke="none" stroke-width="1" />
<rect x="393.9" y="513.42" width="5.7" height="10.6" fill="#d2d2d2" stroke="#4e4e4e" stroke-width="0.9" />
<rect x="395.1" y="515.02" width="3.3" height="1.4" fill="#f4f4f4" stroke="none" stroke-width="1" />
<rect x="395.1" y="517.82" width="3.3" height="1.4" fill="#f4f4f4" stroke="none" stroke-width="1" />
<rect x="395.1" y="520.62" width="3.3" height="1.4" fill="#f4f4f4" stroke="none" stroke-width="1" />
<rect x="451.7" y="513.03" width="5.7" height="10.6" fill="#d2d2d2" stroke="#4e4e4e" stroke-width="0.9" />
<rect x="452.9" y="514.63" width="3.3" height="1.4" fill="#f4f4f4" stroke="none" stroke-width="1" />
<rect x="452.9" y="517.43" width="3.3" height="1.4" fill="#f4f4f4" stroke="none" stroke-width="1" />
<rect x="452.9" y="520.23" width="3.3" height="1.4" fill="#f4f4f4" stroke="none" stroke-width="1" />
<rect x="506.8" y="512.65" width="5.7" height="10.6" fill="#d2d2d2" stroke="#4e4e4e" stroke-width="0.9" />
<rect x="508" y="514.25" width="3.3" height="1.4" fill="#f4f4f4" stroke="none" stroke-width="1" />
<rect x="508" y="517.05" width="3.3" height="1.4" fill="#f4f4f4" stroke="none" stroke-width="1" />
<rect x="508" y="519.85" width="3.3" height="1.4" fill="#f4f4f4" stroke="none" stroke-width="1" />
<rect x="547.1" y="150.94" width="5.7" height="10.6" fill="#d2d2d2" stroke="#4e4e4e" stroke-width="0.9" />
<rect x="548.3" y="152.54" width="3.3" height="1.4" fill="#f4f4f4" stroke="none" stroke-width="1" />
<rect x="548.3" y="155.34" width="3.3" height="1.4" fill="#f4f4f4" stroke="none" stroke-width="1" />
<rect x="548.3" y="158.14" width="3.3" height="1.4" fill="#f4f4f4" stroke="none" stroke-width="1" />
<rect x="605.2" y="150.46" width="5.7" height="10.6" fill="#d2d2d2" stroke="#4e4e4e" stroke-width="0.9" />
<rect x="606.4" y="152.06" width="3.3" height="1.4" fill="#f4f4f4" stroke="none" stroke-width="1" />
<rect x="606.4" y="154.86" width="3.3" height="1.4" fill="#f4f4f4" stroke="none" stroke-width="1" />
<rect x="606.4" y="157.66" width="3.3" height="1.4" fill="#f4f4f4" stroke="none" stroke-width="1" />
<rect x="660" y="150" width="5.7" height="10.6" fill="#d2d2d2" stroke="#4e4e4e" stroke-width="0.9" />
<rect x="661.2" y="151.6" width="3.3" height="1.4" fill="#f4f4f4" stroke="none" stroke-width="1" />
<rect x="661.2" y="154.41" width="3.3" height="1.4" fill="#f4f4f4" stroke="none" stroke-width="1" />
<rect x="661.2" y="157.2" width="3.3" height="1.4" fill="#f4f4f4" stroke="none" stroke-width="1" />
<rect x="547.1" y="191.31" width="5.7" height="10.6" fill="#d2d2d2" stroke="#4e4e4e" stroke-width="0.9" />
<rect x="548.3" y="192.91" width="3.3" height="1.4" fill="#f4f4f4" stroke="none" stroke-width="1" />
<rect x="548.3" y="195.71" width="3.3" height="1.4" fill="#f4f4f4" stroke="none" stroke-width="1" />
<rect x="548.3" y="198.51" width="3.3" height="1.4" fill="#f4f4f4" stroke="none" stroke-width="1" />
<rect x="605.2" y="191.13" width="5.7" height="10.6" fill="#d2d2d2" stroke="#4e4e4e" stroke-width="0.9" />
<rect x="606.4" y="192.73" width="3.3" height="1.4" fill="#f4f4f4" stroke="none" stroke-width="1" />
<rect x="606.4" y="195.53" width="3.3" height="1.4" fill="#f4f4f4" stroke="none" stroke-width="1" />
<rect x="606.4" y="198.33" width="3.3" height="1.4" fill="#f4f4f4" stroke="none" stroke-width="1" />
<rect x="660" y="190.97" width="5.7" height="10.6" fill="#d2d2d2" stroke="#4e4e4e" stroke-width="0.9" />
<rect x="661.2" y="192.57" width="3.3" height="1.4" fill="#f4f4f4" stroke="none" stroke-width="1" />
<rect x="661.2" y="195.37" width="3.3" height="1.4" fill="#f4f4f4" stroke="none" stroke-width="1" />
<rect x="661.2" y="198.17" width="3.3" height="1.4" fill="#f4f4f4" stroke="none" stroke-width="1" />
<rect x="547.1" y="225.21" width="5.7" height="10.6" fill="#d2d2d2" stroke="#4e4e4e" stroke-width="0.9" />
<rect x="548.3" y="226.81" width="3.3" height="1.4" fill="#f4f4f4" stroke="none" stroke-width="1" />
<rect x="548.3" y="229.61" width="3.3" height="1.4" fill="#f4f4f4" stroke="none" stroke-width="1" />
<rect x="548.3" y="232.41" width="3.3" height="1.4" fill="#f4f4f4" stroke="none" stroke-width="1" />
<rect x="605.2" y="225.03" width="5.7" height="10.6" fill="#d2d2d2" stroke="#4e4e4e" stroke-width="0.9" />
<rect x="606.4" y="226.63" width="3.3" height="1.4" fill="#f4f4f4" stroke="none" stroke-width="1" />
<rect x="606.4" y="229.43" width="3.3" height="1.4" fill="#f4f4f4" stroke="none" stroke-width="1" />
<rect x="606.4" y="232.23" width="3.3" height="1.4" fill="#f4f4f4" stroke="none" stroke-width="1" />
<rect x="660" y="224.87" width="5.7" height="10.6" fill="#d2d2d2" stroke="#4e4e4e" stroke-width="0.9" />
<rect x="661.2" y="226.47" width="3.3" height="1.4" fill="#f4f4f4" stroke="none" stroke-width="1" />
<rect x="661.2" y="229.27" width="3.3" height="1.4" fill="#f4f4f4" stroke="none" stroke-width="1" />
<rect x="661.2" y="232.07" width="3.3" height="1.4" fill="#f4f4f4" stroke="none" stroke-width="1" />
<rect x="547.1" y="259.46" width="5.7" height="10.6" fill="#d2d2d2" stroke="#4e4e4e" stroke-width="0.9" />
<rect x="548.3" y="261.06" width="3.3" height="1.4" fill="#f4f4f4" stroke="none" stroke-width="1" />
<rect x="548.3" y="263.86" width="3.3" height="1.4" fill="#f4f4f4" stroke="none" stroke-width="1" />
<rect x="548.3" y="266.66" width="3.3" height="1.4" fill="#f4f4f4" stroke="none" stroke-width="1" />
<rect x="605.2" y="259.28" width="5.7" height="10.6" fill="#d2d2d2" stroke="#4e4e4e" stroke-width="0.9" />
<rect x="606.4" y="260.88" width="3.3" height="1.4" fill="#f4f4f4" stroke="none" stroke-width="1" />
<rect x="606.4" y="263.68" width="3.3" height="1.4" fill="#f4f4f4" stroke="none" stroke-width="1" />
<rect x="606.4" y="266.48" width="3.3" height="1.4" fill="#f4f4f4" stroke="none" stroke-width="1" />
<rect x="660" y="259.12" width="5.7" height="10.6" fill="#d2d2d2" stroke="#4e4e4e" stroke-width="0.9" />
<rect x="661.2" y="260.72" width="3.3" height="1.4" fill="#f4f4f4" stroke="none" stroke-width="1" />
<rect x="661.2" y="263.52" width="3.3" height="1.4" fill="#f4f4f4" stroke="none" stroke-width="1" />
<rect x="661.2" y="266.32" width="3.3" height="1.4" fill="#f4f4f4" stroke="none" stroke-width="1" />
<rect x="547.1" y="293.47" width="5.7" height="10.6" fill="#d2d2d2" stroke="#4e4e4e" stroke-width="0.9" />
<rect x="548.3" y="295.07" width="3.3" height="1.4" fill="#f4f4f4" stroke="none" stroke-width="1" />
<rect x="548.3" y="297.87" width="3.3" height="1.4" fill="#f4f4f4" stroke="none" stroke-width="1" />
<rect x="548.3" y="300.67" width="3.3" height="1.4" fill="#f4f4f4" stroke="none" stroke-width="1" />
<rect x="605.2" y="293.24" width="5.7" height="10.6" fill="#d2d2d2" stroke="#4e4e4e" stroke-width="0.9" />
<rect x="606.4" y="294.84" width="3.3" height="1.4" fill="#f4f4f4" stroke="none" stroke-width="1" />
<rect x="606.4" y="297.64" width="3.3" height="1.4" fill="#f4f4f4" stroke="none" stroke-width="1" />
<rect x="606.4" y="300.44" width="3.3" height="1.4" fill="#f4f4f4" stroke="none" stroke-width="1" />
<rect x="660" y="293.03" width="5.7" height="10.6" fill="#d2d2d2" stroke="#4e4e4e" stroke-width="0.9" />
<rect x="661.2" y="294.63" width="3.3" height="1.4" fill="#f4f4f4" stroke="none" stroke-width="1" />
<rect x="661.2" y="297.43" width="3.3" height="1.4" fill="#f4f4f4" stroke="none" stroke-width="1" />
<rect x="661.2" y="300.23" width="3.3" height="1.4" fill="#f4f4f4" stroke="none" stroke-width="1" />
<rect x="547.1" y="376.38" width="5.7" height="10.6" fill="#d2d2d2" stroke="#4e4e4e" stroke-width="0.9" />
<rect x="548.3" y="377.98" width="3.3" height="1.4" fill="#f4f4f4" stroke="none" stroke-width="1" />
<rect x="548.3" y="380.78" width="3.3" height="1.4" fill="#f4f4f4" stroke="none" stroke-width="1" />
<rect x="548.3" y="383.58" width="3.3" height="1.4" fill="#f4f4f4" stroke="none" stroke-width="1" />
<rect x="605.2" y="375.98" width="5.7" height="10.6" fill="#d2d2d2" stroke="#4e4e4e" stroke-width="0.9" />
<rect x="606.4" y="377.58" width="3.3" height="1.4" fill="#f4f4f4" stroke="none" stroke-width="1" />
<rect x="606.4" y="380.38" width="3.3" height="1.4" fill="#f4f4f4" stroke="none" stroke-width="1" />
<rect x="606.4" y="383.18" width="3.3" height="1.4" fill="#f4f4f4" stroke="none" stroke-width="1" />
<rect x="660" y="375.61" width="5.7" height="10.6" fill="#d2d2d2" stroke="#4e4e4e" stroke-width="0.9" />
<rect x="661.2" y="377.21" width="3.3" height="1.4" fill="#f4f4f4" stroke="none" stroke-width="1" />
<rect x="661.2" y="380.01" width="3.3" height="1.4" fill="#f4f4f4" stroke="none" stroke-width="1" />
<rect x="661.2" y="382.81" width="3.3" height="1.4" fill="#f4f4f4" stroke="none" stroke-width="1" />
<rect x="547.1" y="410.38" width="5.7" height="10.6" fill="#d2d2d2" stroke="#4e4e4e" stroke-width="0.9" />
<rect x="548.3" y="411.98" width="3.3" height="1.4" fill="#f4f4f4" stroke="none" stroke-width="1" />
<rect x="548.3" y="414.78" width="3.3" height="1.4" fill="#f4f4f4" stroke="none" stroke-width="1" />
<rect x="548.3" y="417.58" width="3.3" height="1.4" fill="#f4f4f4" stroke="none" stroke-width="1" />
<rect x="605.2" y="409.98" width="5.7" height="10.6" fill="#d2d2d2" stroke="#4e4e4e" stroke-width="0.9" />
<rect x="606.4" y="411.58" width="3.3" height="1.4" fill="#f4f4f4" stroke="none" stroke-width="1" />
<rect x="606.4" y="414.38" width="3.3" height="1.4" fill="#f4f4f4" stroke="none" stroke-width="1" />
<rect x="606.4" y="417.18" width="3.3" height="1.4" fill="#f4f4f4" stroke="none" stroke-width="1" />
<rect x="660" y="409.61" width="5.7" height="10.6" fill="#d2d2d2" stroke="#4e4e4e" stroke-width="0.9" />
<rect x="661.2" y="411.21" width="3.3" height="1.4" fill="#f4f4f4" stroke="none" stroke-width="1" />
<rect x="661.2" y="414.01" width="3.3" height="1.4" fill="#f4f4f4" stroke="none" stroke-width="1" />
<rect x="661.2" y="416.81" width="3.3" height="1.4" fill="#f4f4f4" stroke="none" stroke-width="1" />
<rect x="547.1" y="444.38" width="5.7" height="10.6" fill="#d2d2d2" stroke="#4e4e4e" stroke-width="0.9" />
<rect x="548.3" y="445.98" width="3.3" height="1.4" fill="#f4f4f4" stroke="none" stroke-width="1" />
<rect x="548.3" y="448.78" width="3.3" height="1.4" fill="#f4f4f4" stroke="none" stroke-width="1" />
<rect x="548.3" y="451.58" width="3.3" height="1.4" fill="#f4f4f4" stroke="none" stroke-width="1" />
<rect x="605.2" y="443.98" width="5.7" height="10.6" fill="#d2d2d2" stroke="#4e4e4e" stroke-width="0.9" />
<rect x="606.4" y="445.58" width="3.3" height="1.4" fill="#f4f4f4" stroke="none" stroke-width="1" />
<rect x="606.4" y="448.38" width="3.3" height="1.4" fill="#f4f4f4" stroke="none" stroke-width="1" />
<rect x="606.4" y="451.18" width="3.3" height="1.4" fill="#f4f4f4" stroke="none" stroke-width="1" />
<rect x="660" y="443.61" width="5.7" height="10.6" fill="#d2d2d2" stroke="#4e4e4e" stroke-width="0.9" />
<rect x="661.2" y="445.21" width="3.3" height="1.4" fill="#f4f4f4" stroke="none" stroke-width="1" />
<rect x="661.2" y="448.01" width="3.3" height="1.4" fill="#f4f4f4" stroke="none" stroke-width="1" />
<rect x="661.2" y="450.81" width="3.3" height="1.4" fill="#f4f4f4" stroke="none" stroke-width="1" />
<rect x="547.1" y="478.38" width="5.7" height="10.6" fill="#d2d2d2" stroke="#4e4e4e" stroke-width="0.9" />
<rect x="548.3" y="479.98" width="3.3" height="1.4" fill="#f4f4f4" stroke="none" stroke-width="1" />
<rect x="548.3" y="482.78" width="3.3" height="1.4" fill="#f4f4f4" stroke="none" stroke-width="1" />
<rect x="548.3" y="485.58" width="3.3" height="1.4" fill="#f4f4f4" stroke="none" stroke-width="1" />
<rect x="605.2" y="477.98" width="5.7" height="10.6" fill="#d2d2d2" stroke="#4e4e4e" stroke-width="0.9" />
<rect x="606.4" y="479.58" width="3.3" height="1.4" fill="#f4f4f4" stroke="none" stroke-width="1" />
<rect x="606.4" y="482.38" width="3.3" height="1.4" fill="#f4f4f4" stroke="none" stroke-width="1" />
<rect x="606.4" y="485.18" width="3.3" height="1.4" fill="#f4f4f4" stroke="none" stroke-width="1" />
<rect x="660" y="477.61" width="5.7" height="10.6" fill="#d2d2d2" stroke="#4e4e4e" stroke-width="0.9" />
<rect x="661.2" y="479.21" width="3.3" height="1.4" fill="#f4f4f4" stroke="none" stroke-width="1" />
<rect x="661.2" y="482.01" width="3.3" height="1.4" fill="#f4f4f4" stroke="none" stroke-width="1" />
<rect x="661.2" y="484.81" width="3.3" height="1.4" fill="#f4f4f4" stroke="none" stroke-width="1" />
<rect x="547.1" y="512.38" width="5.7" height="10.6" fill="#d2d2d2" stroke="#4e4e4e" stroke-width="0.9" />
<rect x="548.3" y="513.98" width="3.3" height="1.4" fill="#f4f4f4" stroke="none" stroke-width="1" />
<rect x="548.3" y="516.78" width="3.3" height="1.4" fill="#f4f4f4" stroke="none" stroke-width="1" />
<rect x="548.3" y="519.58" width="3.3" height="1.4" fill="#f4f4f4" stroke="none" stroke-width="1" />
<rect x="605.2" y="511.98" width="5.7" height="10.6" fill="#d2d2d2" stroke="#4e4e4e" stroke-width="0.9" />
<rect x="606.4" y="513.58" width="3.3" height="1.4" fill="#f4f4f4" stroke="none" stroke-width="1" />
<rect x="606.4" y="516.38" width="3.3" height="1.4" fill="#f4f4f4" stroke="none" stroke-width="1" />
<rect x="606.4" y="519.18" width="3.3" height="1.4" fill="#f4f4f4" stroke="none" stroke-width="1" />
<rect x="660" y="511.61" width="5.7" height="10.6" fill="#d2d2d2" stroke="#4e4e4e" stroke-width="0.9" />
<rect x="661.2" y="513.21" width="3.3" height="1.4" fill="#f4f4f4" stroke="none" stroke-width="1" />
<rect x="661.2" y="516.01" width="3.3" height="1.4" fill="#f4f4f4" stroke="none" stroke-width="1" />
<rect x="661.2" y="518.81" width="3.3" height="1.4" fill="#f4f4f4" stroke="none" stroke-width="1" />
<rect x="700.3" y="151.77" width="5.7" height="10.6" fill="#d2d2d2" stroke="#4e4e4e" stroke-width="0.9" />
<rect x="701.5" y="153.37" width="3.3" height="1.4" fill="#f4f4f4" stroke="none" stroke-width="1" />
<rect x="701.5" y="156.17" width="3.3" height="1.4" fill="#f4f4f4" stroke="none" stroke-width="1" />
<rect x="701.5" y="158.97" width="3.3" height="1.4" fill="#f4f4f4" stroke="none" stroke-width="1" />
<rect x="758.3" y="151.38" width="5.7" height="10.6" fill="#d2d2d2" stroke="#4e4e4e" stroke-width="0.9" />
<rect x="759.5" y="152.98" width="3.3" height="1.4" fill="#f4f4f4" stroke="none" stroke-width="1" />
<rect x="759.5" y="155.78" width="3.3" height="1.4" fill="#f4f4f4" stroke="none" stroke-width="1" />
<rect x="759.5" y="158.58" width="3.3" height="1.4" fill="#f4f4f4" stroke="none" stroke-width="1" />
<rect x="700.3" y="195.5" width="5.7" height="10.6" fill="#d2d2d2" stroke="#4e4e4e" stroke-width="0.9" />
<rect x="701.5" y="197.1" width="3.3" height="1.4" fill="#f4f4f4" stroke="none" stroke-width="1" />
<rect x="701.5" y="199.9" width="3.3" height="1.4" fill="#f4f4f4" stroke="none" stroke-width="1" />
<rect x="701.5" y="202.7" width="3.3" height="1.4" fill="#f4f4f4" stroke="none" stroke-width="1" />
<rect x="758.3" y="195.5" width="5.7" height="10.6" fill="#d2d2d2" stroke="#4e4e4e" stroke-width="0.9" />
<rect x="759.5" y="197.1" width="3.3" height="1.4" fill="#f4f4f4" stroke="none" stroke-width="1" />
<rect x="759.5" y="199.9" width="3.3" height="1.4" fill="#f4f4f4" stroke="none" stroke-width="1" />
<rect x="759.5" y="202.7" width="3.3" height="1.4" fill="#f4f4f4" stroke="none" stroke-width="1" />
<rect x="700.3" y="230" width="5.7" height="10.6" fill="#d2d2d2" stroke="#4e4e4e" stroke-width="0.9" />
<rect x="701.5" y="231.6" width="3.3" height="1.4" fill="#f4f4f4" stroke="none" stroke-width="1" />
<rect x="701.5" y="234.4" width="3.3" height="1.4" fill="#f4f4f4" stroke="none" stroke-width="1" />
<rect x="701.5" y="237.2" width="3.3" height="1.4" fill="#f4f4f4" stroke="none" stroke-width="1" />
<rect x="758.3" y="230" width="5.7" height="10.6" fill="#d2d2d2" stroke="#4e4e4e" stroke-width="0.9" />
<rect x="759.5" y="231.6" width="3.3" height="1.4" fill="#f4f4f4" stroke="none" stroke-width="1" />
<rect x="759.5" y="234.4" width="3.3" height="1.4" fill="#f4f4f4" stroke="none" stroke-width="1" />
<rect x="759.5" y="237.2" width="3.3" height="1.4" fill="#f4f4f4" stroke="none" stroke-width="1" />
<rect x="700.3" y="264.15" width="5.7" height="10.6" fill="#d2d2d2" stroke="#4e4e4e" stroke-width="0.9" />
<rect x="701.5" y="265.75" width="3.3" height="1.4" fill="#f4f4f4" stroke="none" stroke-width="1" />
<rect x="701.5" y="268.55" width="3.3" height="1.4" fill="#f4f4f4" stroke="none" stroke-width="1" />
<rect x="701.5" y="271.35" width="3.3" height="1.4" fill="#f4f4f4" stroke="none" stroke-width="1" />
<rect x="758.3" y="264.15" width="5.7" height="10.6" fill="#d2d2d2" stroke="#4e4e4e" stroke-width="0.9" />
<rect x="759.5" y="265.75" width="3.3" height="1.4" fill="#f4f4f4" stroke="none" stroke-width="1" />
<rect x="759.5" y="268.55" width="3.3" height="1.4" fill="#f4f4f4" stroke="none" stroke-width="1" />
<rect x="759.5" y="271.35" width="3.3" height="1.4" fill="#f4f4f4" stroke="none" stroke-width="1" />
<rect x="700.3" y="297.5" width="5.7" height="10.6" fill="#d2d2d2" stroke="#4e4e4e" stroke-width="0.9" />
<rect x="701.5" y="299.1" width="3.3" height="1.4" fill="#f4f4f4" stroke="none" stroke-width="1" />
<rect x="701.5" y="301.9" width="3.3" height="1.4" fill="#f4f4f4" stroke="none" stroke-width="1" />
<rect x="701.5" y="304.7" width="3.3" height="1.4" fill="#f4f4f4" stroke="none" stroke-width="1" />
<rect x="758.3" y="297.5" width="5.7" height="10.6" fill="#d2d2d2" stroke="#4e4e4e" stroke-width="0.9" />
<rect x="759.5" y="299.1" width="3.3" height="1.4" fill="#f4f4f4" stroke="none" stroke-width="1" />
<rect x="759.5" y="301.9" width="3.3" height="1.4" fill="#f4f4f4" stroke="none" stroke-width="1" />
<rect x="759.5" y="304.7" width="3.3" height="1.4" fill="#f4f4f4" stroke="none" stroke-width="1" />
<rect x="700.3" y="336.22" width="5.7" height="10.6" fill="#d2d2d2" stroke="#4e4e4e" stroke-width="0.9" />
<rect x="701.5" y="337.82" width="3.3" height="1.4" fill="#f4f4f4" stroke="none" stroke-width="1" />
<rect x="701.5" y="340.62" width="3.3" height="1.4" fill="#f4f4f4" stroke="none" stroke-width="1" />
<rect x="701.5" y="343.42" width="3.3" height="1.4" fill="#f4f4f4" stroke="none" stroke-width="1" />
<rect x="758.3" y="336.02" width="5.7" height="10.6" fill="#d2d2d2" stroke="#4e4e4e" stroke-width="0.9" />
<rect x="759.5" y="337.62" width="3.3" height="1.4" fill="#f4f4f4" stroke="none" stroke-width="1" />
<rect x="759.5" y="340.42" width="3.3" height="1.4" fill="#f4f4f4" stroke="none" stroke-width="1" />
<rect x="759.5" y="343.22" width="3.3" height="1.4" fill="#f4f4f4" stroke="none" stroke-width="1" />
<rect x="700.3" y="375.34" width="5.7" height="10.6" fill="#d2d2d2" stroke="#4e4e4e" stroke-width="0.9" />
<rect x="701.5" y="376.94" width="3.3" height="1.4" fill="#f4f4f4" stroke="none" stroke-width="1" />
<rect x="701.5" y="379.74" width="3.3" height="1.4" fill="#f4f4f4" stroke="none" stroke-width="1" />
<rect x="701.5" y="382.54" width="3.3" height="1.4" fill="#f4f4f4" stroke="none" stroke-width="1" />
<rect x="758.3" y="374.94" width="5.7" height="10.6" fill="#d2d2d2" stroke="#4e4e4e" stroke-width="0.9" />
<rect x="759.5" y="376.54" width="3.3" height="1.4" fill="#f4f4f4" stroke="none" stroke-width="1" />
<rect x="759.5" y="379.34" width="3.3" height="1.4" fill="#f4f4f4" stroke="none" stroke-width="1" />
<rect x="759.5" y="382.14" width="3.3" height="1.4" fill="#f4f4f4" stroke="none" stroke-width="1" />
<rect x="700.3" y="409.34" width="5.7" height="10.6" fill="#d2d2d2" stroke="#4e4e4e" stroke-width="0.9" />
<rect x="701.5" y="410.94" width="3.3" height="1.4" fill="#f4f4f4" stroke="none" stroke-width="1" />
<rect x="701.5" y="413.74" width="3.3" height="1.4" fill="#f4f4f4" stroke="none" stroke-width="1" />
<rect x="701.5" y="416.54" width="3.3" height="1.4" fill="#f4f4f4" stroke="none" stroke-width="1" />
<rect x="758.3" y="408.94" width="5.7" height="10.6" fill="#d2d2d2" stroke="#4e4e4e" stroke-width="0.9" />
<rect x="759.5" y="410.54" width="3.3" height="1.4" fill="#f4f4f4" stroke="none" stroke-width="1" />
<rect x="759.5" y="413.34" width="3.3" height="1.4" fill="#f4f4f4" stroke="none" stroke-width="1" />
<rect x="759.5" y="416.14" width="3.3" height="1.4" fill="#f4f4f4" stroke="none" stroke-width="1" />
<rect x="700.3" y="443.34" width="5.7" height="10.6" fill="#d2d2d2" stroke="#4e4e4e" stroke-width="0.9" />
<rect x="701.5" y="444.94" width="3.3" height="1.4" fill="#f4f4f4" stroke="none" stroke-width="1" />
<rect x="701.5" y="447.74" width="3.3" height="1.4" fill="#f4f4f4" stroke="none" stroke-width="1" />
<rect x="701.5" y="450.54" width="3.3" height="1.4" fill="#f4f4f4" stroke="none" stroke-width="1" />
<rect x="758.3" y="442.94" width="5.7" height="10.6" fill="#d2d2d2" stroke="#4e4e4e" stroke-width="0.9" />
<rect x="759.5" y="444.54" width="3.3" height="1.4" fill="#f4f4f4" stroke="none" stroke-width="1" />
<rect x="759.5" y="447.34" width="3.3" height="1.4" fill="#f4f4f4" stroke="none" stroke-width="1" />
<rect x="759.5" y="450.14" width="3.3" height="1.4" fill="#f4f4f4" stroke="none" stroke-width="1" />
<rect x="700.3" y="477.34" width="5.7" height="10.6" fill="#d2d2d2" stroke="#4e4e4e" stroke-width="0.9" />
<rect x="701.5" y="478.94" width="3.3" height="1.4" fill="#f4f4f4" stroke="none" stroke-width="1" />
<rect x="701.5" y="481.74" width="3.3" height="1.4" fill="#f4f4f4" stroke="none" stroke-width="1" />
<rect x="701.5" y="484.54" width="3.3" height="1.4" fill="#f4f4f4" stroke="none" stroke-width="1" />
<rect x="758.3" y="476.94" width="5.7" height="10.6" fill="#d2d2d2" stroke="#4e4e4e" stroke-width="0.9" />
<rect x="759.5" y="478.54" width="3.3" height="1.4" fill="#f4f4f4" stroke="none" stroke-width="1" />
<rect x="759.5" y="481.34" width="3.3" height="1.4" fill="#f4f4f4" stroke="none" stroke-width="1" />
<rect x="759.5" y="484.14" width="3.3" height="1.4" fill="#f4f4f4" stroke="none" stroke-width="1" />
<rect x="700.3" y="511.34" width="5.7" height="10.6" fill="#d2d2d2" stroke="#4e4e4e" stroke-width="0.9" />
<rect x="701.5" y="512.94" width="3.3" height="1.4" fill="#f4f4f4" stroke="none" stroke-width="1" />
<rect x="701.5" y="515.74" width="3.3" height="1.4" fill="#f4f4f4" stroke="none" stroke-width="1" />
<rect x="701.5" y="518.54" width="3.3" height="1.4" fill="#f4f4f4" stroke="none" stroke-width="1" />
<rect x="758.3" y="510.94" width="5.7" height="10.6" fill="#d2d2d2" stroke="#4e4e4e" stroke-width="0.9" />
<rect x="759.5" y="512.54" width="3.3" height="1.4" fill="#f4f4f4" stroke="none" stroke-width="1" />
<rect x="759.5" y="515.34" width="3.3" height="1.4" fill="#f4f4f4" stroke="none" stroke-width="1" />
<rect x="759.5" y="518.14" width="3.3" height="1.4" fill="#f4f4f4" stroke="none" stroke-width="1" />
<circle cx="54.05" cy="215.7" r="11.7" fill="none" stroke="#e4efdf" stroke-width="1.2"/>
<rect x="48.4" y="207" width="11.3" height="17.4" fill="none" stroke="#62845c" stroke-width="0.9" />
<circle cx="143.35" cy="216.35" r="11.65" fill="none" stroke="#e4efdf" stroke-width="1.2"/>
<rect x="137.7" y="207.7" width="11.3" height="17.3" fill="none" stroke="#62845c" stroke-width="0.9" />
<circle cx="297.5" cy="214.65" r="11.65" fill="none" stroke="#e4efdf" stroke-width="1.2"/>
<rect x="292" y="206" width="11" height="17.3" fill="none" stroke="#62845c" stroke-width="0.9" />
<circle cx="449" cy="214.95" r="11.65" fill="none" stroke="#e4efdf" stroke-width="1.2"/>
<rect x="443.4" y="206.3" width="11.2" height="17.3" fill="none" stroke="#62845c" stroke-width="0.9" />
<circle cx="604.3" cy="214.95" r="11.65" fill="none" stroke="#e4efdf" stroke-width="1.2"/>
<rect x="598.6" y="206.3" width="11.4" height="17.3" fill="none" stroke="#62845c" stroke-width="0.9" />
<circle cx="46.75" cy="470.3" r="11.3" fill="none" stroke="#e4efdf" stroke-width="1.2"/>
<rect x="41.6" y="462" width="10.3" height="16.6" fill="none" stroke="#62845c" stroke-width="0.9" />
<circle cx="145.4" cy="469.5" r="12" fill="none" stroke="#e4efdf" stroke-width="1.2"/>
<rect x="139.4" y="460.5" width="12" height="18" fill="none" stroke="#62845c" stroke-width="0.9" />
<circle cx="300.1" cy="469.8" r="11.8" fill="none" stroke="#e4efdf" stroke-width="1.2"/>
<rect x="294.4" y="461" width="11.4" height="17.6" fill="none" stroke="#62845c" stroke-width="0.9" />
<circle cx="453.3" cy="469.25" r="11.75" fill="none" stroke="#e4efdf" stroke-width="1.2"/>
<rect x="447.3" y="460.5" width="12" height="17.5" fill="none" stroke="#62845c" stroke-width="0.9" />
<circle cx="606.3" cy="466.5" r="10.5" fill="none" stroke="#e4efdf" stroke-width="1.2"/>
<rect x="600.3" y="459" width="12" height="15" fill="none" stroke="#62845c" stroke-width="0.9" />
<circle cx="717.75" cy="322.75" r="10.75" fill="none" stroke="#e4efdf" stroke-width="1.2"/>
<rect x="712" y="315" width="11.5" height="15.5" fill="none" stroke="#62845c" stroke-width="0.9" />
<line x1="7.2" y1="184" x2="7.2" y2="287" stroke="#4f8a3e" stroke-width="3.8" />
<line x1="7.2" y1="184.5" x2="7.2" y2="286.5" stroke="#7bb663" stroke-width="1.6" />
<line x1="7.2" y1="403" x2="7.2" y2="506" stroke="#4f8a3e" stroke-width="3.8" />
<line x1="7.2" y1="403.5" x2="7.2" y2="505.5" stroke="#7bb663" stroke-width="1.6" />
<line x1="78.8" y1="182" x2="78.8" y2="285" stroke="#4f8a3e" stroke-width="3.8" />
<line x1="78.8" y1="182.5" x2="78.8" y2="284.5" stroke="#7bb663" stroke-width="1.6" />
<line x1="78.8" y1="409" x2="78.8" y2="512" stroke="#4f8a3e" stroke-width="3.8" />
<line x1="78.8" y1="409.5" x2="78.8" y2="511.5" stroke="#7bb663" stroke-width="1.6" />
<line x1="223.2" y1="171" x2="223.2" y2="276" stroke="#4f8a3e" stroke-width="3.8" />
<line x1="223.2" y1="171.5" x2="223.2" y2="275.5" stroke="#7bb663" stroke-width="1.6" />
<line x1="223.2" y1="409" x2="223.2" y2="512" stroke="#4f8a3e" stroke-width="3.8" />
<line x1="223.2" y1="409.5" x2="223.2" y2="511.5" stroke="#7bb663" stroke-width="1.6" />
<line x1="375.8" y1="161.5" x2="375.8" y2="266" stroke="#4f8a3e" stroke-width="3.8" />
<line x1="375.8" y1="162" x2="375.8" y2="265.5" stroke="#7bb663" stroke-width="1.6" />
<line x1="375.8" y1="407.7" x2="375.8" y2="511.7" stroke="#4f8a3e" stroke-width="3.8" />
<line x1="375.8" y1="408.2" x2="375.8" y2="511.2" stroke="#7bb663" stroke-width="1.6" />
<line x1="529.5" y1="160.7" x2="529.5" y2="265" stroke="#4f8a3e" stroke-width="3.8" />
<line x1="529.5" y1="161.2" x2="529.5" y2="264.5" stroke="#7bb663" stroke-width="1.6" />
<line x1="529.5" y1="406" x2="529.5" y2="511" stroke="#4f8a3e" stroke-width="3.8" />
<line x1="529.5" y1="406.5" x2="529.5" y2="510.5" stroke="#7bb663" stroke-width="1.6" />
<line x1="682.5" y1="168" x2="682.5" y2="271.5" stroke="#4f8a3e" stroke-width="3.8" />
<line x1="682.5" y1="168.5" x2="682.5" y2="271" stroke="#7bb663" stroke-width="1.6" />
<line x1="682.5" y1="406.8" x2="682.5" y2="510.2" stroke="#4f8a3e" stroke-width="3.8" />
<line x1="682.5" y1="407.3" x2="682.5" y2="509.7" stroke="#7bb663" stroke-width="1.6" />
<rect x="2.4" y="144.6" width="9.5" height="4.8" fill="#414446" stroke="#26282a" stroke-width="0.8" />
<line x1="3.9" y1="147" x2="10.4" y2="147" stroke="#6c6f71" stroke-width="0.9" />
<rect x="73.8" y="159.4" width="8.7" height="4.3" fill="#414446" stroke="#26282a" stroke-width="0.8" />
<line x1="75.3" y1="161.55" x2="81" y2="161.55" stroke="#6c6f71" stroke-width="0.9" />
<rect x="218.3" y="165" width="10" height="5.2" fill="#414446" stroke="#26282a" stroke-width="0.8" />
<line x1="219.8" y1="167.6" x2="226.8" y2="167.6" stroke="#6c6f71" stroke-width="0.9" />
<rect x="371.5" y="153.2" width="9.7" height="4.9" fill="#414446" stroke="#26282a" stroke-width="0.8" />
<line x1="373" y1="155.65" x2="379.7" y2="155.65" stroke="#6c6f71" stroke-width="0.9" />
<rect x="525.5" y="153.5" width="9.5" height="5.2" fill="#414446" stroke="#26282a" stroke-width="0.8" />
<line x1="527" y1="156.1" x2="533.5" y2="156.1" stroke="#6c6f71" stroke-width="0.9" />
<rect x="678" y="159" width="9" height="5" fill="#414446" stroke="#26282a" stroke-width="0.8" />
<line x1="679.5" y1="161.5" x2="685.5" y2="161.5" stroke="#6c6f71" stroke-width="0.9" />
<rect x="217" y="211.2" width="5.6" height="22.3" fill="#56595b" stroke="#222426" stroke-width="1.0" />
<line x1="219.8" y1="213.2" x2="219.8" y2="214.7" stroke="#8a8d8f" stroke-width="0.8" />
<line x1="219.8" y1="217.2" x2="219.8" y2="218.7" stroke="#8a8d8f" stroke-width="0.8" />
<line x1="219.8" y1="221.2" x2="219.8" y2="222.7" stroke="#8a8d8f" stroke-width="0.8" />
<line x1="219.8" y1="225.2" x2="219.8" y2="226.7" stroke="#8a8d8f" stroke-width="0.8" />
<line x1="219.8" y1="229.2" x2="219.8" y2="230.7" stroke="#8a8d8f" stroke-width="0.8" />
<rect x="369.8" y="200" width="4.7" height="21.7" fill="#56595b" stroke="#222426" stroke-width="1.0" />
<line x1="372.15" y1="202" x2="372.15" y2="203.5" stroke="#8a8d8f" stroke-width="0.8" />
<line x1="372.15" y1="206" x2="372.15" y2="207.5" stroke="#8a8d8f" stroke-width="0.8" />
<line x1="372.15" y1="210" x2="372.15" y2="211.5" stroke="#8a8d8f" stroke-width="0.8" />
<line x1="372.15" y1="214" x2="372.15" y2="215.5" stroke="#8a8d8f" stroke-width="0.8" />
<line x1="372.15" y1="218" x2="372.15" y2="219.5" stroke="#8a8d8f" stroke-width="0.8" />
<rect x="530.7" y="211" width="4.9" height="23" fill="#56595b" stroke="#222426" stroke-width="1.0" />
<line x1="533.15" y1="213" x2="533.15" y2="214.5" stroke="#8a8d8f" stroke-width="0.8" />
<line x1="533.15" y1="217" x2="533.15" y2="218.5" stroke="#8a8d8f" stroke-width="0.8" />
<line x1="533.15" y1="221" x2="533.15" y2="222.5" stroke="#8a8d8f" stroke-width="0.8" />
<line x1="533.15" y1="225" x2="533.15" y2="226.5" stroke="#8a8d8f" stroke-width="0.8" />
<line x1="533.15" y1="229" x2="533.15" y2="230.5" stroke="#8a8d8f" stroke-width="0.8" />
<rect x="676.8" y="221" width="3.9" height="19.5" fill="#56595b" stroke="#222426" stroke-width="1.0" />
<line x1="678.75" y1="223" x2="678.75" y2="224.5" stroke="#8a8d8f" stroke-width="0.8" />
<line x1="678.75" y1="227" x2="678.75" y2="228.5" stroke="#8a8d8f" stroke-width="0.8" />
<line x1="678.75" y1="231" x2="678.75" y2="232.5" stroke="#8a8d8f" stroke-width="0.8" />
<line x1="678.75" y1="235" x2="678.75" y2="236.5" stroke="#8a8d8f" stroke-width="0.8" />
<rect x="73" y="204.5" width="3.7" height="17.5" fill="#56595b" stroke="#222426" stroke-width="1.0" />
<line x1="74.85" y1="206.5" x2="74.85" y2="208" stroke="#8a8d8f" stroke-width="0.8" />
<line x1="74.85" y1="210.5" x2="74.85" y2="212" stroke="#8a8d8f" stroke-width="0.8" />
<line x1="74.85" y1="214.5" x2="74.85" y2="216" stroke="#8a8d8f" stroke-width="0.8" />
<line x1="74.85" y1="218.5" x2="74.85" y2="220" stroke="#8a8d8f" stroke-width="0.8" />
<rect x="370" y="451.4" width="4.5" height="21" fill="#56595b" stroke="#222426" stroke-width="1.0" />
<line x1="372.25" y1="453.4" x2="372.25" y2="454.9" stroke="#8a8d8f" stroke-width="0.8" />
<line x1="372.25" y1="457.4" x2="372.25" y2="458.9" stroke="#8a8d8f" stroke-width="0.8" />
<line x1="372.25" y1="461.4" x2="372.25" y2="462.9" stroke="#8a8d8f" stroke-width="0.8" />
<line x1="372.25" y1="465.4" x2="372.25" y2="466.9" stroke="#8a8d8f" stroke-width="0.8" />
<line x1="372.25" y1="469.4" x2="372.25" y2="470.9" stroke="#8a8d8f" stroke-width="0.8" />
<rect x="522" y="450" width="5" height="21" fill="#56595b" stroke="#222426" stroke-width="1.0" />
<line x1="524.5" y1="452" x2="524.5" y2="453.5" stroke="#8a8d8f" stroke-width="0.8" />
<line x1="524.5" y1="456" x2="524.5" y2="457.5" stroke="#8a8d8f" stroke-width="0.8" />
<line x1="524.5" y1="460" x2="524.5" y2="461.5" stroke="#8a8d8f" stroke-width="0.8" />
<line x1="524.5" y1="464" x2="524.5" y2="465.5" stroke="#8a8d8f" stroke-width="0.8" />
<line x1="524.5" y1="468" x2="524.5" y2="469.5" stroke="#8a8d8f" stroke-width="0.8" />
<rect x="675.6" y="440.3" width="4.4" height="21.7" fill="#56595b" stroke="#222426" stroke-width="1.0" />
<line x1="677.8" y1="442.3" x2="677.8" y2="443.8" stroke="#8a8d8f" stroke-width="0.8" />
<line x1="677.8" y1="446.3" x2="677.8" y2="447.8" stroke="#8a8d8f" stroke-width="0.8" />
<line x1="677.8" y1="450.3" x2="677.8" y2="451.8" stroke="#8a8d8f" stroke-width="0.8" />
<line x1="677.8" y1="454.3" x2="677.8" y2="455.8" stroke="#8a8d8f" stroke-width="0.8" />
<line x1="677.8" y1="458.3" x2="677.8" y2="459.8" stroke="#8a8d8f" stroke-width="0.8" />
<rect x="217.2" y="451.4" width="4.6" height="22.6" fill="#56595b" stroke="#222426" stroke-width="1.0" />
<line x1="219.5" y1="453.4" x2="219.5" y2="454.9" stroke="#8a8d8f" stroke-width="0.8" />
<line x1="219.5" y1="457.4" x2="219.5" y2="458.9" stroke="#8a8d8f" stroke-width="0.8" />
<line x1="219.5" y1="461.4" x2="219.5" y2="462.9" stroke="#8a8d8f" stroke-width="0.8" />
<line x1="219.5" y1="465.4" x2="219.5" y2="466.9" stroke="#8a8d8f" stroke-width="0.8" />
<line x1="219.5" y1="469.4" x2="219.5" y2="470.9" stroke="#8a8d8f" stroke-width="0.8" />
<rect x="73.5" y="315" width="9.5" height="5" fill="#414446" stroke="#26282a" stroke-width="0.8" />
<line x1="75" y1="317.5" x2="81.5" y2="317.5" stroke="#6c6f71" stroke-width="0.9" />
<rect x="73.3" y="365" width="9.7" height="5.5" fill="#414446" stroke="#26282a" stroke-width="0.8" />
<line x1="74.8" y1="367.75" x2="81.5" y2="367.75" stroke="#6c6f71" stroke-width="0.9" />
<rect x="218.5" y="324" width="10.2" height="4.9" fill="#414446" stroke="#26282a" stroke-width="0.8" />
<line x1="220" y1="326.45" x2="227.2" y2="326.45" stroke="#6c6f71" stroke-width="0.9" />
<rect x="217.2" y="361.4" width="9.2" height="5.1" fill="#414446" stroke="#26282a" stroke-width="0.8" />
<line x1="218.7" y1="363.95" x2="224.9" y2="363.95" stroke="#6c6f71" stroke-width="0.9" />
<rect x="371" y="322.5" width="10" height="5" fill="#414446" stroke="#26282a" stroke-width="0.8" />
<line x1="372.5" y1="325" x2="379.5" y2="325" stroke="#6c6f71" stroke-width="0.9" />
<rect x="370.5" y="361" width="9.5" height="5" fill="#414446" stroke="#26282a" stroke-width="0.8" />
<line x1="372" y1="363.5" x2="378.5" y2="363.5" stroke="#6c6f71" stroke-width="0.9" />
<rect x="525" y="322" width="10" height="5" fill="#414446" stroke="#26282a" stroke-width="0.8" />
<line x1="526.5" y1="324.5" x2="533.5" y2="324.5" stroke="#6c6f71" stroke-width="0.9" />
<rect x="524" y="360.5" width="9.5" height="5" fill="#414446" stroke="#26282a" stroke-width="0.8" />
<line x1="525.5" y1="363" x2="532" y2="363" stroke="#6c6f71" stroke-width="0.9" />
<rect x="679" y="322" width="9.5" height="5" fill="#414446" stroke="#26282a" stroke-width="0.8" />
<line x1="680.5" y1="324.5" x2="687" y2="324.5" stroke="#6c6f71" stroke-width="0.9" />
<rect x="678" y="360" width="9.5" height="5" fill="#414446" stroke="#26282a" stroke-width="0.8" />
<line x1="679.5" y1="362.5" x2="686" y2="362.5" stroke="#6c6f71" stroke-width="0.9" />
<rect x="374" y="533" width="9" height="4" fill="#414446" stroke="#26282a" stroke-width="0.8" />
<line x1="375.5" y1="535" x2="381.5" y2="535" stroke="#6c6f71" stroke-width="0.9" />
<rect x="527" y="532" width="9" height="4" fill="#414446" stroke="#26282a" stroke-width="0.8" />
<line x1="528.5" y1="534" x2="534.5" y2="534" stroke="#6c6f71" stroke-width="0.9" />
<rect x="681" y="530.5" width="9" height="4" fill="#414446" stroke="#26282a" stroke-width="0.8" />
<line x1="682.5" y1="532.5" x2="688.5" y2="532.5" stroke="#6c6f71" stroke-width="0.9" />
<rect x="220" y="534" width="9" height="4" fill="#414446" stroke="#26282a" stroke-width="0.8" />
<line x1="221.5" y1="536" x2="227.5" y2="536" stroke="#6c6f71" stroke-width="0.9" />
<rect x="0" y="337.4" width="11.4" height="6.2" fill="#414446" stroke="#26282a" stroke-width="0.8" />
<line x1="1.5" y1="340.5" x2="9.9" y2="340.5" stroke="#6c6f71" stroke-width="0.9" />
<rect x="72" y="340" width="5.9" height="10.7" fill="#56595b" stroke="#222426" stroke-width="1.0" />
<line x1="74.95" y1="342" x2="74.95" y2="343.5" stroke="#8a8d8f" stroke-width="0.8" />
<line x1="74.95" y1="346" x2="74.95" y2="347.5" stroke="#8a8d8f" stroke-width="0.8" />
<rect x="80" y="340" width="5.7" height="10.7" fill="#56595b" stroke="#222426" stroke-width="1.0" />
<line x1="82.85" y1="342" x2="82.85" y2="343.5" stroke="#8a8d8f" stroke-width="0.8" />
<line x1="82.85" y1="346" x2="82.85" y2="347.5" stroke="#8a8d8f" stroke-width="0.8" />
<rect x="201.3" y="336" width="6.1" height="11" fill="#56595b" stroke="#222426" stroke-width="1.0" />
<line x1="204.35" y1="338" x2="204.35" y2="339.5" stroke="#8a8d8f" stroke-width="0.8" />
<line x1="204.35" y1="342" x2="204.35" y2="343.5" stroke="#8a8d8f" stroke-width="0.8" />
<rect x="236" y="336" width="5.8" height="10.8" fill="#56595b" stroke="#222426" stroke-width="1.0" />
<line x1="238.9" y1="338" x2="238.9" y2="339.5" stroke="#8a8d8f" stroke-width="0.8" />
<line x1="238.9" y1="342" x2="238.9" y2="343.5" stroke="#8a8d8f" stroke-width="0.8" />
<rect x="354.5" y="335" width="5.5" height="11" fill="#56595b" stroke="#222426" stroke-width="1.0" />
<line x1="357.25" y1="337" x2="357.25" y2="338.5" stroke="#8a8d8f" stroke-width="0.8" />
<line x1="357.25" y1="341" x2="357.25" y2="342.5" stroke="#8a8d8f" stroke-width="0.8" />
<rect x="389" y="334" width="5.5" height="11" fill="#56595b" stroke="#222426" stroke-width="1.0" />
<line x1="391.75" y1="336" x2="391.75" y2="337.5" stroke="#8a8d8f" stroke-width="0.8" />
<line x1="391.75" y1="340" x2="391.75" y2="341.5" stroke="#8a8d8f" stroke-width="0.8" />
<rect x="507.5" y="334" width="5.5" height="11" fill="#56595b" stroke="#222426" stroke-width="1.0" />
<line x1="510.25" y1="336" x2="510.25" y2="337.5" stroke="#8a8d8f" stroke-width="0.8" />
<line x1="510.25" y1="340" x2="510.25" y2="341.5" stroke="#8a8d8f" stroke-width="0.8" />
<rect x="542.5" y="333" width="5.5" height="11" fill="#56595b" stroke="#222426" stroke-width="1.0" />
<line x1="545.25" y1="335" x2="545.25" y2="336.5" stroke="#8a8d8f" stroke-width="0.8" />
<line x1="545.25" y1="339" x2="545.25" y2="340.5" stroke="#8a8d8f" stroke-width="0.8" />
<rect x="660.5" y="333" width="5.5" height="11" fill="#56595b" stroke="#222426" stroke-width="1.0" />
<line x1="663.25" y1="335" x2="663.25" y2="336.5" stroke="#8a8d8f" stroke-width="0.8" />
<line x1="663.25" y1="339" x2="663.25" y2="340.5" stroke="#8a8d8f" stroke-width="0.8" />
<line x1="209.48" y1="300.43" x2="209.48" y2="313.43" stroke="#e8e8e8" stroke-width="1.381818181818182" />
<line x1="212.25" y1="300.43" x2="212.25" y2="313.43" stroke="#e8e8e8" stroke-width="1.381818181818182" />
<line x1="215.01" y1="300.43" x2="215.01" y2="313.43" stroke="#e8e8e8" stroke-width="1.381818181818182" />
<line x1="217.77" y1="300.43" x2="217.77" y2="313.43" stroke="#e8e8e8" stroke-width="1.381818181818182" />
<line x1="220.54" y1="300.43" x2="220.54" y2="313.43" stroke="#e8e8e8" stroke-width="1.381818181818182" />
<line x1="223.3" y1="300.43" x2="223.3" y2="313.43" stroke="#e8e8e8" stroke-width="1.381818181818182" />
<line x1="226.06" y1="300.43" x2="226.06" y2="313.43" stroke="#e8e8e8" stroke-width="1.381818181818182" />
<line x1="228.83" y1="300.43" x2="228.83" y2="313.43" stroke="#e8e8e8" stroke-width="1.381818181818182" />
<line x1="231.59" y1="300.43" x2="231.59" y2="313.43" stroke="#e8e8e8" stroke-width="1.381818181818182" />
<line x1="234.35" y1="300.43" x2="234.35" y2="313.43" stroke="#e8e8e8" stroke-width="1.381818181818182" />
<line x1="237.12" y1="300.43" x2="237.12" y2="313.43" stroke="#e8e8e8" stroke-width="1.381818181818182" />
<line x1="208.6" y1="314.73" x2="238" y2="314.73" stroke="#f0f0f0" stroke-width="1.4" />
<line x1="209.48" y1="369.98" x2="209.48" y2="381.48" stroke="#e8e8e8" stroke-width="1.381818181818182" />
<line x1="212.25" y1="369.98" x2="212.25" y2="381.48" stroke="#e8e8e8" stroke-width="1.381818181818182" />
<line x1="215.01" y1="369.98" x2="215.01" y2="381.48" stroke="#e8e8e8" stroke-width="1.381818181818182" />
<line x1="217.77" y1="369.98" x2="217.77" y2="381.48" stroke="#e8e8e8" stroke-width="1.381818181818182" />
<line x1="220.54" y1="369.98" x2="220.54" y2="381.48" stroke="#e8e8e8" stroke-width="1.381818181818182" />
<line x1="223.3" y1="369.98" x2="223.3" y2="381.48" stroke="#e8e8e8" stroke-width="1.381818181818182" />
<line x1="226.06" y1="369.98" x2="226.06" y2="381.48" stroke="#e8e8e8" stroke-width="1.381818181818182" />
<line x1="228.83" y1="369.98" x2="228.83" y2="381.48" stroke="#e8e8e8" stroke-width="1.381818181818182" />
<line x1="231.59" y1="369.98" x2="231.59" y2="381.48" stroke="#e8e8e8" stroke-width="1.381818181818182" />
<line x1="234.35" y1="369.98" x2="234.35" y2="381.48" stroke="#e8e8e8" stroke-width="1.381818181818182" />
<line x1="237.12" y1="369.98" x2="237.12" y2="381.48" stroke="#e8e8e8" stroke-width="1.381818181818182" />
<line x1="208.6" y1="367.68" x2="238" y2="367.68" stroke="#f0f0f0" stroke-width="1.4" />
<line x1="362.51" y1="299.69" x2="362.51" y2="312.69" stroke="#e8e8e8" stroke-width="1.4090909090909092" />
<line x1="365.33" y1="299.69" x2="365.33" y2="312.69" stroke="#e8e8e8" stroke-width="1.4090909090909092" />
<line x1="368.15" y1="299.69" x2="368.15" y2="312.69" stroke="#e8e8e8" stroke-width="1.4090909090909092" />
<line x1="370.96" y1="299.69" x2="370.96" y2="312.69" stroke="#e8e8e8" stroke-width="1.4090909090909092" />
<line x1="373.78" y1="299.69" x2="373.78" y2="312.69" stroke="#e8e8e8" stroke-width="1.4090909090909092" />
<line x1="376.6" y1="299.69" x2="376.6" y2="312.69" stroke="#e8e8e8" stroke-width="1.4090909090909092" />
<line x1="379.42" y1="299.69" x2="379.42" y2="312.69" stroke="#e8e8e8" stroke-width="1.4090909090909092" />
<line x1="382.24" y1="299.69" x2="382.24" y2="312.69" stroke="#e8e8e8" stroke-width="1.4090909090909092" />
<line x1="385.05" y1="299.69" x2="385.05" y2="312.69" stroke="#e8e8e8" stroke-width="1.4090909090909092" />
<line x1="387.87" y1="299.69" x2="387.87" y2="312.69" stroke="#e8e8e8" stroke-width="1.4090909090909092" />
<line x1="390.69" y1="299.69" x2="390.69" y2="312.69" stroke="#e8e8e8" stroke-width="1.4090909090909092" />
<line x1="361.6" y1="313.99" x2="391.6" y2="313.99" stroke="#f0f0f0" stroke-width="1.4" />
<line x1="362.51" y1="368.94" x2="362.51" y2="380.44" stroke="#e8e8e8" stroke-width="1.4090909090909092" />
<line x1="365.33" y1="368.94" x2="365.33" y2="380.44" stroke="#e8e8e8" stroke-width="1.4090909090909092" />
<line x1="368.15" y1="368.94" x2="368.15" y2="380.44" stroke="#e8e8e8" stroke-width="1.4090909090909092" />
<line x1="370.96" y1="368.94" x2="370.96" y2="380.44" stroke="#e8e8e8" stroke-width="1.4090909090909092" />
<line x1="373.78" y1="368.94" x2="373.78" y2="380.44" stroke="#e8e8e8" stroke-width="1.4090909090909092" />
<line x1="376.6" y1="368.94" x2="376.6" y2="380.44" stroke="#e8e8e8" stroke-width="1.4090909090909092" />
<line x1="379.42" y1="368.94" x2="379.42" y2="380.44" stroke="#e8e8e8" stroke-width="1.4090909090909092" />
<line x1="382.24" y1="368.94" x2="382.24" y2="380.44" stroke="#e8e8e8" stroke-width="1.4090909090909092" />
<line x1="385.05" y1="368.94" x2="385.05" y2="380.44" stroke="#e8e8e8" stroke-width="1.4090909090909092" />
<line x1="387.87" y1="368.94" x2="387.87" y2="380.44" stroke="#e8e8e8" stroke-width="1.4090909090909092" />
<line x1="390.69" y1="368.94" x2="390.69" y2="380.44" stroke="#e8e8e8" stroke-width="1.4090909090909092" />
<line x1="361.6" y1="366.64" x2="391.6" y2="366.64" stroke="#f0f0f0" stroke-width="1.4" />
<line x1="515.71" y1="298.96" x2="515.71" y2="311.96" stroke="#e8e8e8" stroke-width="1.4090909090909092" />
<line x1="518.53" y1="298.96" x2="518.53" y2="311.96" stroke="#e8e8e8" stroke-width="1.4090909090909092" />
<line x1="521.35" y1="298.96" x2="521.35" y2="311.96" stroke="#e8e8e8" stroke-width="1.4090909090909092" />
<line x1="524.16" y1="298.96" x2="524.16" y2="311.96" stroke="#e8e8e8" stroke-width="1.4090909090909092" />
<line x1="526.98" y1="298.96" x2="526.98" y2="311.96" stroke="#e8e8e8" stroke-width="1.4090909090909092" />
<line x1="529.8" y1="298.96" x2="529.8" y2="311.96" stroke="#e8e8e8" stroke-width="1.4090909090909092" />
<line x1="532.62" y1="298.96" x2="532.62" y2="311.96" stroke="#e8e8e8" stroke-width="1.4090909090909092" />
<line x1="535.44" y1="298.96" x2="535.44" y2="311.96" stroke="#e8e8e8" stroke-width="1.4090909090909092" />
<line x1="538.25" y1="298.96" x2="538.25" y2="311.96" stroke="#e8e8e8" stroke-width="1.4090909090909092" />
<line x1="541.07" y1="298.96" x2="541.07" y2="311.96" stroke="#e8e8e8" stroke-width="1.4090909090909092" />
<line x1="543.89" y1="298.96" x2="543.89" y2="311.96" stroke="#e8e8e8" stroke-width="1.4090909090909092" />
<line x1="514.8" y1="313.26" x2="544.8" y2="313.26" stroke="#f0f0f0" stroke-width="1.4" />
<line x1="515.71" y1="367.9" x2="515.71" y2="379.4" stroke="#e8e8e8" stroke-width="1.4090909090909092" />
<line x1="518.53" y1="367.9" x2="518.53" y2="379.4" stroke="#e8e8e8" stroke-width="1.4090909090909092" />
<line x1="521.35" y1="367.9" x2="521.35" y2="379.4" stroke="#e8e8e8" stroke-width="1.4090909090909092" />
<line x1="524.16" y1="367.9" x2="524.16" y2="379.4" stroke="#e8e8e8" stroke-width="1.4090909090909092" />
<line x1="526.98" y1="367.9" x2="526.98" y2="379.4" stroke="#e8e8e8" stroke-width="1.4090909090909092" />
<line x1="529.8" y1="367.9" x2="529.8" y2="379.4" stroke="#e8e8e8" stroke-width="1.4090909090909092" />
<line x1="532.62" y1="367.9" x2="532.62" y2="379.4" stroke="#e8e8e8" stroke-width="1.4090909090909092" />
<line x1="535.44" y1="367.9" x2="535.44" y2="379.4" stroke="#e8e8e8" stroke-width="1.4090909090909092" />
<line x1="538.25" y1="367.9" x2="538.25" y2="379.4" stroke="#e8e8e8" stroke-width="1.4090909090909092" />
<line x1="541.07" y1="367.9" x2="541.07" y2="379.4" stroke="#e8e8e8" stroke-width="1.4090909090909092" />
<line x1="543.89" y1="367.9" x2="543.89" y2="379.4" stroke="#e8e8e8" stroke-width="1.4090909090909092" />
<line x1="514.8" y1="365.6" x2="544.8" y2="365.6" stroke="#f0f0f0" stroke-width="1.4" />
<line x1="668.91" y1="298.22" x2="668.91" y2="311.22" stroke="#e8e8e8" stroke-width="1.4090909090909092" />
<line x1="671.73" y1="298.22" x2="671.73" y2="311.22" stroke="#e8e8e8" stroke-width="1.4090909090909092" />
<line x1="674.55" y1="298.22" x2="674.55" y2="311.22" stroke="#e8e8e8" stroke-width="1.4090909090909092" />
<line x1="677.36" y1="298.22" x2="677.36" y2="311.22" stroke="#e8e8e8" stroke-width="1.4090909090909092" />
<line x1="680.18" y1="298.22" x2="680.18" y2="311.22" stroke="#e8e8e8" stroke-width="1.4090909090909092" />
<line x1="683" y1="298.22" x2="683" y2="311.22" stroke="#e8e8e8" stroke-width="1.4090909090909092" />
<line x1="685.82" y1="298.22" x2="685.82" y2="311.22" stroke="#e8e8e8" stroke-width="1.4090909090909092" />
<line x1="688.64" y1="298.22" x2="688.64" y2="311.22" stroke="#e8e8e8" stroke-width="1.4090909090909092" />
<line x1="691.45" y1="298.22" x2="691.45" y2="311.22" stroke="#e8e8e8" stroke-width="1.4090909090909092" />
<line x1="694.27" y1="298.22" x2="694.27" y2="311.22" stroke="#e8e8e8" stroke-width="1.4090909090909092" />
<line x1="697.09" y1="298.22" x2="697.09" y2="311.22" stroke="#e8e8e8" stroke-width="1.4090909090909092" />
<line x1="668" y1="312.52" x2="698" y2="312.52" stroke="#f0f0f0" stroke-width="1.4" />
<line x1="668.91" y1="366.86" x2="668.91" y2="378.36" stroke="#e8e8e8" stroke-width="1.4090909090909092" />
<line x1="671.73" y1="366.86" x2="671.73" y2="378.36" stroke="#e8e8e8" stroke-width="1.4090909090909092" />
<line x1="674.55" y1="366.86" x2="674.55" y2="378.36" stroke="#e8e8e8" stroke-width="1.4090909090909092" />
<line x1="677.36" y1="366.86" x2="677.36" y2="378.36" stroke="#e8e8e8" stroke-width="1.4090909090909092" />
<line x1="680.18" y1="366.86" x2="680.18" y2="378.36" stroke="#e8e8e8" stroke-width="1.4090909090909092" />
<line x1="683" y1="366.86" x2="683" y2="378.36" stroke="#e8e8e8" stroke-width="1.4090909090909092" />
<line x1="685.82" y1="366.86" x2="685.82" y2="378.36" stroke="#e8e8e8" stroke-width="1.4090909090909092" />
<line x1="688.64" y1="366.86" x2="688.64" y2="378.36" stroke="#e8e8e8" stroke-width="1.4090909090909092" />
<line x1="691.45" y1="366.86" x2="691.45" y2="378.36" stroke="#e8e8e8" stroke-width="1.4090909090909092" />
<line x1="694.27" y1="366.86" x2="694.27" y2="378.36" stroke="#e8e8e8" stroke-width="1.4090909090909092" />
<line x1="697.09" y1="366.86" x2="697.09" y2="378.36" stroke="#e8e8e8" stroke-width="1.4090909090909092" />
<line x1="668" y1="364.56" x2="698" y2="364.56" stroke="#f0f0f0" stroke-width="1.4" />
<line x1="1.72" y1="316" x2="1.72" y2="323.6" stroke="#b9bbbc" stroke-width="1.0" />
<line x1="4.17" y1="316" x2="4.17" y2="323.6" stroke="#b9bbbc" stroke-width="1.0" />
<line x1="6.62" y1="316" x2="6.62" y2="323.6" stroke="#b9bbbc" stroke-width="1.0" />
<line x1="9.07" y1="316" x2="9.07" y2="323.6" stroke="#b9bbbc" stroke-width="1.0" />
<line x1="11.52" y1="316" x2="11.52" y2="323.6" stroke="#b9bbbc" stroke-width="1.0" />
<line x1="13.97" y1="316" x2="13.97" y2="323.6" stroke="#b9bbbc" stroke-width="1.0" />
<line x1="0" y1="324.2" x2="15.7" y2="324.2" stroke="#b9bbbc" stroke-width="0.8" />
<line x1="1.72" y1="370" x2="1.72" y2="375.8" stroke="#b9bbbc" stroke-width="1.0" />
<line x1="4.17" y1="370" x2="4.17" y2="375.8" stroke="#b9bbbc" stroke-width="1.0" />
<line x1="6.62" y1="370" x2="6.62" y2="375.8" stroke="#b9bbbc" stroke-width="1.0" />
<line x1="9.07" y1="370" x2="9.07" y2="375.8" stroke="#b9bbbc" stroke-width="1.0" />
<line x1="11.52" y1="370" x2="11.52" y2="375.8" stroke="#b9bbbc" stroke-width="1.0" />
<line x1="13.97" y1="370" x2="13.97" y2="375.8" stroke="#b9bbbc" stroke-width="1.0" />
<line x1="0" y1="369.4" x2="15.7" y2="369.4" stroke="#b9bbbc" stroke-width="0.8" />
<line x1="72.04" y1="305.7" x2="72.04" y2="312.6" stroke="#b9bbbc" stroke-width="1.0" />
<line x1="74.72" y1="305.7" x2="74.72" y2="312.6" stroke="#b9bbbc" stroke-width="1.0" />
<line x1="77.41" y1="305.7" x2="77.41" y2="312.6" stroke="#b9bbbc" stroke-width="1.0" />
<line x1="80.09" y1="305.7" x2="80.09" y2="312.6" stroke="#b9bbbc" stroke-width="1.0" />
<line x1="82.78" y1="305.7" x2="82.78" y2="312.6" stroke="#b9bbbc" stroke-width="1.0" />
<line x1="85.46" y1="305.7" x2="85.46" y2="312.6" stroke="#b9bbbc" stroke-width="1.0" />
<line x1="70.2" y1="313.2" x2="87.3" y2="313.2" stroke="#b9bbbc" stroke-width="0.8" />
<line x1="72.04" y1="374.3" x2="72.04" y2="380.2" stroke="#b9bbbc" stroke-width="1.0" />
<line x1="74.72" y1="374.3" x2="74.72" y2="380.2" stroke="#b9bbbc" stroke-width="1.0" />
<line x1="77.41" y1="374.3" x2="77.41" y2="380.2" stroke="#b9bbbc" stroke-width="1.0" />
<line x1="80.09" y1="374.3" x2="80.09" y2="380.2" stroke="#b9bbbc" stroke-width="1.0" />
<line x1="82.78" y1="374.3" x2="82.78" y2="380.2" stroke="#b9bbbc" stroke-width="1.0" />
<line x1="85.46" y1="374.3" x2="85.46" y2="380.2" stroke="#b9bbbc" stroke-width="1.0" />
<line x1="70.2" y1="373.7" x2="87.3" y2="373.7" stroke="#b9bbbc" stroke-width="0.8" />
<line x1="50.5" y1="329.2" x2="63.5" y2="329.2" stroke="#ececec" stroke-width="1.2" />
<line x1="50.5" y1="332.4" x2="63.5" y2="332.4" stroke="#ececec" stroke-width="1.2" />
<line x1="50.5" y1="335.6" x2="63.5" y2="335.6" stroke="#ececec" stroke-width="1.2" />
<line x1="50.5" y1="338.8" x2="63.5" y2="338.8" stroke="#ececec" stroke-width="1.2" />
<line x1="50.5" y1="342" x2="63.5" y2="342" stroke="#ececec" stroke-width="1.2" />
<line x1="50.5" y1="345.2" x2="63.5" y2="345.2" stroke="#ececec" stroke-width="1.2" />
<line x1="50.5" y1="348.4" x2="63.5" y2="348.4" stroke="#ececec" stroke-width="1.2" />
<line x1="50.5" y1="351.6" x2="63.5" y2="351.6" stroke="#ececec" stroke-width="1.2" />
<line x1="50.5" y1="354.8" x2="63.5" y2="354.8" stroke="#ececec" stroke-width="1.2" />
<line x1="50.5" y1="358" x2="63.5" y2="358" stroke="#ececec" stroke-width="1.2" />
<line x1="50.5" y1="361.2" x2="63.5" y2="361.2" stroke="#ececec" stroke-width="1.2" />
<line x1="67.9" y1="328.6" x2="67.9" y2="363.6" stroke="#f2f2f2" stroke-width="1.3" />
<line x1="0" y1="346.4" x2="2.7" y2="346.4" stroke="#f0f0f0" stroke-width="1.3" />
<line x1="6" y1="346.4" x2="9" y2="346.4" stroke="#f0f0f0" stroke-width="1.3" />
<line x1="12.5" y1="346.4" x2="15.8" y2="346.4" stroke="#f0f0f0" stroke-width="1.3" />
<line x1="19.3" y1="346.4" x2="22.7" y2="346.4" stroke="#f0f0f0" stroke-width="1.3" />
<line x1="25.8" y1="346.4" x2="30" y2="346.4" stroke="#f0f0f0" stroke-width="1.3" />
<line x1="97.4" y1="323" x2="97.4" y2="361.5" stroke="#2b2d2f" stroke-width="0.9" />
<line x1="97" y1="341.92" x2="197.2" y2="341.5" stroke="#3f8125" stroke-width="6.2" stroke-linecap="round"/>
<ellipse cx="106.4" cy="341.87" rx="4.9" ry="2.7" fill="#a6e070"/>
<ellipse cx="117.2" cy="341.83" rx="4.9" ry="2.7" fill="#a6e070"/>
<ellipse cx="128" cy="341.79" rx="4.9" ry="2.7" fill="#a6e070"/>
<ellipse cx="138.8" cy="341.74" rx="4.9" ry="2.7" fill="#a6e070"/>
<ellipse cx="149.6" cy="341.7" rx="4.9" ry="2.7" fill="#a6e070"/>
<ellipse cx="160.4" cy="341.66" rx="4.9" ry="2.7" fill="#a6e070"/>
<ellipse cx="171.2" cy="341.62" rx="4.9" ry="2.7" fill="#a6e070"/>
<ellipse cx="182" cy="341.57" rx="4.9" ry="2.7" fill="#a6e070"/>
<ellipse cx="192.8" cy="341.53" rx="4.9" ry="2.7" fill="#a6e070"/>
<circle cx="97" cy="341.92" r="3" fill="#e2f2d6"/>
<rect x="108.1" y="332.95" width="38" height="5.6" fill="#4a4d4f" stroke="#232527" stroke-width="0.9" />
<text x="127.1" y="337.25" font-family="Liberation Sans, sans-serif" font-size="3.8" fill="#a5a7a8" text-anchor="middle" font-weight="normal" >CALLE PRINCIPAL</text>
<line x1="250" y1="341.31" x2="350.8" y2="340.88" stroke="#3f8125" stroke-width="6.2" stroke-linecap="round"/>
<ellipse cx="259.4" cy="341.26" rx="4.9" ry="2.7" fill="#a6e070"/>
<ellipse cx="270.2" cy="341.22" rx="4.9" ry="2.7" fill="#a6e070"/>
<ellipse cx="281" cy="341.18" rx="4.9" ry="2.7" fill="#a6e070"/>
<ellipse cx="291.8" cy="341.13" rx="4.9" ry="2.7" fill="#a6e070"/>
<ellipse cx="302.6" cy="341.09" rx="4.9" ry="2.7" fill="#a6e070"/>
<ellipse cx="313.4" cy="341.05" rx="4.9" ry="2.7" fill="#a6e070"/>
<ellipse cx="324.2" cy="341" rx="4.9" ry="2.7" fill="#a6e070"/>
<ellipse cx="335" cy="340.96" rx="4.9" ry="2.7" fill="#a6e070"/>
<ellipse cx="345.8" cy="340.92" rx="4.9" ry="2.7" fill="#a6e070"/>
<circle cx="250" cy="341.31" r="3" fill="#e2f2d6"/>
<rect x="280" y="331.92" width="38" height="5.6" fill="#4a4d4f" stroke="#232527" stroke-width="0.9" />
<text x="299" y="336.22" font-family="Liberation Sans, sans-serif" font-size="3.8" fill="#a5a7a8" text-anchor="middle" font-weight="normal" >CALLE PRINCIPAL</text>
<line x1="403.7" y1="340.7" x2="504" y2="340.27" stroke="#3f8125" stroke-width="6.2" stroke-linecap="round"/>
<ellipse cx="413.1" cy="340.65" rx="4.9" ry="2.7" fill="#a6e070"/>
<ellipse cx="423.9" cy="340.6" rx="4.9" ry="2.7" fill="#a6e070"/>
<ellipse cx="434.7" cy="340.56" rx="4.9" ry="2.7" fill="#a6e070"/>
<ellipse cx="445.5" cy="340.52" rx="4.9" ry="2.7" fill="#a6e070"/>
<ellipse cx="456.3" cy="340.47" rx="4.9" ry="2.7" fill="#a6e070"/>
<ellipse cx="467.1" cy="340.43" rx="4.9" ry="2.7" fill="#a6e070"/>
<ellipse cx="477.9" cy="340.39" rx="4.9" ry="2.7" fill="#a6e070"/>
<ellipse cx="488.7" cy="340.35" rx="4.9" ry="2.7" fill="#a6e070"/>
<ellipse cx="499.5" cy="340.3" rx="4.9" ry="2.7" fill="#a6e070"/>
<circle cx="403.7" cy="340.7" r="3" fill="#e2f2d6"/>
<rect x="434.5" y="330.99" width="38" height="5.6" fill="#4a4d4f" stroke="#232527" stroke-width="0.9" />
<text x="453.5" y="335.29" font-family="Liberation Sans, sans-serif" font-size="3.8" fill="#a5a7a8" text-anchor="middle" font-weight="normal" >CALLE PRINCIPAL</text>
<line x1="556.6" y1="340.09" x2="657" y2="339.66" stroke="#3f8125" stroke-width="6.2" stroke-linecap="round"/>
<ellipse cx="566" cy="340.04" rx="4.9" ry="2.7" fill="#a6e070"/>
<ellipse cx="576.8" cy="339.99" rx="4.9" ry="2.7" fill="#a6e070"/>
<ellipse cx="587.6" cy="339.95" rx="4.9" ry="2.7" fill="#a6e070"/>
<ellipse cx="598.4" cy="339.91" rx="4.9" ry="2.7" fill="#a6e070"/>
<ellipse cx="609.2" cy="339.86" rx="4.9" ry="2.7" fill="#a6e070"/>
<ellipse cx="620" cy="339.82" rx="4.9" ry="2.7" fill="#a6e070"/>
<ellipse cx="630.8" cy="339.78" rx="4.9" ry="2.7" fill="#a6e070"/>
<ellipse cx="641.6" cy="339.73" rx="4.9" ry="2.7" fill="#a6e070"/>
<ellipse cx="652.4" cy="339.69" rx="4.9" ry="2.7" fill="#a6e070"/>
<circle cx="556.6" cy="340.09" r="3" fill="#e2f2d6"/>
<rect x="587" y="330.08" width="38" height="5.6" fill="#4a4d4f" stroke="#232527" stroke-width="0.9" />
<text x="606" y="334.38" font-family="Liberation Sans, sans-serif" font-size="3.8" fill="#a5a7a8" text-anchor="middle" font-weight="normal" >CALLE PRINCIPAL</text>
<g filter="url(#blur)" fill="#f04137" style="mix-blend-mode:multiply"><rect x="105.2" y="181" width="25.4" height="32.8" rx="8"/><rect x="102.3" y="218" width="24.6" height="30.7" rx="8"/><rect x="103.5" y="251" width="27.1" height="29.6" rx="8"/><rect x="101" y="285.6" width="32" height="31.9" rx="8"/><rect x="415.4" y="279" width="28.3" height="31.5" rx="5.5"/><rect x="628.6" y="287.7" width="27" height="31.6" rx="5.5"/><rect x="103.8" y="431.9" width="26.4" height="30.8" rx="5.5"/><rect x="106.7" y="468.5" width="27.9" height="30.8" rx="5.5"/><rect x="166.9" y="367.3" width="27.8" height="30.7" rx="5.5"/><rect x="159.5" y="402.5" width="30.8" height="30.8" rx="5.5"/><rect x="166.9" y="433.3" width="35.1" height="32.3" rx="5.5"/><rect x="169.8" y="467" width="30.8" height="30.9" rx="5.5"/><rect x="310.3" y="367.7" width="38.7" height="29.5" rx="5.5"/><rect x="306.7" y="403.2" width="42.3" height="31.7" rx="5.5"/><polygon points="254,181 276.5,180 280.5,185.5 281,204.5 276.5,211.5 255.5,213.2 252.5,209.5 249.5,190 251,184.5" stroke="#f04137" stroke-width="3" stroke-linejoin="round"/><polygon points="106,506.5 127,506.5 137.5,526.5 132,533.5 110,533 103.5,521 103.5,510" stroke="#f04137" stroke-width="3" stroke-linejoin="round"/><polygon points="164.5,508.5 177.5,508.5 184.5,518 189,530 184,535.5 170.5,535.5 164,525 162.5,514" stroke="#f04137" stroke-width="3" stroke-linejoin="round"/></g>
<g filter="url(#blur)" fill="#f04137" opacity="0.34"><rect x="105.2" y="181" width="25.4" height="32.8" rx="8"/><rect x="102.3" y="218" width="24.6" height="30.7" rx="8"/><rect x="103.5" y="251" width="27.1" height="29.6" rx="8"/><rect x="101" y="285.6" width="32" height="31.9" rx="8"/><rect x="415.4" y="279" width="28.3" height="31.5" rx="5.5"/><rect x="628.6" y="287.7" width="27" height="31.6" rx="5.5"/><rect x="103.8" y="431.9" width="26.4" height="30.8" rx="5.5"/><rect x="106.7" y="468.5" width="27.9" height="30.8" rx="5.5"/><rect x="166.9" y="367.3" width="27.8" height="30.7" rx="5.5"/><rect x="159.5" y="402.5" width="30.8" height="30.8" rx="5.5"/><rect x="166.9" y="433.3" width="35.1" height="32.3" rx="5.5"/><rect x="169.8" y="467" width="30.8" height="30.9" rx="5.5"/><rect x="310.3" y="367.7" width="38.7" height="29.5" rx="5.5"/><rect x="306.7" y="403.2" width="42.3" height="31.7" rx="5.5"/><polygon points="254,181 276.5,180 280.5,185.5 281,204.5 276.5,211.5 255.5,213.2 252.5,209.5 249.5,190 251,184.5" stroke="#f04137" stroke-width="3" stroke-linejoin="round"/><polygon points="106,506.5 127,506.5 137.5,526.5 132,533.5 110,533 103.5,521 103.5,510" stroke="#f04137" stroke-width="3" stroke-linejoin="round"/><polygon points="164.5,508.5 177.5,508.5 184.5,518 189,530 184,535.5 170.5,535.5 164,525 162.5,514" stroke="#f04137" stroke-width="3" stroke-linejoin="round"/></g>
<rect x="36.2" y="129.3" width="11" height="9" fill="#fafafa" stroke="#6a6a6a" stroke-width="0.9" rx="1.5"/>
<text x="41.7" y="136.1" font-family="Liberation Sans, sans-serif" font-size="6" fill="#777" text-anchor="middle" font-weight="normal" >CS</text>
<rect x="71.4" y="128.3" width="11" height="9" fill="#fafafa" stroke="#6a6a6a" stroke-width="0.9" rx="1.5"/>
<text x="76.9" y="135.1" font-family="Liberation Sans, sans-serif" font-size="6" fill="#777" text-anchor="middle" font-weight="normal" >CS</text>
<rect x="762.3" y="120" width="11" height="9" fill="#fafafa" stroke="#6a6a6a" stroke-width="0.9" rx="1.5"/>
<text x="767.8" y="126.8" font-family="Liberation Sans, sans-serif" font-size="6" fill="#777" text-anchor="middle" font-weight="normal" >CS</text>
<rect x="764.5" y="527.5" width="11" height="9" fill="#fafafa" stroke="#6a6a6a" stroke-width="0.9" rx="1.5"/>
<text x="770" y="534.3" font-family="Liberation Sans, sans-serif" font-size="6" fill="#777" text-anchor="middle" font-weight="normal" >CS</text>
<text x="363.8" y="124.8" font-family="Liberation Serif, sans-serif" font-size="10.8" fill="#1c1c1c" text-anchor="start" font-weight="normal" letter-spacing="1.0" stroke="#1c1c1c" stroke-width="0.5">192,38 m</text>
<text x="322.2" y="553.6" font-family="Liberation Serif, sans-serif" font-size="10.8" fill="#1c1c1c" text-anchor="start" font-weight="normal" letter-spacing="1.0" stroke="#1c1c1c" stroke-width="0.5">193.98 m</text>
<text x="0" y="0" transform="translate(773.6,323) rotate(90)" font-family="Liberation Serif, serif" font-size="10.8" font-weight="normal" letter-spacing="1.0" stroke="#1c1c1c" stroke-width="0.5" fill="#1e1e1e">105,00 m</text>
<circle cx="548.3" cy="71.1" r="19.3" fill="#fff" stroke="#111" stroke-width="2.6"/>
<polygon points="563.9,41.1 532.2,75 549.4,71.1" fill="#a9a9a9" stroke="#666" stroke-width="0.7"/>
<polygon points="563.9,41.1 549.4,71.1 553.9,86.7" fill="#fff" stroke="#888" stroke-width="0.7"/>
<path d="M537,78 q4,-4 6,2 q2,6 5,0 q2,-5 4,3 M540,86 q3,-6 5,-2" fill="none" stroke="#aaa" stroke-width="0.6"/>
<line x1="0" y1="9" x2="840" y2="9" stroke="#d4d4d4" stroke-width="1.2" />
<line x1="0" y1="25" x2="840" y2="25" stroke="#d4d4d4" stroke-width="1.5" />
<polyline points="0,30.6 793,30.6 793,623.8 0,623.8" fill="none" stroke="#bcbcbc" stroke-width="1.4"/>
<clipPath id="gc"><circle cx="864" cy="118" r="48.6"/></clipPath>
<linearGradient id="gg" x1="0" y1="0" x2="0" y2="1"><stop offset="0" stop-color="#d3c9ba"/><stop offset="0.35" stop-color="#bcae9c"/><stop offset="0.6" stop-color="#75675c"/><stop offset="1" stop-color="#6a5b4f"/></linearGradient>
<g clip-path="url(#gc)">
<rect x="810" y="65" width="40" height="110" fill="url(#gg)"/>
<rect x="825.57" y="131.02" width="3.79" height="2.5" fill="#1f1a17" transform="rotate(-30 825.57 131.02)"/>
<rect x="817.7" y="151.53" width="2.53" height="2.92" fill="#4a3d33" transform="rotate(-30 817.7 151.53)"/>
<rect x="821.1" y="91.62" width="3.47" height="3.14" fill="#4a3d33" transform="rotate(-30 821.1 91.62)"/>
<rect x="840.94" y="138.93" width="2.92" height="1.64" fill="#1f1a17" transform="rotate(-30 840.94 138.93)"/>
<rect x="813.89" y="86.99" width="3.66" height="2.88" fill="#e2dace" transform="rotate(-30 813.89 86.99)"/>
<rect x="825.22" y="154.76" width="2.65" height="2.99" fill="#3b3029" transform="rotate(-30 825.22 154.76)"/>
<rect x="825.72" y="107.37" width="3.99" height="3.99" fill="#e2dace" transform="rotate(-30 825.72 107.37)"/>
<rect x="821.46" y="103.29" width="2.01" height="1.4" fill="#b5a48f" transform="rotate(-30 821.46 103.29)"/>
<rect x="815.23" y="108.44" width="1.39" height="1.25" fill="#c4b8a6" transform="rotate(-30 815.23 108.44)"/>
<rect x="818.29" y="160.46" width="2.52" height="3.95" fill="#3b3029" transform="rotate(-30 818.29 160.46)"/>
<rect x="828.99" y="100.67" width="3.09" height="2.14" fill="#d6ccbd" transform="rotate(-30 828.99 100.67)"/>
<rect x="840.92" y="147.68" width="1.53" height="1.89" fill="#3b3029" transform="rotate(-30 840.92 147.68)"/>
<rect x="825.95" y="124.89" width="3.11" height="1.73" fill="#2a221d" transform="rotate(-30 825.95 124.89)"/>
<rect x="824.58" y="116.24" width="2.31" height="3.97" fill="#1f1a17" transform="rotate(-30 824.58 116.24)"/>
<rect x="821.12" y="158.33" width="1.79" height="2.3" fill="#d6ccbd" transform="rotate(-30 821.12 158.33)"/>
<rect x="813.26" y="96.29" width="2.44" height="1.23" fill="#e2dace" transform="rotate(-30 813.26 96.29)"/>
<rect x="823.59" y="90.24" width="1.78" height="2.98" fill="#5e5045" transform="rotate(-30 823.59 90.24)"/>
<rect x="823.15" y="122.07" width="3.89" height="2.55" fill="#b5a48f" transform="rotate(-30 823.15 122.07)"/>
<rect x="817.48" y="96.95" width="3.74" height="3.49" fill="#c4b8a6" transform="rotate(-30 817.48 96.95)"/>
<rect x="816.75" y="136.83" width="2.75" height="3.12" fill="#4a3d33" transform="rotate(-30 816.75 136.83)"/>
<rect x="830.11" y="119.4" width="1.49" height="1.31" fill="#c4b8a6" transform="rotate(-30 830.11 119.4)"/>
<rect x="834.19" y="116.9" width="2.38" height="3.73" fill="#c4b8a6" transform="rotate(-30 834.19 116.9)"/>
<rect x="839.88" y="166.08" width="1.55" height="2.54" fill="#1f1a17" transform="rotate(-30 839.88 166.08)"/>
<rect x="830.43" y="107.54" width="3.77" height="1.77" fill="#5e5045" transform="rotate(-30 830.43 107.54)"/>
<rect x="824.34" y="104.92" width="1.33" height="1.99" fill="#c4b8a6" transform="rotate(-30 824.34 104.92)"/>
<rect x="814.77" y="95.63" width="2.46" height="2.13" fill="#c4b8a6" transform="rotate(-30 814.77 95.63)"/>
<rect x="829.7" y="161.58" width="2.53" height="2.2" fill="#3b3029" transform="rotate(-30 829.7 161.58)"/>
<rect x="812.64" y="137.44" width="2.55" height="3.25" fill="#3b3029" transform="rotate(-30 812.64 137.44)"/>
<rect x="814.26" y="129.87" width="3.26" height="3.72" fill="#c4b8a6" transform="rotate(-30 814.26 129.87)"/>
<rect x="835.8" y="160.86" width="2.19" height="3.12" fill="#b5a48f" transform="rotate(-30 835.8 160.86)"/>
<rect x="840.33" y="86.54" width="2.6" height="1.24" fill="#b5a48f" transform="rotate(-30 840.33 86.54)"/>
<rect x="829.48" y="135.14" width="1.42" height="2.99" fill="#b5a48f" transform="rotate(-30 829.48 135.14)"/>
<rect x="833.85" y="116.63" width="3.26" height="2.83" fill="#d6ccbd" transform="rotate(-30 833.85 116.63)"/>
<rect x="827.56" y="127.22" width="2.07" height="1.45" fill="#3b3029" transform="rotate(-30 827.56 127.22)"/>
<rect x="826.92" y="135.62" width="3.78" height="1.92" fill="#5e5045" transform="rotate(-30 826.92 135.62)"/>
<rect x="816.3" y="135.39" width="2.65" height="3.31" fill="#4a3d33" transform="rotate(-30 816.3 135.39)"/>
<rect x="826.95" y="104.28" width="2.33" height="1.9" fill="#c4b8a6" transform="rotate(-30 826.95 104.28)"/>
<rect x="838.41" y="116.29" width="2.83" height="2.09" fill="#4a3d33" transform="rotate(-30 838.41 116.29)"/>
<rect x="822.52" y="159.23" width="1.31" height="1.38" fill="#c4b8a6" transform="rotate(-30 822.52 159.23)"/>
<rect x="815.38" y="123.59" width="3.79" height="3.53" fill="#1f1a17" transform="rotate(-30 815.38 123.59)"/>
<rect x="826.82" y="110.49" width="3.55" height="3.95" fill="#d6ccbd" transform="rotate(-30 826.82 110.49)"/>
<rect x="836.86" y="107.36" width="2.9" height="3.1" fill="#e2dace" transform="rotate(-30 836.86 107.36)"/>
<rect x="821.27" y="150.49" width="1.25" height="1.58" fill="#3b3029" transform="rotate(-30 821.27 150.49)"/>
<rect x="835.08" y="106.38" width="3.38" height="3.43" fill="#d6ccbd" transform="rotate(-30 835.08 106.38)"/>
<rect x="825.39" y="136.92" width="3.03" height="3.46" fill="#c4b8a6" transform="rotate(-30 825.39 136.92)"/>
<rect x="817.98" y="123.91" width="1.7" height="1.23" fill="#3b3029" transform="rotate(-30 817.98 123.91)"/>
<rect x="817.37" y="106.88" width="2.17" height="3.15" fill="#c4b8a6" transform="rotate(-30 817.37 106.88)"/>
<rect x="823.81" y="150.52" width="3.74" height="1.44" fill="#b5a48f" transform="rotate(-30 823.81 150.52)"/>
<rect x="815.9" y="122.1" width="2.95" height="3.75" fill="#1f1a17" transform="rotate(-30 815.9 122.1)"/>
<rect x="831.58" y="126.22" width="3.49" height="2.16" fill="#2a221d" transform="rotate(-30 831.58 126.22)"/>
<rect x="814.97" y="156.76" width="3.44" height="3.79" fill="#2a221d" transform="rotate(-30 814.97 156.76)"/>
<rect x="839" y="166.36" width="3.94" height="2.7" fill="#e2dace" transform="rotate(-30 839 166.36)"/>
<rect x="819.86" y="144.33" width="1.24" height="2.61" fill="#5e5045" transform="rotate(-30 819.86 144.33)"/>
<rect x="828.51" y="148.53" width="2.56" height="1.28" fill="#d6ccbd" transform="rotate(-30 828.51 148.53)"/>
<rect x="824.87" y="86.95" width="2.69" height="3.12" fill="#b5a48f" transform="rotate(-30 824.87 86.95)"/>
<rect x="816.46" y="127.39" width="3.23" height="3.55" fill="#b5a48f" transform="rotate(-30 816.46 127.39)"/>
<rect x="829.37" y="141.88" width="3.32" height="2.43" fill="#1f1a17" transform="rotate(-30 829.37 141.88)"/>
<rect x="831.17" y="127.91" width="3.56" height="2.77" fill="#4a3d33" transform="rotate(-30 831.17 127.91)"/>
<rect x="840.64" y="157.09" width="2.91" height="2.05" fill="#1f1a17" transform="rotate(-30 840.64 157.09)"/>
<rect x="827.73" y="132.13" width="1.76" height="2.7" fill="#1f1a17" transform="rotate(-30 827.73 132.13)"/>
<rect x="823.31" y="129.22" width="1.32" height="3.77" fill="#1f1a17" transform="rotate(-30 823.31 129.22)"/>
<rect x="815.66" y="91.83" width="1.67" height="3.81" fill="#b5a48f" transform="rotate(-30 815.66 91.83)"/>
<rect x="820.08" y="123.75" width="1.56" height="2.41" fill="#b5a48f" transform="rotate(-30 820.08 123.75)"/>
<rect x="827.75" y="93.12" width="2.37" height="1.28" fill="#d6ccbd" transform="rotate(-30 827.75 93.12)"/>
<rect x="813.07" y="97.06" width="1.23" height="2" fill="#c4b8a6" transform="rotate(-30 813.07 97.06)"/>
<rect x="830.59" y="92.81" width="3.25" height="1.54" fill="#e2dace" transform="rotate(-30 830.59 92.81)"/>
<rect x="833.53" y="142.91" width="3.66" height="1.27" fill="#1f1a17" transform="rotate(-30 833.53 142.91)"/>
<rect x="830.47" y="129.21" width="3.62" height="2.7" fill="#2a221d" transform="rotate(-30 830.47 129.21)"/>
<rect x="837.54" y="135.38" width="3.6" height="1.85" fill="#e2dace" transform="rotate(-30 837.54 135.38)"/>
<rect x="839.08" y="110.53" width="2.08" height="3.78" fill="#2a221d" transform="rotate(-30 839.08 110.53)"/>
<rect x="838.63" y="95.25" width="1.87" height="3.23" fill="#d6ccbd" transform="rotate(-30 838.63 95.25)"/>
<rect x="825.04" y="163.06" width="2.72" height="3.17" fill="#3b3029" transform="rotate(-30 825.04 163.06)"/>
<rect x="814.88" y="131.87" width="2.2" height="3.5" fill="#1f1a17" transform="rotate(-30 814.88 131.87)"/>
<rect x="831.04" y="112.85" width="4" height="3.53" fill="#b5a48f" transform="rotate(-30 831.04 112.85)"/>
<rect x="815.19" y="87.14" width="2.74" height="2.64" fill="#c4b8a6" transform="rotate(-30 815.19 87.14)"/>
<rect x="817.69" y="93.66" width="1.68" height="1.64" fill="#d6ccbd" transform="rotate(-30 817.69 93.66)"/>
<rect x="829.39" y="95.29" width="3.11" height="1.42" fill="#4a3d33" transform="rotate(-30 829.39 95.29)"/>
<rect x="826.01" y="127.28" width="2.4" height="2.88" fill="#3b3029" transform="rotate(-30 826.01 127.28)"/>
<rect x="837.33" y="99.23" width="2.47" height="3.27" fill="#c4b8a6" transform="rotate(-30 837.33 99.23)"/>
<rect x="830.15" y="91.96" width="3.42" height="2.11" fill="#4a3d33" transform="rotate(-30 830.15 91.96)"/>
<rect x="829.09" y="100.04" width="2.84" height="2.15" fill="#e2dace" transform="rotate(-30 829.09 100.04)"/>
<rect x="839.34" y="146.53" width="3.38" height="3.48" fill="#5e5045" transform="rotate(-30 839.34 146.53)"/>
<rect x="838.4" y="142.36" width="3.35" height="3.34" fill="#2a221d" transform="rotate(-30 838.4 142.36)"/>
<rect x="814.12" y="112.7" width="2.51" height="1.23" fill="#1f1a17" transform="rotate(-30 814.12 112.7)"/>
<rect x="813.49" y="106.93" width="3.89" height="2.04" fill="#4a3d33" transform="rotate(-30 813.49 106.93)"/>
<rect x="829.09" y="128.78" width="2.29" height="4" fill="#d6ccbd" transform="rotate(-30 829.09 128.78)"/>
<rect x="834.85" y="166.33" width="1.26" height="2.92" fill="#e2dace" transform="rotate(-30 834.85 166.33)"/>
<rect x="825.31" y="126.4" width="3.33" height="3.01" fill="#5e5045" transform="rotate(-30 825.31 126.4)"/>
<rect x="819.53" y="160.07" width="2.74" height="2.62" fill="#d6ccbd" transform="rotate(-30 819.53 160.07)"/>
<rect x="831.14" y="152" width="1.41" height="2.87" fill="#d6ccbd" transform="rotate(-30 831.14 152)"/>
<rect x="823.59" y="162.84" width="2.28" height="3.92" fill="#d6ccbd" transform="rotate(-30 823.59 162.84)"/>
<rect x="824.89" y="125.54" width="2" height="2.32" fill="#1f1a17" transform="rotate(-30 824.89 125.54)"/>
<rect x="820.57" y="139.03" width="2.77" height="1.99" fill="#5e5045" transform="rotate(-30 820.57 139.03)"/>
<rect x="812.81" y="148.89" width="2.84" height="2.97" fill="#4a3d33" transform="rotate(-30 812.81 148.89)"/>
<rect x="813.58" y="110.47" width="2.31" height="2.83" fill="#e2dace" transform="rotate(-30 813.58 110.47)"/>
<rect x="814.21" y="160.07" width="2.4" height="2.54" fill="#c4b8a6" transform="rotate(-30 814.21 160.07)"/>
<rect x="813.36" y="92.27" width="3.47" height="3.75" fill="#2a221d" transform="rotate(-30 813.36 92.27)"/>
<rect x="830.11" y="93.67" width="2.95" height="2.48" fill="#d6ccbd" transform="rotate(-30 830.11 93.67)"/>
<rect x="822.7" y="97" width="2.22" height="1.59" fill="#e2dace" transform="rotate(-30 822.7 97)"/>
<rect x="831.19" y="141.29" width="2.22" height="3.28" fill="#c4b8a6" transform="rotate(-30 831.19 141.29)"/>
<rect x="840.58" y="145.68" width="1.87" height="1.52" fill="#e2dace" transform="rotate(-30 840.58 145.68)"/>
<rect x="820.24" y="135.22" width="3.23" height="3.16" fill="#5e5045" transform="rotate(-30 820.24 135.22)"/>
<rect x="834.6" y="99.94" width="1.9" height="3.94" fill="#d6ccbd" transform="rotate(-30 834.6 99.94)"/>
<rect x="830.85" y="84.8" width="1.93" height="1.28" fill="#2a221d" transform="rotate(-30 830.85 84.8)"/>
<rect x="828.25" y="90.09" width="1.44" height="3.09" fill="#e2dace" transform="rotate(-30 828.25 90.09)"/>
<rect x="826.52" y="113.74" width="2.15" height="2.58" fill="#3b3029" transform="rotate(-30 826.52 113.74)"/>
<rect x="836.07" y="121.57" width="3.5" height="3.55" fill="#b5a48f" transform="rotate(-30 836.07 121.57)"/>
<rect x="824.73" y="105.68" width="3.47" height="2.23" fill="#e2dace" transform="rotate(-30 824.73 105.68)"/>
<rect x="820.73" y="147.75" width="3.51" height="1.71" fill="#1f1a17" transform="rotate(-30 820.73 147.75)"/>
<rect x="814.91" y="157.51" width="1.42" height="1.43" fill="#4a3d33" transform="rotate(-30 814.91 157.51)"/>
<rect x="836.46" y="122.94" width="3.51" height="1.23" fill="#1f1a17" transform="rotate(-30 836.46 122.94)"/>
<rect x="814.45" y="109.52" width="3.23" height="3.14" fill="#2a221d" transform="rotate(-30 814.45 109.52)"/>
<rect x="818.56" y="139.21" width="2.12" height="3.74" fill="#4a3d33" transform="rotate(-30 818.56 139.21)"/>
<rect x="829.08" y="161.16" width="3.83" height="3.76" fill="#5e5045" transform="rotate(-30 829.08 161.16)"/>
<rect x="825.75" y="102.58" width="3.91" height="3.24" fill="#d6ccbd" transform="rotate(-30 825.75 102.58)"/>
<rect x="822.85" y="114.71" width="2.22" height="2.31" fill="#2a221d" transform="rotate(-30 822.85 114.71)"/>
<rect x="834.16" y="114.93" width="2.29" height="1.63" fill="#c4b8a6" transform="rotate(-30 834.16 114.93)"/>
<rect x="817.3" y="147.75" width="3.67" height="1.99" fill="#1f1a17" transform="rotate(-30 817.3 147.75)"/>
<rect x="813.73" y="97.33" width="2.03" height="1.26" fill="#b5a48f" transform="rotate(-30 813.73 97.33)"/>
<rect x="813.92" y="129.93" width="3.41" height="1.44" fill="#3b3029" transform="rotate(-30 813.92 129.93)"/>
<rect x="838.97" y="91.11" width="2.98" height="1.6" fill="#b5a48f" transform="rotate(-30 838.97 91.11)"/>
<rect x="819.36" y="102.52" width="3.34" height="2.66" fill="#b5a48f" transform="rotate(-30 819.36 102.52)"/>
<rect x="822.51" y="151.81" width="2.13" height="1.58" fill="#3b3029" transform="rotate(-30 822.51 151.81)"/>
<rect x="833.24" y="160.86" width="2.35" height="3.51" fill="#3b3029" transform="rotate(-30 833.24 160.86)"/>
<rect x="836.18" y="154.04" width="3.69" height="3.88" fill="#1f1a17" transform="rotate(-30 836.18 154.04)"/>
<rect x="822.86" y="84.85" width="1.51" height="3.79" fill="#c4b8a6" transform="rotate(-30 822.86 84.85)"/>
<rect x="834.24" y="167.24" width="2.25" height="1.67" fill="#4a3d33" transform="rotate(-30 834.24 167.24)"/>
<rect x="827.87" y="107.02" width="3.68" height="2.52" fill="#e2dace" transform="rotate(-30 827.87 107.02)"/>
<rect x="831.44" y="149.18" width="1.7" height="1.37" fill="#1f1a17" transform="rotate(-30 831.44 149.18)"/>
<rect x="826.43" y="151.23" width="2.08" height="1.75" fill="#1f1a17" transform="rotate(-30 826.43 151.23)"/>
<rect x="819.06" y="144.25" width="2.87" height="1.83" fill="#5e5045" transform="rotate(-30 819.06 144.25)"/>
<rect x="824.07" y="160.5" width="3.82" height="2.95" fill="#b5a48f" transform="rotate(-30 824.07 160.5)"/>
<rect x="837.6" y="124.72" width="2.33" height="3.88" fill="#d6ccbd" transform="rotate(-30 837.6 124.72)"/>
<rect x="826.48" y="102.56" width="1.34" height="3.85" fill="#b5a48f" transform="rotate(-30 826.48 102.56)"/>
<rect x="841.28" y="150.76" width="3.37" height="3.41" fill="#2a221d" transform="rotate(-30 841.28 150.76)"/>
<rect x="838.77" y="157.42" width="3.73" height="2.46" fill="#4a3d33" transform="rotate(-30 838.77 157.42)"/>
<rect x="830.18" y="97.21" width="1.64" height="2.1" fill="#c4b8a6" transform="rotate(-30 830.18 97.21)"/>
<rect x="831.11" y="167.42" width="1.95" height="2.7" fill="#2a221d" transform="rotate(-30 831.11 167.42)"/>
<rect x="812.04" y="153" width="3.57" height="3.5" fill="#5e5045" transform="rotate(-30 812.04 153)"/>
<rect x="830.45" y="128.35" width="3.69" height="3.14" fill="#1f1a17" transform="rotate(-30 830.45 128.35)"/>
<rect x="828.3" y="126.5" width="1.25" height="1.73" fill="#3b3029" transform="rotate(-30 828.3 126.5)"/>
<rect x="835.44" y="120.98" width="1.3" height="2.36" fill="#e2dace" transform="rotate(-30 835.44 120.98)"/>
<rect x="821.48" y="118.06" width="2.76" height="3.99" fill="#d6ccbd" transform="rotate(-30 821.48 118.06)"/>
<rect x="822.79" y="141.72" width="1.5" height="2.3" fill="#3b3029" transform="rotate(-30 822.79 141.72)"/>
<rect x="831.62" y="85.04" width="2.26" height="3.19" fill="#d6ccbd" transform="rotate(-30 831.62 85.04)"/>
<rect x="825.74" y="84.88" width="3.98" height="3.44" fill="#c4b8a6" transform="rotate(-30 825.74 84.88)"/>
<rect x="820.71" y="115.58" width="2.71" height="2.03" fill="#4a3d33" transform="rotate(-30 820.71 115.58)"/>
<rect x="828.67" y="91.3" width="1.73" height="2.25" fill="#5e5045" transform="rotate(-30 828.67 91.3)"/>
<rect x="840.35" y="131.28" width="3.23" height="2.13" fill="#d6ccbd" transform="rotate(-30 840.35 131.28)"/>
<rect x="815.06" y="136.22" width="1.57" height="2.97" fill="#2a221d" transform="rotate(-30 815.06 136.22)"/>
<rect x="824.07" y="154.3" width="2.86" height="1.45" fill="#2a221d" transform="rotate(-30 824.07 154.3)"/>
<rect x="841.62" y="120.44" width="3.36" height="2.16" fill="#c4b8a6" transform="rotate(-30 841.62 120.44)"/>
<rect x="831.42" y="148.42" width="3.5" height="2.28" fill="#4a3d33" transform="rotate(-30 831.42 148.42)"/>
<rect x="830.69" y="145.06" width="2.92" height="2.09" fill="#c4b8a6" transform="rotate(-30 830.69 145.06)"/>
<rect x="831.81" y="135.12" width="1.25" height="2.13" fill="#4a3d33" transform="rotate(-30 831.81 135.12)"/>
<rect x="815.19" y="115.72" width="2.63" height="3.41" fill="#c4b8a6" transform="rotate(-30 815.19 115.72)"/>
<rect x="819.62" y="129.26" width="2.04" height="1.85" fill="#1f1a17" transform="rotate(-30 819.62 129.26)"/>
<rect x="816.25" y="143.93" width="3.96" height="2.64" fill="#2a221d" transform="rotate(-30 816.25 143.93)"/>
<rect x="829.02" y="86.24" width="3.05" height="3.37" fill="#4a3d33" transform="rotate(-30 829.02 86.24)"/>
<rect x="829.29" y="142.56" width="2.12" height="3.8" fill="#4a3d33" transform="rotate(-30 829.29 142.56)"/>
<rect x="838.49" y="121.99" width="3.24" height="1.87" fill="#d6ccbd" transform="rotate(-30 838.49 121.99)"/>
<rect x="828.81" y="106.21" width="3.75" height="3.98" fill="#c4b8a6" transform="rotate(-30 828.81 106.21)"/>
<rect x="815.68" y="153.27" width="2.01" height="3.71" fill="#1f1a17" transform="rotate(-30 815.68 153.27)"/>
<rect x="822.89" y="97.93" width="2.87" height="3.47" fill="#b5a48f" transform="rotate(-30 822.89 97.93)"/>
<rect x="817.4" y="166.91" width="3.83" height="3.04" fill="#4a3d33" transform="rotate(-30 817.4 166.91)"/>
<rect x="830.46" y="137.79" width="3.34" height="1.64" fill="#3b3029" transform="rotate(-30 830.46 137.79)"/>
<rect x="816.29" y="116.46" width="2.79" height="1.69" fill="#e2dace" transform="rotate(-30 816.29 116.46)"/>
<rect x="819.32" y="162.26" width="1.35" height="3.4" fill="#2a221d" transform="rotate(-30 819.32 162.26)"/>
<rect x="824.1" y="125.79" width="1.49" height="2.17" fill="#b5a48f" transform="rotate(-30 824.1 125.79)"/>
<rect x="834.55" y="124.81" width="3.98" height="3.55" fill="#b5a48f" transform="rotate(-30 834.55 124.81)"/>
<rect x="836.75" y="93.86" width="1.52" height="3.83" fill="#b5a48f" transform="rotate(-30 836.75 93.86)"/>
<rect x="824.61" y="86.03" width="3.74" height="2.03" fill="#b5a48f" transform="rotate(-30 824.61 86.03)"/>
<rect x="833.96" y="134.19" width="3.31" height="2.05" fill="#3b3029" transform="rotate(-30 833.96 134.19)"/>
<rect x="819.33" y="154.93" width="1.88" height="3.64" fill="#b5a48f" transform="rotate(-30 819.33 154.93)"/>
<rect x="832.85" y="128.2" width="1.87" height="2.06" fill="#2a221d" transform="rotate(-30 832.85 128.2)"/>
<rect x="838.39" y="167.94" width="3.25" height="3.64" fill="#1f1a17" transform="rotate(-30 838.39 167.94)"/>
<rect x="824.64" y="151.64" width="1.82" height="3.29" fill="#3b3029" transform="rotate(-30 824.64 151.64)"/>
<rect x="814.96" y="150.56" width="1.55" height="2.71" fill="#d6ccbd" transform="rotate(-30 814.96 150.56)"/>
<rect x="820.88" y="145.17" width="1.27" height="1.68" fill="#4a3d33" transform="rotate(-30 820.88 145.17)"/>
<rect x="836.46" y="117.37" width="2.2" height="2.84" fill="#3b3029" transform="rotate(-30 836.46 117.37)"/>
<rect x="825.65" y="110.36" width="2.11" height="1.6" fill="#b5a48f" transform="rotate(-30 825.65 110.36)"/>
<rect x="838.36" y="101.03" width="3.61" height="3.14" fill="#5e5045" transform="rotate(-30 838.36 101.03)"/>
<rect x="837.14" y="113.75" width="2.52" height="1.68" fill="#c4b8a6" transform="rotate(-30 837.14 113.75)"/>
<rect x="827.99" y="103.84" width="3.86" height="3.93" fill="#e2dace" transform="rotate(-30 827.99 103.84)"/>
<rect x="833.77" y="110.29" width="3.72" height="3.63" fill="#c4b8a6" transform="rotate(-30 833.77 110.29)"/>
<rect x="822.05" y="164.38" width="3.38" height="2.36" fill="#5e5045" transform="rotate(-30 822.05 164.38)"/>
<rect x="815.62" y="142.06" width="1.95" height="3.22" fill="#5e5045" transform="rotate(-30 815.62 142.06)"/>
<rect x="835.71" y="115.29" width="3.05" height="3.68" fill="#c4b8a6" transform="rotate(-30 835.71 115.29)"/>
<rect x="841.31" y="159.22" width="1.71" height="1.83" fill="#3b3029" transform="rotate(-30 841.31 159.22)"/>
<rect x="825.88" y="90.41" width="3.77" height="1.41" fill="#d6ccbd" transform="rotate(-30 825.88 90.41)"/>
<rect x="829.99" y="107.9" width="1.9" height="3.45" fill="#5e5045" transform="rotate(-30 829.99 107.9)"/>
<rect x="841.65" y="99.92" width="1.7" height="3.26" fill="#2a221d" transform="rotate(-30 841.65 99.92)"/>
<rect x="841.63" y="86.82" width="2.49" height="3.3" fill="#b5a48f" transform="rotate(-30 841.63 86.82)"/>
<rect x="813.81" y="89.38" width="3.37" height="3.75" fill="#b5a48f" transform="rotate(-30 813.81 89.38)"/>
<rect x="835.49" y="127.41" width="2.62" height="3.57" fill="#c4b8a6" transform="rotate(-30 835.49 127.41)"/>
<rect x="829.82" y="148.78" width="1.51" height="2.42" fill="#1f1a17" transform="rotate(-30 829.82 148.78)"/>
<rect x="835.19" y="150.07" width="3.42" height="1.86" fill="#2a221d" transform="rotate(-30 835.19 150.07)"/>
<rect x="837.58" y="134.68" width="1.93" height="1.77" fill="#d6ccbd" transform="rotate(-30 837.58 134.68)"/>
<rect x="829.18" y="157.32" width="1.7" height="1.63" fill="#4a3d33" transform="rotate(-30 829.18 157.32)"/>
<rect x="836.19" y="126.31" width="3.22" height="3.6" fill="#3b3029" transform="rotate(-30 836.19 126.31)"/>
<rect x="839.22" y="131.79" width="2.72" height="3.42" fill="#2a221d" transform="rotate(-30 839.22 131.79)"/>
<rect x="813.62" y="119.73" width="3.15" height="3.5" fill="#e2dace" transform="rotate(-30 813.62 119.73)"/>
<rect x="834.96" y="125.86" width="3.02" height="2.63" fill="#2a221d" transform="rotate(-30 834.96 125.86)"/>
<rect x="816.79" y="142.02" width="3.53" height="3.4" fill="#4a3d33" transform="rotate(-30 816.79 142.02)"/>
<rect x="826.01" y="142.69" width="3.17" height="3.88" fill="#1f1a17" transform="rotate(-30 826.01 142.69)"/>
<rect x="841.59" y="96.14" width="2.47" height="3.29" fill="#2a221d" transform="rotate(-30 841.59 96.14)"/>
<rect x="824.3" y="128.15" width="1.46" height="2.76" fill="#3b3029" transform="rotate(-30 824.3 128.15)"/>
<rect x="841.15" y="141.11" width="3.21" height="3.93" fill="#5e5045" transform="rotate(-30 841.15 141.11)"/>
<rect x="819.6" y="130.36" width="1.88" height="2.49" fill="#e2dace" transform="rotate(-30 819.6 130.36)"/>
<rect x="821.26" y="163.5" width="3.78" height="1.81" fill="#1f1a17" transform="rotate(-30 821.26 163.5)"/>
<rect x="831.49" y="88.92" width="2.16" height="3.15" fill="#c4b8a6" transform="rotate(-30 831.49 88.92)"/>
<rect x="825.88" y="117.01" width="3.56" height="2.27" fill="#c4b8a6" transform="rotate(-30 825.88 117.01)"/>
<rect x="824.55" y="104.71" width="3.42" height="3.45" fill="#b5a48f" transform="rotate(-30 824.55 104.71)"/>
<rect x="818.43" y="123.29" width="2.06" height="2.45" fill="#c4b8a6" transform="rotate(-30 818.43 123.29)"/>
<rect x="837.88" y="101.19" width="2.27" height="1.4" fill="#e2dace" transform="rotate(-30 837.88 101.19)"/>
<rect x="840.46" y="136.16" width="2.65" height="3.28" fill="#1f1a17" transform="rotate(-30 840.46 136.16)"/>
<rect x="839.71" y="144.08" width="1.95" height="2.21" fill="#5e5045" transform="rotate(-30 839.71 144.08)"/>
<rect x="816.11" y="104.23" width="3.55" height="1.53" fill="#b5a48f" transform="rotate(-30 816.11 104.23)"/>
<rect x="825.5" y="155.78" width="2.27" height="1.92" fill="#d6ccbd" transform="rotate(-30 825.5 155.78)"/>
<rect x="821.07" y="135.07" width="2.57" height="1.73" fill="#2a221d" transform="rotate(-30 821.07 135.07)"/>
<rect x="834.5" y="117" width="7" height="18" fill="#ece9e4"/>
<path d="M824,152 L841,131" stroke="#cfc6b8" stroke-width="1.1"/>
<path d="M817,141 L840,114" stroke="#bfb5a6" stroke-width="1"/>
</g>
<circle cx="864" cy="118" r="48" fill="none" stroke="#e8e4de" stroke-width="1"/>
<path d="M817,81 Q827,70 842,61" fill="none" stroke="#a9b2b7" stroke-width="2.2"/>
<path d="M821,83 Q830,74 842,66" fill="none" stroke="#dfe3e5" stroke-width="1.4"/>
<text x="0" y="0" transform="translate(820.2,177.8) scale(0.76,1)" font-family="DejaVu Sans, sans-serif" font-weight="normal" font-size="17.4" letter-spacing="-1.3" fill="#1a1a1a">UBICACIÓN</text>
<text x="0" y="0" transform="translate(826.5,205.4) scale(0.8,1)" font-family="DejaVu Sans, sans-serif" font-weight="200" font-size="8.4" fill="#555">PROYECTO</text>
<text x="0" y="0" transform="translate(826.5,214.6) scale(0.8,1)" font-family="DejaVu Sans, sans-serif" font-weight="200" font-size="8.4" fill="#555">CAMPO</text>
<text x="0" y="0" transform="translate(826.5,223.6) scale(0.8,1)" font-family="DejaVu Sans, sans-serif" font-weight="200" font-size="8.4" fill="#555">PARCELA</text>
<text x="0" y="0" transform="translate(823.2,236.9) scale(0.85,1)" font-family="DejaVu Sans, sans-serif" font-weight="200" font-size="6.2" fill="#555">COD. CATASTRAL</text>
<rect x="809.8" y="250" width="60" height="45.2" fill="#fff" stroke="#707070" stroke-width="1" />
<line x1="809.8" y1="261.1" x2="870" y2="261.1" stroke="#8a8a8a" stroke-width="0.9" />
<line x1="809.8" y1="272.5" x2="870" y2="272.5" stroke="#8a8a8a" stroke-width="0.9" />
<line x1="809.8" y1="284.3" x2="870" y2="284.3" stroke="#8a8a8a" stroke-width="0.9" />
<text x="824.6" y="259.2" font-family="DejaVu Sans, sans-serif" font-stretch="condensed" font-weight="bold" font-size="7.4" fill="#151515" textLength="24" lengthAdjust="spacingAndGlyphs">CUADRO</text>
<text x="812" y="270.1" font-family="DejaVu Sans, sans-serif" font-stretch="condensed" font-weight="bold" font-size="7.4" fill="#151515" textLength="36.9" lengthAdjust="spacingAndGlyphs">AREA UTIL</text>
<text x="812" y="281.6" font-family="DejaVu Sans, sans-serif" font-stretch="condensed" font-weight="bold" font-size="7.4" fill="#151515" textLength="41.0" lengthAdjust="spacingAndGlyphs">AREA SOLAR</text>
<text x="812" y="292.9" font-family="DejaVu Sans, sans-serif" font-stretch="condensed" font-weight="bold" font-size="7.4" fill="#151515" textLength="49.2" lengthAdjust="spacingAndGlyphs">AREA DE VIAS</text>
<rect x="809.8" y="335.7" width="60" height="33.3" fill="#fff" stroke="#707070" stroke-width="1" />
<line x1="809.8" y1="347.6" x2="870" y2="347.6" stroke="#8a8a8a" stroke-width="0.9" />
<line x1="809.8" y1="356.6" x2="870" y2="356.6" stroke="#8a8a8a" stroke-width="0.9" />
<text x="835" y="345" font-family="DejaVu Sans, sans-serif" font-stretch="condensed" font-weight="bold" font-size="7.4" fill="#151515">CUADRO</text>
<text x="812" y="354.5" font-family="DejaVu Sans, sans-serif" font-stretch="condensed" font-weight="bold" font-size="7.4" fill="#151515" textLength="36.9" lengthAdjust="spacingAndGlyphs">AREA UTIL</text>
<text x="812" y="366" font-family="DejaVu Sans, sans-serif" font-stretch="condensed" font-weight="bold" font-size="7.4" fill="#151515" textLength="49.2" lengthAdjust="spacingAndGlyphs">AREA DE VIAS</text>
<rect x="794.8" y="401" width="52" height="79.2" fill="#fff" stroke="#c4c4c4" stroke-width="0.9" />
<rect x="798.4" y="401.7" width="12.9" height="4.6" fill="#8d8d8d" stroke="#505050" stroke-width="0.6" />
<text x="804.85" y="405.15" font-family="Liberation Sans, sans-serif" font-size="3.2" fill="#f4f4f4" text-anchor="middle" font-weight="bold" >PARQUE</text>
<rect x="816.3" y="401.7" width="30" height="4.6" fill="#a2a2a2" stroke="#505050" stroke-width="0.6" />
<text x="831.3" y="405.15" font-family="Liberation Sans, sans-serif" font-size="3.2" fill="#f4f4f4" text-anchor="middle" font-weight="bold" >ESTACIONAMIENTO</text>
<rect x="801.8" y="407.5" width="5.2" height="4.8" fill="#8a8a8a" stroke="#505050" stroke-width="0.6" />
<text x="804.4" y="410.91" font-family="Liberation Sans, sans-serif" font-size="2.8" fill="#f4f4f4" text-anchor="middle" font-weight="bold" >1C</text>
<rect x="801.8" y="412.9" width="5.2" height="4.8" fill="#8a8a8a" stroke="#505050" stroke-width="0.6" />
<text x="804.4" y="416.31" font-family="Liberation Sans, sans-serif" font-size="2.8" fill="#f4f4f4" text-anchor="middle" font-weight="bold" >2C</text>
<rect x="801.8" y="418.3" width="5.2" height="4.8" fill="#8a8a8a" stroke="#505050" stroke-width="0.6" />
<text x="804.4" y="421.71" font-family="Liberation Sans, sans-serif" font-size="2.8" fill="#f4f4f4" text-anchor="middle" font-weight="bold" >3C</text>
<rect x="801.8" y="423.7" width="5.2" height="4.8" fill="#8a8a8a" stroke="#505050" stroke-width="0.6" />
<text x="804.4" y="427.11" font-family="Liberation Sans, sans-serif" font-size="2.8" fill="#f4f4f4" text-anchor="middle" font-weight="bold" >4C</text>
<rect x="801.8" y="429.1" width="5.2" height="4.8" fill="#8a8a8a" stroke="#505050" stroke-width="0.6" />
<text x="804.4" y="432.51" font-family="Liberation Sans, sans-serif" font-size="2.8" fill="#f4f4f4" text-anchor="middle" font-weight="bold" >5C</text>
<rect x="801.8" y="434.5" width="5.2" height="4.8" fill="#8a8a8a" stroke="#505050" stroke-width="0.6" />
<text x="804.4" y="437.91" font-family="Liberation Sans, sans-serif" font-size="2.8" fill="#f4f4f4" text-anchor="middle" font-weight="bold" >6C</text>
<rect x="798.4" y="451" width="12.2" height="3.9" fill="#8d8d8d" stroke="#505050" stroke-width="0.6" />
<text x="804.5" y="454.1" font-family="Liberation Sans, sans-serif" font-size="3.2" fill="#f4f4f4" text-anchor="middle" font-weight="bold" >COMUN</text>
<rect x="816.3" y="451" width="30" height="3.9" fill="#a2a2a2" stroke="#505050" stroke-width="0.6" />
<text x="831.3" y="454.1" font-family="Liberation Sans, sans-serif" font-size="3.2" fill="#f4f4f4" text-anchor="middle" font-weight="bold" >AREA DE EQUIPAMIENTO</text>
<rect x="799.7" y="461" width="11.7" height="3" fill="#8d8d8d" stroke="#505050" stroke-width="0.6" />
<text x="805.55" y="463.65" font-family="Liberation Sans, sans-serif" font-size="3.2" fill="#f4f4f4" text-anchor="middle" font-weight="bold" >AREA</text>
<rect x="799.7" y="465.2" width="11.7" height="2.4" fill="#7a7a7a" stroke="#505050" stroke-width="0.6" />
<text x="805.55" y="467.55" font-family="Liberation Sans, sans-serif" font-size="3.2" fill="#f4f4f4" text-anchor="middle" font-weight="bold" >VERDE</text>
<rect x="799.7" y="468.7" width="11.7" height="2.8" fill="#6a6a6a" stroke="#505050" stroke-width="0.6" />
<text x="805.55" y="471.25" font-family="Liberation Sans, sans-serif" font-size="3.2" fill="#f4f4f4" text-anchor="middle" font-weight="bold" >LOTE</text>
<rect x="799.7" y="473" width="11.7" height="4" fill="#3f3f3f" stroke="#505050" stroke-width="0.6" />
<text x="805.55" y="476.15" font-family="Liberation Sans, sans-serif" font-size="3.2" fill="#f4f4f4" text-anchor="middle" font-weight="bold" >CALLE</text>
<rect x="823.4" y="461" width="20" height="2.8" fill="#f6f6f6" stroke="#555" stroke-width="0.6" />
<text x="825" y="463.3" font-family="Liberation Sans, sans-serif" font-size="2.6" fill="#333" text-anchor="start" font-weight="normal" >AREA UTIL</text>
<rect x="835.6" y="465.3" width="6" height="6.4" fill="#6a6a6a" stroke="#333" stroke-width="0.6" />
<rect x="823.4" y="471.7" width="20" height="3.2" fill="#f6f6f6" stroke="#555" stroke-width="0.6" />
<text x="825" y="474.3" font-family="Liberation Sans, sans-serif" font-size="2.6" fill="#333" text-anchor="start" font-weight="normal" >SOLAR</text>
<text x="0" y="0" transform="translate(808.2,532.6) scale(0.86,1)" font-family="DejaVu Sans, sans-serif" font-weight="normal" font-size="18.6" fill="#161616">PROYECTO</text>
<line x1="820" y1="593.2" x2="836" y2="593.2" stroke="#e4e4e4" stroke-width="1" />
</svg>
</body></html>
